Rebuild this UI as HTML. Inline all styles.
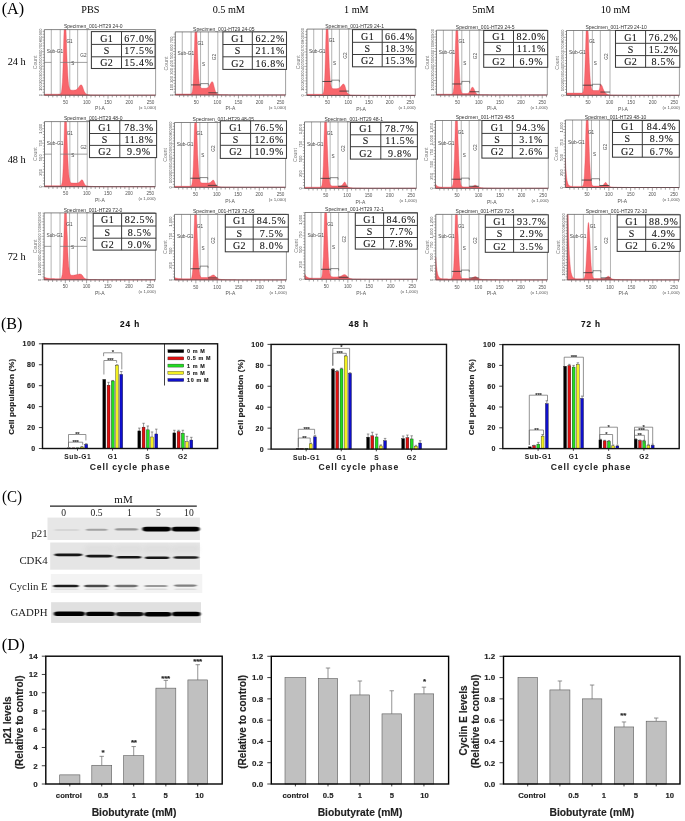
<!DOCTYPE html>
<html><head><meta charset="utf-8"><title>Figure</title>
<style>
html,body{margin:0;padding:0;background:#fff;}
body{width:685px;height:821px;overflow:hidden;}
svg{display:block;}
.s{font-family:'Liberation Sans',Arial,sans-serif;}
.t{font-family:'Liberation Serif','Times New Roman',serif;}
</style></head>
<body>
<svg width="685" height="821" viewBox="0 0 685 821">
<rect x="0" y="0" width="685" height="821" fill="#fff"/>
<text class="t" x="1.70" y="13.60" font-size="17.2" fill="#000" textLength="22.40" lengthAdjust="spacingAndGlyphs">(A)</text>
<text class="t" x="0.90" y="328.80" font-size="17.2" fill="#000" textLength="21.40" lengthAdjust="spacingAndGlyphs">(B)</text>
<text class="t" x="2.00" y="502.10" font-size="17.0" fill="#000" textLength="20.10" lengthAdjust="spacingAndGlyphs">(C)</text>
<text class="t" x="1.70" y="649.50" font-size="17.2" fill="#000" textLength="23.20" lengthAdjust="spacingAndGlyphs">(D)</text>
<text class="t" x="90.40" y="13.10" font-size="10.2" fill="#000" text-anchor="middle">PBS</text>
<text class="t" x="228.80" y="13.10" font-size="10.2" fill="#000" text-anchor="middle">0.5 mM</text>
<text class="t" x="356.30" y="13.10" font-size="10.2" fill="#000" text-anchor="middle">1 mM</text>
<text class="t" x="483.40" y="13.10" font-size="10.2" fill="#000" text-anchor="middle">5mM</text>
<text class="t" x="615.50" y="13.10" font-size="10.2" fill="#000" text-anchor="middle">10 mM</text>
<text class="t" x="7.70" y="65.20" font-size="10.3" fill="#000">24 h</text>
<text class="t" x="7.70" y="162.70" font-size="10.3" fill="#000">48 h</text>
<text class="t" x="7.70" y="259.80" font-size="10.3" fill="#000">72 h</text>
<text class="s" x="93.27" y="28.30" font-size="5.0" fill="#333" text-anchor="middle">Specimen_001-HT29 24-0</text>
<line x1="51.31" y1="29.60" x2="51.31" y2="95.20" stroke="#939393" stroke-width="0.7" />
<line x1="60.23" y1="29.60" x2="60.23" y2="95.20" stroke="#939393" stroke-width="0.7" />
<line x1="69.79" y1="29.60" x2="69.79" y2="95.20" stroke="#939393" stroke-width="0.7" />
<line x1="77.65" y1="29.60" x2="77.65" y2="95.20" stroke="#939393" stroke-width="0.7" />
<line x1="87.21" y1="29.60" x2="87.21" y2="95.20" stroke="#939393" stroke-width="0.7" />
<path d="M44.3,95.2 L44.3,94.2 L58.3,94.2 L58.5,94.1 L60.0,94.1 L60.4,93.9 L60.7,93.7 L61.1,93.0 L61.3,92.3 L61.5,91.3 L61.7,89.9 L61.9,88.0 L62.1,85.4 L62.4,82.1 L62.6,77.8 L62.8,72.7 L63.0,66.7 L63.2,59.9 L63.4,52.5 L63.8,37.3 L64.1,30.2 L64.3,29.6 L66.0,29.6 L66.2,34.7 L66.4,40.4 L66.8,52.2 L67.0,57.9 L67.2,63.3 L67.5,68.1 L67.7,72.4 L67.9,76.1 L68.1,79.1 L68.3,81.5 L68.5,83.5 L68.7,85.0 L68.9,86.2 L69.2,87.2 L69.4,88.0 L69.6,88.6 L69.8,89.1 L70.2,89.7 L70.4,89.8 L70.6,90.0 L71.3,90.1 L71.5,90.2 L74.2,90.2 L74.5,90.1 L74.9,90.1 L75.5,89.9 L75.7,89.9 L76.6,89.5 L76.8,89.3 L77.0,89.2 L77.4,88.8 L77.6,88.5 L77.9,88.3 L78.3,87.7 L78.7,87.2 L79.1,86.5 L79.3,86.2 L79.6,86.0 L80.2,85.2 L80.6,84.9 L80.8,84.9 L81.0,84.8 L81.7,85.1 L82.1,85.7 L82.3,86.1 L82.7,87.1 L83.0,87.7 L83.2,88.4 L84.0,90.8 L84.4,91.7 L84.7,92.1 L85.1,92.8 L86.1,93.9 L87.6,94.6 L87.8,94.6 L88.1,94.7 L88.5,94.7 L89.5,94.8 L89.8,94.9 L92.1,94.9 L92.9,95.0 L97.2,95.0 L98.0,95.1 L103.1,95.1 L103.3,95.2 L155.6,95.2 L155.6,95.2 Z" fill="#f8666c" stroke="#dc4450" stroke-width="0.35" />
<line x1="44.30" y1="62.40" x2="51.31" y2="62.40" stroke="#777" stroke-width="0.7" />
<line x1="60.23" y1="62.40" x2="87.21" y2="62.40" stroke="#777" stroke-width="0.7" />
<text class="s" x="54.97" y="53.22" font-size="4.8" fill="#444" text-anchor="middle">Sub-G1</text>
<text class="s" x="66.53" y="42.72" font-size="4.6" fill="#444">G1</text>
<text class="s" x="72.72" y="65.02" font-size="4.6" fill="#444" text-anchor="middle">S</text>
<text class="s" x="83.43" y="57.15" font-size="4.6" fill="#444" text-anchor="middle">G2</text>
<line x1="44.30" y1="29.60" x2="155.60" y2="29.60" stroke="#666" stroke-width="0.8" />
<line x1="155.60" y1="29.60" x2="155.60" y2="95.20" stroke="#777" stroke-width="0.7" />
<line x1="44.30" y1="29.60" x2="44.30" y2="95.20" stroke="#555" stroke-width="0.8" />
<line x1="44.30" y1="95.20" x2="155.60" y2="95.20" stroke="#5a4448" stroke-width="0.9" />
<line x1="48.55" y1="95.20" x2="48.55" y2="97.40" stroke="#666" stroke-width="0.6" />
<line x1="52.80" y1="95.20" x2="52.80" y2="97.40" stroke="#666" stroke-width="0.6" />
<line x1="57.04" y1="95.20" x2="57.04" y2="97.40" stroke="#666" stroke-width="0.6" />
<line x1="61.29" y1="95.20" x2="61.29" y2="97.40" stroke="#666" stroke-width="0.6" />
<line x1="65.54" y1="95.20" x2="65.54" y2="98.60" stroke="#666" stroke-width="0.6" />
<text class="s" x="65.54" y="103.80" font-size="4.6" fill="#555" text-anchor="middle">50</text>
<line x1="69.79" y1="95.20" x2="69.79" y2="97.40" stroke="#666" stroke-width="0.6" />
<line x1="74.04" y1="95.20" x2="74.04" y2="97.40" stroke="#666" stroke-width="0.6" />
<line x1="78.28" y1="95.20" x2="78.28" y2="97.40" stroke="#666" stroke-width="0.6" />
<line x1="82.53" y1="95.20" x2="82.53" y2="97.40" stroke="#666" stroke-width="0.6" />
<line x1="86.78" y1="95.20" x2="86.78" y2="98.60" stroke="#666" stroke-width="0.6" />
<text class="s" x="86.78" y="103.80" font-size="4.6" fill="#555" text-anchor="middle">100</text>
<line x1="91.03" y1="95.20" x2="91.03" y2="97.40" stroke="#666" stroke-width="0.6" />
<line x1="95.28" y1="95.20" x2="95.28" y2="97.40" stroke="#666" stroke-width="0.6" />
<line x1="99.53" y1="95.20" x2="99.53" y2="97.40" stroke="#666" stroke-width="0.6" />
<line x1="103.77" y1="95.20" x2="103.77" y2="97.40" stroke="#666" stroke-width="0.6" />
<line x1="108.02" y1="95.20" x2="108.02" y2="98.60" stroke="#666" stroke-width="0.6" />
<text class="s" x="108.02" y="103.80" font-size="4.6" fill="#555" text-anchor="middle">150</text>
<line x1="112.27" y1="95.20" x2="112.27" y2="97.40" stroke="#666" stroke-width="0.6" />
<line x1="116.52" y1="95.20" x2="116.52" y2="97.40" stroke="#666" stroke-width="0.6" />
<line x1="120.77" y1="95.20" x2="120.77" y2="97.40" stroke="#666" stroke-width="0.6" />
<line x1="125.01" y1="95.20" x2="125.01" y2="97.40" stroke="#666" stroke-width="0.6" />
<line x1="129.26" y1="95.20" x2="129.26" y2="98.60" stroke="#666" stroke-width="0.6" />
<text class="s" x="129.26" y="103.80" font-size="4.6" fill="#555" text-anchor="middle">200</text>
<line x1="133.51" y1="95.20" x2="133.51" y2="97.40" stroke="#666" stroke-width="0.6" />
<line x1="137.76" y1="95.20" x2="137.76" y2="97.40" stroke="#666" stroke-width="0.6" />
<line x1="142.01" y1="95.20" x2="142.01" y2="97.40" stroke="#666" stroke-width="0.6" />
<line x1="146.25" y1="95.20" x2="146.25" y2="97.40" stroke="#666" stroke-width="0.6" />
<line x1="150.50" y1="95.20" x2="150.50" y2="98.60" stroke="#666" stroke-width="0.6" />
<text class="s" x="150.50" y="103.80" font-size="4.6" fill="#555" text-anchor="middle">250</text>
<line x1="154.75" y1="95.20" x2="154.75" y2="97.40" stroke="#666" stroke-width="0.6" />
<text class="s" x="99.95" y="110.40" font-size="5.0" fill="#555" text-anchor="middle">PI-A</text>
<text class="s" x="156.10" y="108.80" font-size="4.4" fill="#555" text-anchor="end">(x 1,000)</text>
<line x1="41.70" y1="95.20" x2="44.30" y2="95.20" stroke="#666" stroke-width="0.5" />
<line x1="42.70" y1="92.30" x2="44.30" y2="92.30" stroke="#666" stroke-width="0.5" />
<line x1="42.70" y1="89.40" x2="44.30" y2="89.40" stroke="#666" stroke-width="0.5" />
<line x1="42.70" y1="86.50" x2="44.30" y2="86.50" stroke="#666" stroke-width="0.5" />
<line x1="42.70" y1="83.60" x2="44.30" y2="83.60" stroke="#666" stroke-width="0.5" />
<line x1="41.70" y1="80.70" x2="44.30" y2="80.70" stroke="#666" stroke-width="0.5" />
<line x1="42.70" y1="77.80" x2="44.30" y2="77.80" stroke="#666" stroke-width="0.5" />
<line x1="42.70" y1="74.90" x2="44.30" y2="74.90" stroke="#666" stroke-width="0.5" />
<line x1="42.70" y1="72.00" x2="44.30" y2="72.00" stroke="#666" stroke-width="0.5" />
<line x1="42.70" y1="69.10" x2="44.30" y2="69.10" stroke="#666" stroke-width="0.5" />
<line x1="41.70" y1="66.20" x2="44.30" y2="66.20" stroke="#666" stroke-width="0.5" />
<line x1="42.70" y1="63.30" x2="44.30" y2="63.30" stroke="#666" stroke-width="0.5" />
<line x1="42.70" y1="60.40" x2="44.30" y2="60.40" stroke="#666" stroke-width="0.5" />
<line x1="42.70" y1="57.50" x2="44.30" y2="57.50" stroke="#666" stroke-width="0.5" />
<line x1="42.70" y1="54.60" x2="44.30" y2="54.60" stroke="#666" stroke-width="0.5" />
<line x1="41.70" y1="51.70" x2="44.30" y2="51.70" stroke="#666" stroke-width="0.5" />
<line x1="42.70" y1="48.80" x2="44.30" y2="48.80" stroke="#666" stroke-width="0.5" />
<line x1="42.70" y1="45.90" x2="44.30" y2="45.90" stroke="#666" stroke-width="0.5" />
<line x1="42.70" y1="43.00" x2="44.30" y2="43.00" stroke="#666" stroke-width="0.5" />
<line x1="42.70" y1="40.10" x2="44.30" y2="40.10" stroke="#666" stroke-width="0.5" />
<line x1="41.70" y1="37.20" x2="44.30" y2="37.20" stroke="#666" stroke-width="0.5" />
<line x1="42.70" y1="34.30" x2="44.30" y2="34.30" stroke="#666" stroke-width="0.5" />
<line x1="42.70" y1="31.40" x2="44.30" y2="31.40" stroke="#666" stroke-width="0.5" />
<text class="s" x="41.70" y="95.20" font-size="4.1" fill="#555" text-anchor="middle" transform="rotate(-90 41.70 95.20)">0</text>
<text class="s" x="41.70" y="87.52" font-size="4.1" fill="#555" text-anchor="middle" transform="rotate(-90 41.70 87.52)">100</text>
<text class="s" x="41.70" y="80.57" font-size="4.1" fill="#555" text-anchor="middle" transform="rotate(-90 41.70 80.57)">200</text>
<text class="s" x="41.70" y="73.62" font-size="4.1" fill="#555" text-anchor="middle" transform="rotate(-90 41.70 73.62)">300</text>
<text class="s" x="41.70" y="66.66" font-size="4.1" fill="#555" text-anchor="middle" transform="rotate(-90 41.70 66.66)">400</text>
<text class="s" x="41.70" y="59.71" font-size="4.1" fill="#555" text-anchor="middle" transform="rotate(-90 41.70 59.71)">500</text>
<text class="s" x="41.70" y="52.76" font-size="4.1" fill="#555" text-anchor="middle" transform="rotate(-90 41.70 52.76)">600</text>
<text class="s" x="41.70" y="45.80" font-size="4.1" fill="#555" text-anchor="middle" transform="rotate(-90 41.70 45.80)">700</text>
<text class="s" x="41.70" y="38.85" font-size="4.1" fill="#555" text-anchor="middle" transform="rotate(-90 41.70 38.85)">800</text>
<text class="s" x="41.70" y="31.90" font-size="4.1" fill="#555" text-anchor="middle" transform="rotate(-90 41.70 31.90)">900</text>
<text class="s" x="37.10" y="62.40" font-size="5.2" fill="#777" text-anchor="middle" transform="rotate(-90 37.10 62.40)">Count</text>
<rect x="91.40" y="31.60" width="63.70" height="36.90" fill="#fff" stroke="#3c3c3c" stroke-width="1.05" />
<line x1="91.40" y1="44.40" x2="155.10" y2="44.40" stroke="#3c3c3c" stroke-width="1.0" />
<line x1="91.40" y1="56.80" x2="155.10" y2="56.80" stroke="#3c3c3c" stroke-width="1.0" />
<line x1="121.50" y1="31.60" x2="121.50" y2="68.50" stroke="#3c3c3c" stroke-width="1.0" />
<text class="t" x="106.65" y="41.60" font-size="10.0" fill="#111" text-anchor="middle" letter-spacing="0.4" stroke="#111" stroke-width="0.1">G1</text>
<text class="t" x="139.10" y="41.60" font-size="10.0" fill="#111" text-anchor="middle" letter-spacing="0.75" stroke="#111" stroke-width="0.1">67.0%</text>
<text class="t" x="106.65" y="54.20" font-size="10.0" fill="#111" text-anchor="middle" letter-spacing="0.4" stroke="#111" stroke-width="0.1">S</text>
<text class="t" x="139.10" y="54.20" font-size="10.0" fill="#111" text-anchor="middle" letter-spacing="0.75" stroke="#111" stroke-width="0.1">17.5%</text>
<text class="t" x="106.65" y="66.25" font-size="10.0" fill="#111" text-anchor="middle" letter-spacing="0.4" stroke="#111" stroke-width="0.1">G2</text>
<text class="t" x="139.10" y="66.25" font-size="10.0" fill="#111" text-anchor="middle" letter-spacing="0.75" stroke="#111" stroke-width="0.1">15.4%</text>
<text class="s" x="223.83" y="30.60" font-size="5.0" fill="#333" text-anchor="middle">Specimen_001-HT29 24-05</text>
<line x1="182.25" y1="31.90" x2="182.25" y2="95.00" stroke="#939393" stroke-width="0.7" />
<line x1="191.09" y1="31.90" x2="191.09" y2="95.00" stroke="#939393" stroke-width="0.7" />
<line x1="200.56" y1="31.90" x2="200.56" y2="95.00" stroke="#939393" stroke-width="0.7" />
<line x1="208.35" y1="31.90" x2="208.35" y2="95.00" stroke="#939393" stroke-width="0.7" />
<line x1="217.82" y1="31.90" x2="217.82" y2="95.00" stroke="#939393" stroke-width="0.7" />
<path d="M175.3,95.0 L175.3,94.0 L190.5,94.0 L190.7,93.9 L191.1,93.9 L191.5,93.6 L191.9,92.9 L192.1,92.2 L192.4,91.3 L192.6,89.9 L192.8,88.1 L193.0,85.6 L193.2,82.4 L193.4,78.3 L193.6,73.4 L193.8,67.6 L194.0,61.1 L194.2,54.0 L194.5,46.6 L194.7,39.3 L194.9,32.5 L195.1,31.9 L196.8,31.9 L197.0,36.8 L197.2,42.3 L197.6,53.6 L197.8,59.1 L198.0,64.1 L198.2,68.7 L198.5,72.7 L198.7,76.1 L198.9,78.8 L199.1,80.9 L199.3,82.5 L199.5,83.8 L199.7,84.8 L199.9,85.7 L200.3,86.9 L200.8,87.6 L201.2,88.0 L201.6,88.2 L202.0,88.2 L202.2,88.3 L205.8,88.3 L206.2,88.2 L206.5,88.2 L206.7,88.1 L206.9,88.1 L207.7,87.7 L208.3,87.2 L208.8,86.7 L209.2,86.1 L210.2,84.1 L210.5,83.7 L210.9,82.9 L211.5,82.0 L211.7,81.8 L212.1,81.7 L212.6,81.9 L212.8,82.2 L213.0,82.6 L213.2,83.1 L213.6,84.5 L213.8,85.3 L214.2,87.1 L214.5,88.0 L214.9,89.6 L215.1,90.3 L215.7,91.9 L216.1,92.7 L216.3,93.0 L216.6,93.2 L217.0,93.7 L217.6,94.1 L218.0,94.3 L218.2,94.3 L218.5,94.4 L219.1,94.5 L219.3,94.5 L219.7,94.6 L220.3,94.6 L220.6,94.7 L222.7,94.7 L223.1,94.8 L227.9,94.8 L228.1,94.9 L233.8,94.9 L234.2,95.0 L285.6,95.0 L285.6,95.0 Z" fill="#f8666c" stroke="#dc4450" stroke-width="0.35" />
<line x1="191.09" y1="84.90" x2="200.56" y2="84.90" stroke="#333" stroke-width="0.8" />
<line x1="200.56" y1="83.64" x2="208.35" y2="83.64" stroke="#555" stroke-width="0.7" />
<line x1="200.56" y1="83.64" x2="200.56" y2="85.64" stroke="#555" stroke-width="0.6" />
<line x1="208.35" y1="83.64" x2="208.35" y2="85.64" stroke="#555" stroke-width="0.6" />
<line x1="208.35" y1="92.79" x2="217.82" y2="92.79" stroke="#333" stroke-width="0.8" />
<text class="s" x="185.87" y="54.62" font-size="4.8" fill="#444" text-anchor="middle">Sub-G1</text>
<text class="s" x="197.39" y="44.52" font-size="4.6" fill="#444">G1</text>
<text class="s" x="203.45" y="65.97" font-size="4.6" fill="#444" text-anchor="middle">S</text>
<text class="s" x="215.68" y="57.14" font-size="4.8" fill="#444" text-anchor="middle" transform="rotate(-90 215.68 57.14)">G2</text>
<line x1="175.30" y1="31.90" x2="285.60" y2="31.90" stroke="#666" stroke-width="0.8" />
<line x1="285.60" y1="31.90" x2="285.60" y2="95.00" stroke="#777" stroke-width="0.7" />
<line x1="175.30" y1="31.90" x2="175.30" y2="95.00" stroke="#555" stroke-width="0.8" />
<line x1="175.30" y1="95.00" x2="285.60" y2="95.00" stroke="#5a4448" stroke-width="0.9" />
<line x1="179.51" y1="95.00" x2="179.51" y2="97.20" stroke="#666" stroke-width="0.6" />
<line x1="183.72" y1="95.00" x2="183.72" y2="97.20" stroke="#666" stroke-width="0.6" />
<line x1="187.93" y1="95.00" x2="187.93" y2="97.20" stroke="#666" stroke-width="0.6" />
<line x1="192.14" y1="95.00" x2="192.14" y2="97.20" stroke="#666" stroke-width="0.6" />
<line x1="196.35" y1="95.00" x2="196.35" y2="98.40" stroke="#666" stroke-width="0.6" />
<text class="s" x="196.35" y="103.60" font-size="4.6" fill="#555" text-anchor="middle">50</text>
<line x1="200.56" y1="95.00" x2="200.56" y2="97.20" stroke="#666" stroke-width="0.6" />
<line x1="204.77" y1="95.00" x2="204.77" y2="97.20" stroke="#666" stroke-width="0.6" />
<line x1="208.98" y1="95.00" x2="208.98" y2="97.20" stroke="#666" stroke-width="0.6" />
<line x1="213.19" y1="95.00" x2="213.19" y2="97.20" stroke="#666" stroke-width="0.6" />
<line x1="217.40" y1="95.00" x2="217.40" y2="98.40" stroke="#666" stroke-width="0.6" />
<text class="s" x="217.40" y="103.60" font-size="4.6" fill="#555" text-anchor="middle">100</text>
<line x1="221.61" y1="95.00" x2="221.61" y2="97.20" stroke="#666" stroke-width="0.6" />
<line x1="225.82" y1="95.00" x2="225.82" y2="97.20" stroke="#666" stroke-width="0.6" />
<line x1="230.03" y1="95.00" x2="230.03" y2="97.20" stroke="#666" stroke-width="0.6" />
<line x1="234.24" y1="95.00" x2="234.24" y2="97.20" stroke="#666" stroke-width="0.6" />
<line x1="238.45" y1="95.00" x2="238.45" y2="98.40" stroke="#666" stroke-width="0.6" />
<text class="s" x="238.45" y="103.60" font-size="4.6" fill="#555" text-anchor="middle">150</text>
<line x1="242.66" y1="95.00" x2="242.66" y2="97.20" stroke="#666" stroke-width="0.6" />
<line x1="246.87" y1="95.00" x2="246.87" y2="97.20" stroke="#666" stroke-width="0.6" />
<line x1="251.08" y1="95.00" x2="251.08" y2="97.20" stroke="#666" stroke-width="0.6" />
<line x1="255.29" y1="95.00" x2="255.29" y2="97.20" stroke="#666" stroke-width="0.6" />
<line x1="259.50" y1="95.00" x2="259.50" y2="98.40" stroke="#666" stroke-width="0.6" />
<text class="s" x="259.50" y="103.60" font-size="4.6" fill="#555" text-anchor="middle">200</text>
<line x1="263.71" y1="95.00" x2="263.71" y2="97.20" stroke="#666" stroke-width="0.6" />
<line x1="267.92" y1="95.00" x2="267.92" y2="97.20" stroke="#666" stroke-width="0.6" />
<line x1="272.13" y1="95.00" x2="272.13" y2="97.20" stroke="#666" stroke-width="0.6" />
<line x1="276.34" y1="95.00" x2="276.34" y2="97.20" stroke="#666" stroke-width="0.6" />
<line x1="280.55" y1="95.00" x2="280.55" y2="98.40" stroke="#666" stroke-width="0.6" />
<text class="s" x="280.55" y="103.60" font-size="4.6" fill="#555" text-anchor="middle">250</text>
<line x1="284.76" y1="95.00" x2="284.76" y2="97.20" stroke="#666" stroke-width="0.6" />
<text class="s" x="230.45" y="110.20" font-size="5.0" fill="#555" text-anchor="middle">PI-A</text>
<text class="s" x="286.10" y="108.60" font-size="4.4" fill="#555" text-anchor="end">(x 1,000)</text>
<line x1="172.70" y1="95.00" x2="175.30" y2="95.00" stroke="#666" stroke-width="0.5" />
<line x1="173.70" y1="92.10" x2="175.30" y2="92.10" stroke="#666" stroke-width="0.5" />
<line x1="173.70" y1="89.20" x2="175.30" y2="89.20" stroke="#666" stroke-width="0.5" />
<line x1="173.70" y1="86.30" x2="175.30" y2="86.30" stroke="#666" stroke-width="0.5" />
<line x1="173.70" y1="83.40" x2="175.30" y2="83.40" stroke="#666" stroke-width="0.5" />
<line x1="172.70" y1="80.50" x2="175.30" y2="80.50" stroke="#666" stroke-width="0.5" />
<line x1="173.70" y1="77.60" x2="175.30" y2="77.60" stroke="#666" stroke-width="0.5" />
<line x1="173.70" y1="74.70" x2="175.30" y2="74.70" stroke="#666" stroke-width="0.5" />
<line x1="173.70" y1="71.80" x2="175.30" y2="71.80" stroke="#666" stroke-width="0.5" />
<line x1="173.70" y1="68.90" x2="175.30" y2="68.90" stroke="#666" stroke-width="0.5" />
<line x1="172.70" y1="66.00" x2="175.30" y2="66.00" stroke="#666" stroke-width="0.5" />
<line x1="173.70" y1="63.10" x2="175.30" y2="63.10" stroke="#666" stroke-width="0.5" />
<line x1="173.70" y1="60.20" x2="175.30" y2="60.20" stroke="#666" stroke-width="0.5" />
<line x1="173.70" y1="57.30" x2="175.30" y2="57.30" stroke="#666" stroke-width="0.5" />
<line x1="173.70" y1="54.40" x2="175.30" y2="54.40" stroke="#666" stroke-width="0.5" />
<line x1="172.70" y1="51.50" x2="175.30" y2="51.50" stroke="#666" stroke-width="0.5" />
<line x1="173.70" y1="48.60" x2="175.30" y2="48.60" stroke="#666" stroke-width="0.5" />
<line x1="173.70" y1="45.70" x2="175.30" y2="45.70" stroke="#666" stroke-width="0.5" />
<line x1="173.70" y1="42.80" x2="175.30" y2="42.80" stroke="#666" stroke-width="0.5" />
<line x1="173.70" y1="39.90" x2="175.30" y2="39.90" stroke="#666" stroke-width="0.5" />
<line x1="172.70" y1="37.00" x2="175.30" y2="37.00" stroke="#666" stroke-width="0.5" />
<line x1="173.70" y1="34.10" x2="175.30" y2="34.10" stroke="#666" stroke-width="0.5" />
<text class="s" x="172.70" y="95.00" font-size="4.1" fill="#555" text-anchor="middle" transform="rotate(-90 172.70 95.00)">0</text>
<text class="s" x="172.70" y="87.11" font-size="4.1" fill="#555" text-anchor="middle" transform="rotate(-90 172.70 87.11)">100</text>
<text class="s" x="172.70" y="79.22" font-size="4.1" fill="#555" text-anchor="middle" transform="rotate(-90 172.70 79.22)">200</text>
<text class="s" x="172.70" y="71.34" font-size="4.1" fill="#555" text-anchor="middle" transform="rotate(-90 172.70 71.34)">300</text>
<text class="s" x="172.70" y="63.45" font-size="4.1" fill="#555" text-anchor="middle" transform="rotate(-90 172.70 63.45)">400</text>
<text class="s" x="172.70" y="55.56" font-size="4.1" fill="#555" text-anchor="middle" transform="rotate(-90 172.70 55.56)">500</text>
<text class="s" x="172.70" y="47.67" font-size="4.1" fill="#555" text-anchor="middle" transform="rotate(-90 172.70 47.67)">600</text>
<text class="s" x="172.70" y="39.79" font-size="4.1" fill="#555" text-anchor="middle" transform="rotate(-90 172.70 39.79)">700</text>
<text class="s" x="168.10" y="63.45" font-size="5.2" fill="#777" text-anchor="middle" transform="rotate(-90 168.10 63.45)">Count</text>
<rect x="222.90" y="31.90" width="63.60" height="37.50" fill="#fff" stroke="#3c3c3c" stroke-width="1.05" />
<line x1="222.90" y1="44.50" x2="286.50" y2="44.50" stroke="#3c3c3c" stroke-width="1.0" />
<line x1="222.90" y1="56.80" x2="286.50" y2="56.80" stroke="#3c3c3c" stroke-width="1.0" />
<line x1="252.30" y1="31.90" x2="252.30" y2="69.40" stroke="#3c3c3c" stroke-width="1.0" />
<text class="t" x="237.80" y="41.80" font-size="10.0" fill="#111" text-anchor="middle" letter-spacing="0.4" stroke="#111" stroke-width="0.1">G1</text>
<text class="t" x="270.20" y="41.80" font-size="10.0" fill="#111" text-anchor="middle" letter-spacing="0.75" stroke="#111" stroke-width="0.1">62.2%</text>
<text class="t" x="237.80" y="54.25" font-size="10.0" fill="#111" text-anchor="middle" letter-spacing="0.4" stroke="#111" stroke-width="0.1">S</text>
<text class="t" x="270.20" y="54.25" font-size="10.0" fill="#111" text-anchor="middle" letter-spacing="0.75" stroke="#111" stroke-width="0.1">21.1%</text>
<text class="t" x="237.80" y="66.70" font-size="10.0" fill="#111" text-anchor="middle" letter-spacing="0.4" stroke="#111" stroke-width="0.1">G2</text>
<text class="t" x="270.20" y="66.70" font-size="10.0" fill="#111" text-anchor="middle" letter-spacing="0.75" stroke="#111" stroke-width="0.1">16.8%</text>
<text class="s" x="354.60" y="27.80" font-size="5.0" fill="#333" text-anchor="middle">Specimen_001-HT29 24-1</text>
<line x1="313.73" y1="29.10" x2="313.73" y2="95.40" stroke="#939393" stroke-width="0.7" />
<line x1="322.42" y1="29.10" x2="322.42" y2="95.40" stroke="#939393" stroke-width="0.7" />
<line x1="331.72" y1="29.10" x2="331.72" y2="95.40" stroke="#939393" stroke-width="0.7" />
<line x1="339.38" y1="29.10" x2="339.38" y2="95.40" stroke="#939393" stroke-width="0.7" />
<line x1="348.69" y1="29.10" x2="348.69" y2="95.40" stroke="#939393" stroke-width="0.7" />
<path d="M306.9,95.4 L306.9,94.3 L322.2,94.3 L322.6,94.1 L322.8,93.9 L323.2,93.2 L323.7,91.5 L323.9,90.1 L324.1,88.1 L324.3,85.5 L324.5,82.1 L324.7,77.9 L324.9,72.7 L325.1,66.6 L325.3,59.7 L325.5,52.3 L325.7,44.5 L325.9,36.9 L326.1,29.7 L326.3,29.1 L328.0,29.1 L328.2,34.2 L328.4,40.0 L328.8,51.9 L329.0,57.6 L329.2,63.0 L329.4,67.8 L329.7,72.1 L329.9,75.6 L330.1,78.5 L330.3,80.8 L330.5,82.5 L330.7,83.9 L330.9,85.0 L331.1,85.9 L331.5,87.2 L331.9,87.9 L332.1,88.2 L332.6,88.5 L333.2,88.6 L333.4,88.7 L336.7,88.7 L336.9,88.6 L337.7,88.6 L337.9,88.5 L338.1,88.5 L339.6,87.8 L340.6,86.8 L341.0,86.2 L341.4,85.7 L341.9,85.2 L342.7,84.3 L343.1,84.0 L343.5,84.0 L343.9,84.2 L344.1,84.4 L344.6,85.1 L344.8,85.5 L345.2,86.7 L346.2,90.3 L346.6,91.5 L347.0,92.4 L347.4,93.0 L347.7,93.3 L347.9,93.6 L348.3,94.0 L348.7,94.2 L348.9,94.4 L349.3,94.6 L349.5,94.6 L349.9,94.8 L350.1,94.8 L350.3,94.9 L350.8,94.9 L351.4,95.0 L351.8,95.0 L352.4,95.1 L354.3,95.1 L354.5,95.2 L359.4,95.2 L359.9,95.3 L365.0,95.3 L365.2,95.4 L415.3,95.4 L415.3,95.4 Z" fill="#f8666c" stroke="#dc4450" stroke-width="0.35" />
<line x1="322.42" y1="81.48" x2="331.72" y2="81.48" stroke="#333" stroke-width="0.8" />
<line x1="331.72" y1="80.15" x2="339.38" y2="80.15" stroke="#555" stroke-width="0.7" />
<line x1="331.72" y1="80.15" x2="331.72" y2="82.15" stroke="#555" stroke-width="0.6" />
<line x1="339.38" y1="80.15" x2="339.38" y2="82.15" stroke="#555" stroke-width="0.6" />
<line x1="339.38" y1="91.09" x2="348.69" y2="91.09" stroke="#333" stroke-width="0.8" />
<text class="s" x="317.27" y="52.97" font-size="4.8" fill="#444" text-anchor="middle">Sub-G1</text>
<text class="s" x="328.72" y="42.36" font-size="4.6" fill="#444">G1</text>
<text class="s" x="334.55" y="64.90" font-size="4.6" fill="#444" text-anchor="middle">S</text>
<text class="s" x="346.63" y="55.62" font-size="4.8" fill="#444" text-anchor="middle" transform="rotate(-90 346.63 55.62)">G2</text>
<line x1="306.90" y1="29.10" x2="415.30" y2="29.10" stroke="#666" stroke-width="0.8" />
<line x1="415.30" y1="29.10" x2="415.30" y2="95.40" stroke="#777" stroke-width="0.7" />
<line x1="306.90" y1="29.10" x2="306.90" y2="95.40" stroke="#555" stroke-width="0.8" />
<line x1="306.90" y1="95.40" x2="415.30" y2="95.40" stroke="#5a4448" stroke-width="0.9" />
<line x1="311.04" y1="95.40" x2="311.04" y2="97.60" stroke="#666" stroke-width="0.6" />
<line x1="315.17" y1="95.40" x2="315.17" y2="97.60" stroke="#666" stroke-width="0.6" />
<line x1="319.31" y1="95.40" x2="319.31" y2="97.60" stroke="#666" stroke-width="0.6" />
<line x1="323.45" y1="95.40" x2="323.45" y2="97.60" stroke="#666" stroke-width="0.6" />
<line x1="327.59" y1="95.40" x2="327.59" y2="98.80" stroke="#666" stroke-width="0.6" />
<text class="s" x="327.59" y="104.00" font-size="4.6" fill="#555" text-anchor="middle">50</text>
<line x1="331.72" y1="95.40" x2="331.72" y2="97.60" stroke="#666" stroke-width="0.6" />
<line x1="335.86" y1="95.40" x2="335.86" y2="97.60" stroke="#666" stroke-width="0.6" />
<line x1="340.00" y1="95.40" x2="340.00" y2="97.60" stroke="#666" stroke-width="0.6" />
<line x1="344.14" y1="95.40" x2="344.14" y2="97.60" stroke="#666" stroke-width="0.6" />
<line x1="348.27" y1="95.40" x2="348.27" y2="98.80" stroke="#666" stroke-width="0.6" />
<text class="s" x="348.27" y="104.00" font-size="4.6" fill="#555" text-anchor="middle">100</text>
<line x1="352.41" y1="95.40" x2="352.41" y2="97.60" stroke="#666" stroke-width="0.6" />
<line x1="356.55" y1="95.40" x2="356.55" y2="97.60" stroke="#666" stroke-width="0.6" />
<line x1="360.69" y1="95.40" x2="360.69" y2="97.60" stroke="#666" stroke-width="0.6" />
<line x1="364.82" y1="95.40" x2="364.82" y2="97.60" stroke="#666" stroke-width="0.6" />
<line x1="368.96" y1="95.40" x2="368.96" y2="98.80" stroke="#666" stroke-width="0.6" />
<text class="s" x="368.96" y="104.00" font-size="4.6" fill="#555" text-anchor="middle">150</text>
<line x1="373.10" y1="95.40" x2="373.10" y2="97.60" stroke="#666" stroke-width="0.6" />
<line x1="377.24" y1="95.40" x2="377.24" y2="97.60" stroke="#666" stroke-width="0.6" />
<line x1="381.37" y1="95.40" x2="381.37" y2="97.60" stroke="#666" stroke-width="0.6" />
<line x1="385.51" y1="95.40" x2="385.51" y2="97.60" stroke="#666" stroke-width="0.6" />
<line x1="389.65" y1="95.40" x2="389.65" y2="98.80" stroke="#666" stroke-width="0.6" />
<text class="s" x="389.65" y="104.00" font-size="4.6" fill="#555" text-anchor="middle">200</text>
<line x1="393.79" y1="95.40" x2="393.79" y2="97.60" stroke="#666" stroke-width="0.6" />
<line x1="397.92" y1="95.40" x2="397.92" y2="97.60" stroke="#666" stroke-width="0.6" />
<line x1="402.06" y1="95.40" x2="402.06" y2="97.60" stroke="#666" stroke-width="0.6" />
<line x1="406.20" y1="95.40" x2="406.20" y2="97.60" stroke="#666" stroke-width="0.6" />
<line x1="410.34" y1="95.40" x2="410.34" y2="98.80" stroke="#666" stroke-width="0.6" />
<text class="s" x="410.34" y="104.00" font-size="4.6" fill="#555" text-anchor="middle">250</text>
<line x1="414.47" y1="95.40" x2="414.47" y2="97.60" stroke="#666" stroke-width="0.6" />
<text class="s" x="361.10" y="110.60" font-size="5.0" fill="#555" text-anchor="middle">PI-A</text>
<text class="s" x="415.80" y="109.00" font-size="4.4" fill="#555" text-anchor="end">(x 1,000)</text>
<line x1="304.30" y1="95.40" x2="306.90" y2="95.40" stroke="#666" stroke-width="0.5" />
<line x1="305.30" y1="92.50" x2="306.90" y2="92.50" stroke="#666" stroke-width="0.5" />
<line x1="305.30" y1="89.60" x2="306.90" y2="89.60" stroke="#666" stroke-width="0.5" />
<line x1="305.30" y1="86.70" x2="306.90" y2="86.70" stroke="#666" stroke-width="0.5" />
<line x1="305.30" y1="83.80" x2="306.90" y2="83.80" stroke="#666" stroke-width="0.5" />
<line x1="304.30" y1="80.90" x2="306.90" y2="80.90" stroke="#666" stroke-width="0.5" />
<line x1="305.30" y1="78.00" x2="306.90" y2="78.00" stroke="#666" stroke-width="0.5" />
<line x1="305.30" y1="75.10" x2="306.90" y2="75.10" stroke="#666" stroke-width="0.5" />
<line x1="305.30" y1="72.20" x2="306.90" y2="72.20" stroke="#666" stroke-width="0.5" />
<line x1="305.30" y1="69.30" x2="306.90" y2="69.30" stroke="#666" stroke-width="0.5" />
<line x1="304.30" y1="66.40" x2="306.90" y2="66.40" stroke="#666" stroke-width="0.5" />
<line x1="305.30" y1="63.50" x2="306.90" y2="63.50" stroke="#666" stroke-width="0.5" />
<line x1="305.30" y1="60.60" x2="306.90" y2="60.60" stroke="#666" stroke-width="0.5" />
<line x1="305.30" y1="57.70" x2="306.90" y2="57.70" stroke="#666" stroke-width="0.5" />
<line x1="305.30" y1="54.80" x2="306.90" y2="54.80" stroke="#666" stroke-width="0.5" />
<line x1="304.30" y1="51.90" x2="306.90" y2="51.90" stroke="#666" stroke-width="0.5" />
<line x1="305.30" y1="49.00" x2="306.90" y2="49.00" stroke="#666" stroke-width="0.5" />
<line x1="305.30" y1="46.10" x2="306.90" y2="46.10" stroke="#666" stroke-width="0.5" />
<line x1="305.30" y1="43.20" x2="306.90" y2="43.20" stroke="#666" stroke-width="0.5" />
<line x1="305.30" y1="40.30" x2="306.90" y2="40.30" stroke="#666" stroke-width="0.5" />
<line x1="304.30" y1="37.40" x2="306.90" y2="37.40" stroke="#666" stroke-width="0.5" />
<line x1="305.30" y1="34.50" x2="306.90" y2="34.50" stroke="#666" stroke-width="0.5" />
<line x1="305.30" y1="31.60" x2="306.90" y2="31.60" stroke="#666" stroke-width="0.5" />
<text class="s" x="304.30" y="95.40" font-size="4.1" fill="#555" text-anchor="middle" transform="rotate(-90 304.30 95.40)">0</text>
<text class="s" x="304.30" y="87.64" font-size="4.1" fill="#555" text-anchor="middle" transform="rotate(-90 304.30 87.64)">100</text>
<text class="s" x="304.30" y="80.62" font-size="4.1" fill="#555" text-anchor="middle" transform="rotate(-90 304.30 80.62)">200</text>
<text class="s" x="304.30" y="73.59" font-size="4.1" fill="#555" text-anchor="middle" transform="rotate(-90 304.30 73.59)">300</text>
<text class="s" x="304.30" y="66.56" font-size="4.1" fill="#555" text-anchor="middle" transform="rotate(-90 304.30 66.56)">400</text>
<text class="s" x="304.30" y="59.53" font-size="4.1" fill="#555" text-anchor="middle" transform="rotate(-90 304.30 59.53)">500</text>
<text class="s" x="304.30" y="52.50" font-size="4.1" fill="#555" text-anchor="middle" transform="rotate(-90 304.30 52.50)">600</text>
<text class="s" x="304.30" y="45.48" font-size="4.1" fill="#555" text-anchor="middle" transform="rotate(-90 304.30 45.48)">700</text>
<text class="s" x="304.30" y="38.45" font-size="4.1" fill="#555" text-anchor="middle" transform="rotate(-90 304.30 38.45)">800</text>
<text class="s" x="304.30" y="31.42" font-size="4.1" fill="#555" text-anchor="middle" transform="rotate(-90 304.30 31.42)">900</text>
<text class="s" x="299.70" y="62.25" font-size="5.2" fill="#777" text-anchor="middle" transform="rotate(-90 299.70 62.25)">Count</text>
<rect x="352.50" y="29.60" width="63.50" height="37.20" fill="#fff" stroke="#3c3c3c" stroke-width="1.05" />
<line x1="352.50" y1="42.30" x2="416.00" y2="42.30" stroke="#3c3c3c" stroke-width="1.0" />
<line x1="352.50" y1="54.50" x2="416.00" y2="54.50" stroke="#3c3c3c" stroke-width="1.0" />
<line x1="382.20" y1="29.60" x2="382.20" y2="66.80" stroke="#3c3c3c" stroke-width="1.0" />
<text class="t" x="367.55" y="39.55" font-size="10.0" fill="#111" text-anchor="middle" letter-spacing="0.4" stroke="#111" stroke-width="0.1">G1</text>
<text class="t" x="399.90" y="39.55" font-size="10.0" fill="#111" text-anchor="middle" letter-spacing="0.75" stroke="#111" stroke-width="0.1">66.4%</text>
<text class="t" x="367.55" y="52.00" font-size="10.0" fill="#111" text-anchor="middle" letter-spacing="0.4" stroke="#111" stroke-width="0.1">S</text>
<text class="t" x="399.90" y="52.00" font-size="10.0" fill="#111" text-anchor="middle" letter-spacing="0.75" stroke="#111" stroke-width="0.1">18.3%</text>
<text class="t" x="367.55" y="64.25" font-size="10.0" fill="#111" text-anchor="middle" letter-spacing="0.4" stroke="#111" stroke-width="0.1">G2</text>
<text class="t" x="399.90" y="64.25" font-size="10.0" fill="#111" text-anchor="middle" letter-spacing="0.75" stroke="#111" stroke-width="0.1">15.3%</text>
<text class="s" x="485.20" y="28.90" font-size="5.0" fill="#333" text-anchor="middle">Specimen_001-HT29 24-5</text>
<line x1="443.38" y1="30.20" x2="443.38" y2="95.00" stroke="#939393" stroke-width="0.7" />
<line x1="452.27" y1="30.20" x2="452.27" y2="95.00" stroke="#939393" stroke-width="0.7" />
<line x1="461.80" y1="30.20" x2="461.80" y2="95.00" stroke="#939393" stroke-width="0.7" />
<line x1="469.63" y1="30.20" x2="469.63" y2="95.00" stroke="#939393" stroke-width="0.7" />
<line x1="479.15" y1="30.20" x2="479.15" y2="95.00" stroke="#939393" stroke-width="0.7" />
<path d="M436.4,95.0 L436.4,94.2 L451.6,94.2 L451.8,94.1 L452.1,94.1 L452.3,94.0 L452.7,93.5 L452.9,93.1 L453.1,92.4 L453.3,91.4 L453.8,88.1 L454.0,85.6 L454.2,82.3 L454.4,78.1 L454.6,73.0 L454.8,67.1 L455.0,60.4 L455.2,53.1 L455.4,45.5 L455.7,38.0 L455.9,31.1 L456.1,30.2 L457.6,30.2 L457.8,30.3 L458.0,35.5 L458.4,47.0 L458.6,52.9 L458.8,58.6 L459.0,64.0 L459.3,68.9 L459.5,73.3 L459.7,77.2 L459.9,80.6 L460.1,83.4 L460.3,85.7 L460.5,87.6 L460.7,89.1 L461.0,90.2 L461.2,91.1 L461.4,91.8 L461.8,92.7 L462.2,93.2 L462.9,93.5 L463.5,93.5 L463.9,93.6 L466.2,93.6 L466.9,93.5 L467.1,93.5 L467.5,93.4 L467.9,93.2 L468.1,93.2 L468.6,92.9 L469.0,92.5 L469.4,92.0 L469.8,91.3 L470.1,90.9 L470.7,89.7 L470.9,89.2 L471.5,88.0 L471.7,87.7 L472.0,87.5 L472.2,87.3 L472.4,87.2 L472.8,87.2 L473.2,87.6 L473.6,88.3 L473.9,88.7 L474.3,89.6 L474.9,91.1 L475.1,91.5 L475.3,92.0 L475.6,92.3 L475.8,92.7 L476.2,93.3 L476.8,93.9 L477.9,94.4 L478.1,94.4 L478.7,94.5 L478.9,94.6 L480.0,94.6 L480.2,94.7 L482.7,94.7 L483.4,94.8 L488.5,94.8 L488.7,94.9 L494.2,94.9 L494.4,95.0 L547.3,95.0 L547.3,95.0 Z" fill="#f8666c" stroke="#dc4450" stroke-width="0.35" />
<line x1="452.27" y1="83.98" x2="461.80" y2="83.98" stroke="#333" stroke-width="0.8" />
<line x1="461.80" y1="81.39" x2="469.63" y2="81.39" stroke="#555" stroke-width="0.7" />
<line x1="461.80" y1="81.39" x2="461.80" y2="83.39" stroke="#555" stroke-width="0.6" />
<line x1="469.63" y1="81.39" x2="469.63" y2="83.39" stroke="#555" stroke-width="0.6" />
<line x1="469.63" y1="91.76" x2="479.15" y2="91.76" stroke="#333" stroke-width="0.8" />
<text class="s" x="447.03" y="53.53" font-size="4.8" fill="#444" text-anchor="middle">Sub-G1</text>
<text class="s" x="458.57" y="43.16" font-size="4.6" fill="#444">G1</text>
<text class="s" x="464.71" y="65.19" font-size="4.6" fill="#444" text-anchor="middle">S</text>
<text class="s" x="476.99" y="56.12" font-size="4.8" fill="#444" text-anchor="middle" transform="rotate(-90 476.99 56.12)">G2</text>
<line x1="436.40" y1="30.20" x2="547.30" y2="30.20" stroke="#666" stroke-width="0.8" />
<line x1="547.30" y1="30.20" x2="547.30" y2="95.00" stroke="#777" stroke-width="0.7" />
<line x1="436.40" y1="30.20" x2="436.40" y2="95.00" stroke="#555" stroke-width="0.8" />
<line x1="436.40" y1="95.00" x2="547.30" y2="95.00" stroke="#5a4448" stroke-width="0.9" />
<line x1="440.63" y1="95.00" x2="440.63" y2="97.20" stroke="#666" stroke-width="0.6" />
<line x1="444.87" y1="95.00" x2="444.87" y2="97.20" stroke="#666" stroke-width="0.6" />
<line x1="449.10" y1="95.00" x2="449.10" y2="97.20" stroke="#666" stroke-width="0.6" />
<line x1="453.33" y1="95.00" x2="453.33" y2="97.20" stroke="#666" stroke-width="0.6" />
<line x1="457.56" y1="95.00" x2="457.56" y2="98.40" stroke="#666" stroke-width="0.6" />
<text class="s" x="457.56" y="103.60" font-size="4.6" fill="#555" text-anchor="middle">50</text>
<line x1="461.80" y1="95.00" x2="461.80" y2="97.20" stroke="#666" stroke-width="0.6" />
<line x1="466.03" y1="95.00" x2="466.03" y2="97.20" stroke="#666" stroke-width="0.6" />
<line x1="470.26" y1="95.00" x2="470.26" y2="97.20" stroke="#666" stroke-width="0.6" />
<line x1="474.50" y1="95.00" x2="474.50" y2="97.20" stroke="#666" stroke-width="0.6" />
<line x1="478.73" y1="95.00" x2="478.73" y2="98.40" stroke="#666" stroke-width="0.6" />
<text class="s" x="478.73" y="103.60" font-size="4.6" fill="#555" text-anchor="middle">100</text>
<line x1="482.96" y1="95.00" x2="482.96" y2="97.20" stroke="#666" stroke-width="0.6" />
<line x1="487.19" y1="95.00" x2="487.19" y2="97.20" stroke="#666" stroke-width="0.6" />
<line x1="491.43" y1="95.00" x2="491.43" y2="97.20" stroke="#666" stroke-width="0.6" />
<line x1="495.66" y1="95.00" x2="495.66" y2="97.20" stroke="#666" stroke-width="0.6" />
<line x1="499.89" y1="95.00" x2="499.89" y2="98.40" stroke="#666" stroke-width="0.6" />
<text class="s" x="499.89" y="103.60" font-size="4.6" fill="#555" text-anchor="middle">150</text>
<line x1="504.13" y1="95.00" x2="504.13" y2="97.20" stroke="#666" stroke-width="0.6" />
<line x1="508.36" y1="95.00" x2="508.36" y2="97.20" stroke="#666" stroke-width="0.6" />
<line x1="512.59" y1="95.00" x2="512.59" y2="97.20" stroke="#666" stroke-width="0.6" />
<line x1="516.82" y1="95.00" x2="516.82" y2="97.20" stroke="#666" stroke-width="0.6" />
<line x1="521.06" y1="95.00" x2="521.06" y2="98.40" stroke="#666" stroke-width="0.6" />
<text class="s" x="521.06" y="103.60" font-size="4.6" fill="#555" text-anchor="middle">200</text>
<line x1="525.29" y1="95.00" x2="525.29" y2="97.20" stroke="#666" stroke-width="0.6" />
<line x1="529.52" y1="95.00" x2="529.52" y2="97.20" stroke="#666" stroke-width="0.6" />
<line x1="533.75" y1="95.00" x2="533.75" y2="97.20" stroke="#666" stroke-width="0.6" />
<line x1="537.99" y1="95.00" x2="537.99" y2="97.20" stroke="#666" stroke-width="0.6" />
<line x1="542.22" y1="95.00" x2="542.22" y2="98.40" stroke="#666" stroke-width="0.6" />
<text class="s" x="542.22" y="103.60" font-size="4.6" fill="#555" text-anchor="middle">250</text>
<line x1="546.45" y1="95.00" x2="546.45" y2="97.20" stroke="#666" stroke-width="0.6" />
<text class="s" x="491.85" y="110.20" font-size="5.0" fill="#555" text-anchor="middle">PI-A</text>
<text class="s" x="547.80" y="108.60" font-size="4.4" fill="#555" text-anchor="end">(x 1,000)</text>
<line x1="433.80" y1="95.00" x2="436.40" y2="95.00" stroke="#666" stroke-width="0.5" />
<line x1="434.80" y1="92.10" x2="436.40" y2="92.10" stroke="#666" stroke-width="0.5" />
<line x1="434.80" y1="89.20" x2="436.40" y2="89.20" stroke="#666" stroke-width="0.5" />
<line x1="434.80" y1="86.30" x2="436.40" y2="86.30" stroke="#666" stroke-width="0.5" />
<line x1="434.80" y1="83.40" x2="436.40" y2="83.40" stroke="#666" stroke-width="0.5" />
<line x1="433.80" y1="80.50" x2="436.40" y2="80.50" stroke="#666" stroke-width="0.5" />
<line x1="434.80" y1="77.60" x2="436.40" y2="77.60" stroke="#666" stroke-width="0.5" />
<line x1="434.80" y1="74.70" x2="436.40" y2="74.70" stroke="#666" stroke-width="0.5" />
<line x1="434.80" y1="71.80" x2="436.40" y2="71.80" stroke="#666" stroke-width="0.5" />
<line x1="434.80" y1="68.90" x2="436.40" y2="68.90" stroke="#666" stroke-width="0.5" />
<line x1="433.80" y1="66.00" x2="436.40" y2="66.00" stroke="#666" stroke-width="0.5" />
<line x1="434.80" y1="63.10" x2="436.40" y2="63.10" stroke="#666" stroke-width="0.5" />
<line x1="434.80" y1="60.20" x2="436.40" y2="60.20" stroke="#666" stroke-width="0.5" />
<line x1="434.80" y1="57.30" x2="436.40" y2="57.30" stroke="#666" stroke-width="0.5" />
<line x1="434.80" y1="54.40" x2="436.40" y2="54.40" stroke="#666" stroke-width="0.5" />
<line x1="433.80" y1="51.50" x2="436.40" y2="51.50" stroke="#666" stroke-width="0.5" />
<line x1="434.80" y1="48.60" x2="436.40" y2="48.60" stroke="#666" stroke-width="0.5" />
<line x1="434.80" y1="45.70" x2="436.40" y2="45.70" stroke="#666" stroke-width="0.5" />
<line x1="434.80" y1="42.80" x2="436.40" y2="42.80" stroke="#666" stroke-width="0.5" />
<line x1="434.80" y1="39.90" x2="436.40" y2="39.90" stroke="#666" stroke-width="0.5" />
<line x1="433.80" y1="37.00" x2="436.40" y2="37.00" stroke="#666" stroke-width="0.5" />
<line x1="434.80" y1="34.10" x2="436.40" y2="34.10" stroke="#666" stroke-width="0.5" />
<line x1="434.80" y1="31.20" x2="436.40" y2="31.20" stroke="#666" stroke-width="0.5" />
<text class="s" x="433.80" y="95.00" font-size="4.1" fill="#555" text-anchor="middle" transform="rotate(-90 433.80 95.00)">0</text>
<text class="s" x="433.80" y="87.42" font-size="4.1" fill="#555" text-anchor="middle" transform="rotate(-90 433.80 87.42)">100</text>
<text class="s" x="433.80" y="80.55" font-size="4.1" fill="#555" text-anchor="middle" transform="rotate(-90 433.80 80.55)">200</text>
<text class="s" x="433.80" y="73.68" font-size="4.1" fill="#555" text-anchor="middle" transform="rotate(-90 433.80 73.68)">300</text>
<text class="s" x="433.80" y="66.81" font-size="4.1" fill="#555" text-anchor="middle" transform="rotate(-90 433.80 66.81)">400</text>
<text class="s" x="433.80" y="59.94" font-size="4.1" fill="#555" text-anchor="middle" transform="rotate(-90 433.80 59.94)">500</text>
<text class="s" x="433.80" y="53.07" font-size="4.1" fill="#555" text-anchor="middle" transform="rotate(-90 433.80 53.07)">600</text>
<text class="s" x="433.80" y="46.21" font-size="4.1" fill="#555" text-anchor="middle" transform="rotate(-90 433.80 46.21)">700</text>
<text class="s" x="433.80" y="39.34" font-size="4.1" fill="#555" text-anchor="middle" transform="rotate(-90 433.80 39.34)">800</text>
<text class="s" x="433.80" y="32.47" font-size="4.1" fill="#555" text-anchor="middle" transform="rotate(-90 433.80 32.47)">900</text>
<text class="s" x="429.20" y="62.60" font-size="5.2" fill="#777" text-anchor="middle" transform="rotate(-90 429.20 62.60)">Count</text>
<rect x="483.70" y="30.50" width="64.00" height="36.80" fill="#fff" stroke="#3c3c3c" stroke-width="1.05" />
<line x1="483.70" y1="42.40" x2="547.70" y2="42.40" stroke="#3c3c3c" stroke-width="1.0" />
<line x1="483.70" y1="54.70" x2="547.70" y2="54.70" stroke="#3c3c3c" stroke-width="1.0" />
<line x1="513.50" y1="30.50" x2="513.50" y2="67.30" stroke="#3c3c3c" stroke-width="1.0" />
<text class="t" x="498.80" y="40.05" font-size="10.0" fill="#111" text-anchor="middle" letter-spacing="0.4" stroke="#111" stroke-width="0.1">G1</text>
<text class="t" x="531.40" y="40.05" font-size="10.0" fill="#111" text-anchor="middle" letter-spacing="0.75" stroke="#111" stroke-width="0.1">82.0%</text>
<text class="t" x="498.80" y="52.15" font-size="10.0" fill="#111" text-anchor="middle" letter-spacing="0.4" stroke="#111" stroke-width="0.1">S</text>
<text class="t" x="531.40" y="52.15" font-size="10.0" fill="#111" text-anchor="middle" letter-spacing="0.75" stroke="#111" stroke-width="0.1">11.1%</text>
<text class="t" x="498.80" y="64.60" font-size="10.0" fill="#111" text-anchor="middle" letter-spacing="0.4" stroke="#111" stroke-width="0.1">G2</text>
<text class="t" x="531.40" y="64.60" font-size="10.0" fill="#111" text-anchor="middle" letter-spacing="0.75" stroke="#111" stroke-width="0.1">6.9%</text>
<text class="s" x="616.18" y="29.20" font-size="5.0" fill="#333" text-anchor="middle">Specimen_001-HT29 24-10</text>
<line x1="573.61" y1="30.50" x2="573.61" y2="95.30" stroke="#939393" stroke-width="0.7" />
<line x1="582.66" y1="30.50" x2="582.66" y2="95.30" stroke="#939393" stroke-width="0.7" />
<line x1="592.35" y1="30.50" x2="592.35" y2="95.30" stroke="#939393" stroke-width="0.7" />
<line x1="600.33" y1="30.50" x2="600.33" y2="95.30" stroke="#939393" stroke-width="0.7" />
<line x1="610.02" y1="30.50" x2="610.02" y2="95.30" stroke="#939393" stroke-width="0.7" />
<path d="M566.5,95.3 L566.5,93.1 L581.8,93.1 L582.0,93.0 L582.2,93.0 L582.4,92.8 L582.7,92.7 L582.9,92.4 L583.1,91.9 L583.3,91.3 L583.5,90.3 L583.7,88.9 L584.0,87.0 L584.2,84.5 L584.4,81.1 L584.6,77.0 L584.8,71.9 L585.0,66.0 L585.2,59.3 L585.5,52.0 L585.9,36.9 L586.1,30.5 L588.0,30.5 L588.3,34.4 L588.5,40.0 L588.9,51.7 L589.1,57.4 L589.3,62.7 L589.6,67.5 L589.8,71.9 L590.0,75.6 L590.2,78.7 L590.4,81.3 L590.6,83.4 L590.8,85.0 L591.1,86.3 L591.3,87.4 L591.5,88.2 L591.7,88.9 L592.1,89.7 L592.6,90.1 L592.8,90.3 L593.0,90.3 L593.6,90.5 L598.6,90.5 L598.8,90.4 L599.0,90.1 L599.2,89.7 L599.5,89.0 L599.7,87.9 L600.1,85.4 L600.3,84.5 L600.5,84.2 L601.0,84.4 L601.2,84.6 L601.6,85.2 L601.8,85.6 L602.1,86.0 L602.5,87.0 L602.9,88.2 L603.1,88.7 L603.3,89.3 L603.6,89.8 L604.0,90.7 L604.4,91.5 L604.6,91.8 L604.9,92.1 L605.5,93.0 L606.1,93.6 L606.4,93.7 L606.8,94.0 L607.4,94.3 L608.1,94.6 L608.5,94.7 L608.7,94.7 L608.9,94.8 L609.4,94.8 L609.8,94.9 L610.5,94.9 L610.9,95.0 L612.4,95.0 L612.8,95.1 L616.7,95.1 L616.9,95.2 L622.5,95.2 L622.7,95.3 L679.4,95.3 L679.4,95.3 Z" fill="#f8666c" stroke="#dc4450" stroke-width="0.35" />
<line x1="582.66" y1="85.19" x2="592.35" y2="85.19" stroke="#333" stroke-width="0.8" />
<line x1="592.35" y1="84.28" x2="600.33" y2="84.28" stroke="#555" stroke-width="0.7" />
<line x1="592.35" y1="84.28" x2="592.35" y2="86.28" stroke="#555" stroke-width="0.6" />
<line x1="600.33" y1="84.28" x2="600.33" y2="86.28" stroke="#555" stroke-width="0.6" />
<line x1="600.33" y1="92.06" x2="610.02" y2="92.06" stroke="#333" stroke-width="0.8" />
<text class="s" x="577.33" y="53.83" font-size="4.8" fill="#444" text-anchor="middle">Sub-G1</text>
<text class="s" x="588.96" y="43.46" font-size="4.6" fill="#444">G1</text>
<text class="s" x="595.34" y="65.49" font-size="4.6" fill="#444" text-anchor="middle">S</text>
<text class="s" x="607.77" y="56.42" font-size="4.8" fill="#444" text-anchor="middle" transform="rotate(-90 607.77 56.42)">G2</text>
<line x1="566.50" y1="30.50" x2="679.40" y2="30.50" stroke="#666" stroke-width="0.8" />
<line x1="679.40" y1="30.50" x2="679.40" y2="95.30" stroke="#777" stroke-width="0.7" />
<line x1="566.50" y1="30.50" x2="566.50" y2="95.30" stroke="#555" stroke-width="0.8" />
<line x1="566.50" y1="95.30" x2="679.40" y2="95.30" stroke="#5a4448" stroke-width="0.9" />
<line x1="570.81" y1="95.30" x2="570.81" y2="97.50" stroke="#666" stroke-width="0.6" />
<line x1="575.12" y1="95.30" x2="575.12" y2="97.50" stroke="#666" stroke-width="0.6" />
<line x1="579.43" y1="95.30" x2="579.43" y2="97.50" stroke="#666" stroke-width="0.6" />
<line x1="583.74" y1="95.30" x2="583.74" y2="97.50" stroke="#666" stroke-width="0.6" />
<line x1="588.05" y1="95.30" x2="588.05" y2="98.70" stroke="#666" stroke-width="0.6" />
<text class="s" x="588.05" y="103.90" font-size="4.6" fill="#555" text-anchor="middle">50</text>
<line x1="592.35" y1="95.30" x2="592.35" y2="97.50" stroke="#666" stroke-width="0.6" />
<line x1="596.66" y1="95.30" x2="596.66" y2="97.50" stroke="#666" stroke-width="0.6" />
<line x1="600.97" y1="95.30" x2="600.97" y2="97.50" stroke="#666" stroke-width="0.6" />
<line x1="605.28" y1="95.30" x2="605.28" y2="97.50" stroke="#666" stroke-width="0.6" />
<line x1="609.59" y1="95.30" x2="609.59" y2="98.70" stroke="#666" stroke-width="0.6" />
<text class="s" x="609.59" y="103.90" font-size="4.6" fill="#555" text-anchor="middle">100</text>
<line x1="613.90" y1="95.30" x2="613.90" y2="97.50" stroke="#666" stroke-width="0.6" />
<line x1="618.21" y1="95.30" x2="618.21" y2="97.50" stroke="#666" stroke-width="0.6" />
<line x1="622.52" y1="95.30" x2="622.52" y2="97.50" stroke="#666" stroke-width="0.6" />
<line x1="626.83" y1="95.30" x2="626.83" y2="97.50" stroke="#666" stroke-width="0.6" />
<line x1="631.14" y1="95.30" x2="631.14" y2="98.70" stroke="#666" stroke-width="0.6" />
<text class="s" x="631.14" y="103.90" font-size="4.6" fill="#555" text-anchor="middle">150</text>
<line x1="635.45" y1="95.30" x2="635.45" y2="97.50" stroke="#666" stroke-width="0.6" />
<line x1="639.76" y1="95.30" x2="639.76" y2="97.50" stroke="#666" stroke-width="0.6" />
<line x1="644.06" y1="95.30" x2="644.06" y2="97.50" stroke="#666" stroke-width="0.6" />
<line x1="648.37" y1="95.30" x2="648.37" y2="97.50" stroke="#666" stroke-width="0.6" />
<line x1="652.68" y1="95.30" x2="652.68" y2="98.70" stroke="#666" stroke-width="0.6" />
<text class="s" x="652.68" y="103.90" font-size="4.6" fill="#555" text-anchor="middle">200</text>
<line x1="656.99" y1="95.30" x2="656.99" y2="97.50" stroke="#666" stroke-width="0.6" />
<line x1="661.30" y1="95.30" x2="661.30" y2="97.50" stroke="#666" stroke-width="0.6" />
<line x1="665.61" y1="95.30" x2="665.61" y2="97.50" stroke="#666" stroke-width="0.6" />
<line x1="669.92" y1="95.30" x2="669.92" y2="97.50" stroke="#666" stroke-width="0.6" />
<line x1="674.23" y1="95.30" x2="674.23" y2="98.70" stroke="#666" stroke-width="0.6" />
<text class="s" x="674.23" y="103.90" font-size="4.6" fill="#555" text-anchor="middle">250</text>
<line x1="678.54" y1="95.30" x2="678.54" y2="97.50" stroke="#666" stroke-width="0.6" />
<text class="s" x="622.95" y="110.50" font-size="5.0" fill="#555" text-anchor="middle">PI-A</text>
<text class="s" x="679.90" y="108.90" font-size="4.4" fill="#555" text-anchor="end">(x 1,000)</text>
<line x1="563.90" y1="95.30" x2="566.50" y2="95.30" stroke="#666" stroke-width="0.5" />
<line x1="564.90" y1="92.40" x2="566.50" y2="92.40" stroke="#666" stroke-width="0.5" />
<line x1="564.90" y1="89.50" x2="566.50" y2="89.50" stroke="#666" stroke-width="0.5" />
<line x1="564.90" y1="86.60" x2="566.50" y2="86.60" stroke="#666" stroke-width="0.5" />
<line x1="564.90" y1="83.70" x2="566.50" y2="83.70" stroke="#666" stroke-width="0.5" />
<line x1="563.90" y1="80.80" x2="566.50" y2="80.80" stroke="#666" stroke-width="0.5" />
<line x1="564.90" y1="77.90" x2="566.50" y2="77.90" stroke="#666" stroke-width="0.5" />
<line x1="564.90" y1="75.00" x2="566.50" y2="75.00" stroke="#666" stroke-width="0.5" />
<line x1="564.90" y1="72.10" x2="566.50" y2="72.10" stroke="#666" stroke-width="0.5" />
<line x1="564.90" y1="69.20" x2="566.50" y2="69.20" stroke="#666" stroke-width="0.5" />
<line x1="563.90" y1="66.30" x2="566.50" y2="66.30" stroke="#666" stroke-width="0.5" />
<line x1="564.90" y1="63.40" x2="566.50" y2="63.40" stroke="#666" stroke-width="0.5" />
<line x1="564.90" y1="60.50" x2="566.50" y2="60.50" stroke="#666" stroke-width="0.5" />
<line x1="564.90" y1="57.60" x2="566.50" y2="57.60" stroke="#666" stroke-width="0.5" />
<line x1="564.90" y1="54.70" x2="566.50" y2="54.70" stroke="#666" stroke-width="0.5" />
<line x1="563.90" y1="51.80" x2="566.50" y2="51.80" stroke="#666" stroke-width="0.5" />
<line x1="564.90" y1="48.90" x2="566.50" y2="48.90" stroke="#666" stroke-width="0.5" />
<line x1="564.90" y1="46.00" x2="566.50" y2="46.00" stroke="#666" stroke-width="0.5" />
<line x1="564.90" y1="43.10" x2="566.50" y2="43.10" stroke="#666" stroke-width="0.5" />
<line x1="564.90" y1="40.20" x2="566.50" y2="40.20" stroke="#666" stroke-width="0.5" />
<line x1="563.90" y1="37.30" x2="566.50" y2="37.30" stroke="#666" stroke-width="0.5" />
<line x1="564.90" y1="34.40" x2="566.50" y2="34.40" stroke="#666" stroke-width="0.5" />
<line x1="564.90" y1="31.50" x2="566.50" y2="31.50" stroke="#666" stroke-width="0.5" />
<text class="s" x="563.90" y="95.30" font-size="4.1" fill="#555" text-anchor="middle" transform="rotate(-90 563.90 95.30)">0</text>
<text class="s" x="563.90" y="87.72" font-size="4.1" fill="#555" text-anchor="middle" transform="rotate(-90 563.90 87.72)">100</text>
<text class="s" x="563.90" y="80.85" font-size="4.1" fill="#555" text-anchor="middle" transform="rotate(-90 563.90 80.85)">200</text>
<text class="s" x="563.90" y="73.98" font-size="4.1" fill="#555" text-anchor="middle" transform="rotate(-90 563.90 73.98)">300</text>
<text class="s" x="563.90" y="67.11" font-size="4.1" fill="#555" text-anchor="middle" transform="rotate(-90 563.90 67.11)">400</text>
<text class="s" x="563.90" y="60.24" font-size="4.1" fill="#555" text-anchor="middle" transform="rotate(-90 563.90 60.24)">500</text>
<text class="s" x="563.90" y="53.37" font-size="4.1" fill="#555" text-anchor="middle" transform="rotate(-90 563.90 53.37)">600</text>
<text class="s" x="563.90" y="46.51" font-size="4.1" fill="#555" text-anchor="middle" transform="rotate(-90 563.90 46.51)">700</text>
<text class="s" x="563.90" y="39.64" font-size="4.1" fill="#555" text-anchor="middle" transform="rotate(-90 563.90 39.64)">800</text>
<text class="s" x="563.90" y="32.77" font-size="4.1" fill="#555" text-anchor="middle" transform="rotate(-90 563.90 32.77)">900</text>
<text class="s" x="559.30" y="62.90" font-size="5.2" fill="#777" text-anchor="middle" transform="rotate(-90 559.30 62.90)">Count</text>
<rect x="615.50" y="30.50" width="64.30" height="36.80" fill="#fff" stroke="#3c3c3c" stroke-width="1.05" />
<line x1="615.50" y1="43.30" x2="679.80" y2="43.30" stroke="#3c3c3c" stroke-width="1.0" />
<line x1="615.50" y1="55.60" x2="679.80" y2="55.60" stroke="#3c3c3c" stroke-width="1.0" />
<line x1="645.60" y1="30.50" x2="645.60" y2="67.30" stroke="#3c3c3c" stroke-width="1.0" />
<text class="t" x="630.75" y="40.50" font-size="10.0" fill="#111" text-anchor="middle" letter-spacing="0.4" stroke="#111" stroke-width="0.1">G1</text>
<text class="t" x="663.50" y="40.50" font-size="10.0" fill="#111" text-anchor="middle" letter-spacing="0.75" stroke="#111" stroke-width="0.1">76.2%</text>
<text class="t" x="630.75" y="53.05" font-size="10.0" fill="#111" text-anchor="middle" letter-spacing="0.4" stroke="#111" stroke-width="0.1">S</text>
<text class="t" x="663.50" y="53.05" font-size="10.0" fill="#111" text-anchor="middle" letter-spacing="0.75" stroke="#111" stroke-width="0.1">15.2%</text>
<text class="t" x="630.75" y="65.05" font-size="10.0" fill="#111" text-anchor="middle" letter-spacing="0.4" stroke="#111" stroke-width="0.1">G2</text>
<text class="t" x="663.50" y="65.05" font-size="10.0" fill="#111" text-anchor="middle" letter-spacing="0.75" stroke="#111" stroke-width="0.1">8.5%</text>
<text class="s" x="93.25" y="120.30" font-size="5.0" fill="#333" text-anchor="middle">Specimen_001-HT29 48-0</text>
<line x1="51.48" y1="121.60" x2="51.48" y2="186.70" stroke="#939393" stroke-width="0.7" />
<line x1="60.36" y1="121.60" x2="60.36" y2="186.70" stroke="#939393" stroke-width="0.7" />
<line x1="69.87" y1="121.60" x2="69.87" y2="186.70" stroke="#939393" stroke-width="0.7" />
<line x1="77.70" y1="121.60" x2="77.70" y2="186.70" stroke="#939393" stroke-width="0.7" />
<line x1="87.21" y1="121.60" x2="87.21" y2="186.70" stroke="#939393" stroke-width="0.7" />
<path d="M44.5,186.7 L44.5,185.7 L59.7,185.7 L60.1,185.6 L60.6,185.6 L61.0,185.4 L61.4,184.9 L61.6,184.4 L62.1,182.6 L62.3,181.1 L62.5,179.1 L62.7,176.4 L62.9,172.9 L63.1,168.5 L63.3,163.3 L63.5,157.1 L63.7,150.3 L64.0,142.8 L64.2,135.2 L64.4,127.8 L64.6,121.6 L66.3,121.6 L66.5,122.4 L66.7,127.8 L66.9,133.5 L67.1,139.4 L67.5,150.9 L67.8,156.1 L68.0,160.9 L68.2,165.1 L68.4,168.7 L68.6,171.8 L68.8,174.2 L69.0,176.2 L69.2,177.8 L69.5,179.1 L69.7,180.1 L69.9,180.9 L70.1,181.5 L70.3,182.0 L70.5,182.3 L70.9,182.7 L71.6,183.0 L72.8,183.0 L73.0,183.1 L76.0,183.1 L76.6,183.0 L77.5,183.0 L77.9,182.9 L78.3,182.8 L78.8,182.6 L79.2,182.3 L79.8,181.7 L80.4,180.9 L80.7,180.7 L81.1,180.2 L81.9,179.7 L82.6,180.1 L83.2,181.2 L83.4,181.6 L84.0,183.1 L84.3,183.5 L84.7,184.3 L85.1,184.9 L85.5,185.3 L85.9,185.6 L86.4,185.8 L87.0,186.0 L87.4,186.0 L87.8,186.1 L88.1,186.1 L88.9,186.2 L89.1,186.3 L90.2,186.3 L91.4,186.4 L92.7,186.4 L93.3,186.5 L98.0,186.5 L98.8,186.6 L103.9,186.6 L104.3,186.7 L155.3,186.7 L155.3,186.7 Z" fill="#f8666c" stroke="#dc4450" stroke-width="0.35" />
<line x1="44.50" y1="154.15" x2="51.48" y2="154.15" stroke="#777" stroke-width="0.7" />
<line x1="60.36" y1="154.15" x2="87.21" y2="154.15" stroke="#777" stroke-width="0.7" />
<text class="s" x="55.12" y="145.04" font-size="4.8" fill="#444" text-anchor="middle">Sub-G1</text>
<text class="s" x="66.66" y="134.62" font-size="4.6" fill="#444">G1</text>
<text class="s" x="72.79" y="156.75" font-size="4.6" fill="#444" text-anchor="middle">S</text>
<text class="s" x="83.46" y="148.94" font-size="4.6" fill="#444" text-anchor="middle">G2</text>
<line x1="44.50" y1="121.60" x2="155.30" y2="121.60" stroke="#666" stroke-width="0.8" />
<line x1="155.30" y1="121.60" x2="155.30" y2="186.70" stroke="#777" stroke-width="0.7" />
<line x1="44.50" y1="121.60" x2="44.50" y2="186.70" stroke="#555" stroke-width="0.8" />
<line x1="44.50" y1="186.70" x2="155.30" y2="186.70" stroke="#5a4448" stroke-width="0.9" />
<line x1="48.73" y1="186.70" x2="48.73" y2="188.90" stroke="#666" stroke-width="0.6" />
<line x1="52.96" y1="186.70" x2="52.96" y2="188.90" stroke="#666" stroke-width="0.6" />
<line x1="57.19" y1="186.70" x2="57.19" y2="188.90" stroke="#666" stroke-width="0.6" />
<line x1="61.42" y1="186.70" x2="61.42" y2="188.90" stroke="#666" stroke-width="0.6" />
<line x1="65.65" y1="186.70" x2="65.65" y2="190.10" stroke="#666" stroke-width="0.6" />
<text class="s" x="65.65" y="195.30" font-size="4.6" fill="#555" text-anchor="middle">50</text>
<line x1="69.87" y1="186.70" x2="69.87" y2="188.90" stroke="#666" stroke-width="0.6" />
<line x1="74.10" y1="186.70" x2="74.10" y2="188.90" stroke="#666" stroke-width="0.6" />
<line x1="78.33" y1="186.70" x2="78.33" y2="188.90" stroke="#666" stroke-width="0.6" />
<line x1="82.56" y1="186.70" x2="82.56" y2="188.90" stroke="#666" stroke-width="0.6" />
<line x1="86.79" y1="186.70" x2="86.79" y2="190.10" stroke="#666" stroke-width="0.6" />
<text class="s" x="86.79" y="195.30" font-size="4.6" fill="#555" text-anchor="middle">100</text>
<line x1="91.02" y1="186.70" x2="91.02" y2="188.90" stroke="#666" stroke-width="0.6" />
<line x1="95.25" y1="186.70" x2="95.25" y2="188.90" stroke="#666" stroke-width="0.6" />
<line x1="99.48" y1="186.70" x2="99.48" y2="188.90" stroke="#666" stroke-width="0.6" />
<line x1="103.71" y1="186.70" x2="103.71" y2="188.90" stroke="#666" stroke-width="0.6" />
<line x1="107.94" y1="186.70" x2="107.94" y2="190.10" stroke="#666" stroke-width="0.6" />
<text class="s" x="107.94" y="195.30" font-size="4.6" fill="#555" text-anchor="middle">150</text>
<line x1="112.16" y1="186.70" x2="112.16" y2="188.90" stroke="#666" stroke-width="0.6" />
<line x1="116.39" y1="186.70" x2="116.39" y2="188.90" stroke="#666" stroke-width="0.6" />
<line x1="120.62" y1="186.70" x2="120.62" y2="188.90" stroke="#666" stroke-width="0.6" />
<line x1="124.85" y1="186.70" x2="124.85" y2="188.90" stroke="#666" stroke-width="0.6" />
<line x1="129.08" y1="186.70" x2="129.08" y2="190.10" stroke="#666" stroke-width="0.6" />
<text class="s" x="129.08" y="195.30" font-size="4.6" fill="#555" text-anchor="middle">200</text>
<line x1="133.31" y1="186.70" x2="133.31" y2="188.90" stroke="#666" stroke-width="0.6" />
<line x1="137.54" y1="186.70" x2="137.54" y2="188.90" stroke="#666" stroke-width="0.6" />
<line x1="141.77" y1="186.70" x2="141.77" y2="188.90" stroke="#666" stroke-width="0.6" />
<line x1="146.00" y1="186.70" x2="146.00" y2="188.90" stroke="#666" stroke-width="0.6" />
<line x1="150.23" y1="186.70" x2="150.23" y2="190.10" stroke="#666" stroke-width="0.6" />
<text class="s" x="150.23" y="195.30" font-size="4.6" fill="#555" text-anchor="middle">250</text>
<line x1="154.45" y1="186.70" x2="154.45" y2="188.90" stroke="#666" stroke-width="0.6" />
<text class="s" x="99.90" y="201.90" font-size="5.0" fill="#555" text-anchor="middle">PI-A</text>
<text class="s" x="155.80" y="200.30" font-size="4.4" fill="#555" text-anchor="end">(x 1,000)</text>
<line x1="41.90" y1="186.70" x2="44.50" y2="186.70" stroke="#666" stroke-width="0.5" />
<line x1="42.90" y1="183.80" x2="44.50" y2="183.80" stroke="#666" stroke-width="0.5" />
<line x1="42.90" y1="180.90" x2="44.50" y2="180.90" stroke="#666" stroke-width="0.5" />
<line x1="42.90" y1="178.00" x2="44.50" y2="178.00" stroke="#666" stroke-width="0.5" />
<line x1="42.90" y1="175.10" x2="44.50" y2="175.10" stroke="#666" stroke-width="0.5" />
<line x1="41.90" y1="172.20" x2="44.50" y2="172.20" stroke="#666" stroke-width="0.5" />
<line x1="42.90" y1="169.30" x2="44.50" y2="169.30" stroke="#666" stroke-width="0.5" />
<line x1="42.90" y1="166.40" x2="44.50" y2="166.40" stroke="#666" stroke-width="0.5" />
<line x1="42.90" y1="163.50" x2="44.50" y2="163.50" stroke="#666" stroke-width="0.5" />
<line x1="42.90" y1="160.60" x2="44.50" y2="160.60" stroke="#666" stroke-width="0.5" />
<line x1="41.90" y1="157.70" x2="44.50" y2="157.70" stroke="#666" stroke-width="0.5" />
<line x1="42.90" y1="154.80" x2="44.50" y2="154.80" stroke="#666" stroke-width="0.5" />
<line x1="42.90" y1="151.90" x2="44.50" y2="151.90" stroke="#666" stroke-width="0.5" />
<line x1="42.90" y1="149.00" x2="44.50" y2="149.00" stroke="#666" stroke-width="0.5" />
<line x1="42.90" y1="146.10" x2="44.50" y2="146.10" stroke="#666" stroke-width="0.5" />
<line x1="41.90" y1="143.20" x2="44.50" y2="143.20" stroke="#666" stroke-width="0.5" />
<line x1="42.90" y1="140.30" x2="44.50" y2="140.30" stroke="#666" stroke-width="0.5" />
<line x1="42.90" y1="137.40" x2="44.50" y2="137.40" stroke="#666" stroke-width="0.5" />
<line x1="42.90" y1="134.50" x2="44.50" y2="134.50" stroke="#666" stroke-width="0.5" />
<line x1="42.90" y1="131.60" x2="44.50" y2="131.60" stroke="#666" stroke-width="0.5" />
<line x1="41.90" y1="128.70" x2="44.50" y2="128.70" stroke="#666" stroke-width="0.5" />
<line x1="42.90" y1="125.80" x2="44.50" y2="125.80" stroke="#666" stroke-width="0.5" />
<line x1="42.90" y1="122.90" x2="44.50" y2="122.90" stroke="#666" stroke-width="0.5" />
<text class="s" x="41.90" y="186.70" font-size="4.1" fill="#555" text-anchor="middle" transform="rotate(-90 41.90 186.70)">0</text>
<text class="s" x="41.90" y="172.25" font-size="4.1" fill="#555" text-anchor="middle" transform="rotate(-90 41.90 172.25)">250</text>
<text class="s" x="41.90" y="157.73" font-size="4.1" fill="#555" text-anchor="middle" transform="rotate(-90 41.90 157.73)">500</text>
<text class="s" x="41.90" y="143.28" font-size="4.1" fill="#555" text-anchor="middle" transform="rotate(-90 41.90 143.28)">750</text>
<text class="s" x="41.90" y="128.76" font-size="4.1" fill="#555" text-anchor="middle" transform="rotate(-90 41.90 128.76)">1,000</text>
<text class="s" x="37.30" y="154.15" font-size="5.2" fill="#777" text-anchor="middle" transform="rotate(-90 37.30 154.15)">Count</text>
<rect x="89.50" y="120.60" width="67.10" height="37.00" fill="#fff" stroke="#3c3c3c" stroke-width="1.05" />
<line x1="89.50" y1="133.50" x2="156.60" y2="133.50" stroke="#3c3c3c" stroke-width="1.0" />
<line x1="89.50" y1="145.40" x2="156.60" y2="145.40" stroke="#3c3c3c" stroke-width="1.0" />
<line x1="119.80" y1="120.60" x2="119.80" y2="157.60" stroke="#3c3c3c" stroke-width="1.0" />
<text class="t" x="104.85" y="130.65" font-size="10.0" fill="#111" text-anchor="middle" letter-spacing="0.4" stroke="#111" stroke-width="0.1">G1</text>
<text class="t" x="139.00" y="130.65" font-size="10.0" fill="#111" text-anchor="middle" letter-spacing="0.75" stroke="#111" stroke-width="0.1">78.3%</text>
<text class="t" x="104.85" y="143.05" font-size="10.0" fill="#111" text-anchor="middle" letter-spacing="0.4" stroke="#111" stroke-width="0.1">S</text>
<text class="t" x="139.00" y="143.05" font-size="10.0" fill="#111" text-anchor="middle" letter-spacing="0.75" stroke="#111" stroke-width="0.1">11.8%</text>
<text class="t" x="104.85" y="155.10" font-size="10.0" fill="#111" text-anchor="middle" letter-spacing="0.4" stroke="#111" stroke-width="0.1">G2</text>
<text class="t" x="139.00" y="155.10" font-size="10.0" fill="#111" text-anchor="middle" letter-spacing="0.75" stroke="#111" stroke-width="0.1">9.9%</text>
<text class="s" x="223.33" y="121.20" font-size="5.0" fill="#333" text-anchor="middle">Specimen_001-HT29 48-05</text>
<line x1="181.40" y1="122.50" x2="181.40" y2="187.30" stroke="#939393" stroke-width="0.7" />
<line x1="190.32" y1="122.50" x2="190.32" y2="187.30" stroke="#939393" stroke-width="0.7" />
<line x1="199.87" y1="122.50" x2="199.87" y2="187.30" stroke="#939393" stroke-width="0.7" />
<line x1="207.72" y1="122.50" x2="207.72" y2="187.30" stroke="#939393" stroke-width="0.7" />
<line x1="217.27" y1="122.50" x2="217.27" y2="187.30" stroke="#939393" stroke-width="0.7" />
<path d="M174.4,187.3 L174.4,186.3 L189.9,186.3 L190.1,186.2 L190.5,186.2 L191.2,185.9 L191.4,185.6 L191.6,185.2 L191.8,184.6 L192.0,183.7 L192.2,182.4 L192.4,180.6 L192.7,178.2 L192.9,175.0 L193.1,171.1 L193.3,166.2 L193.5,160.4 L193.7,153.8 L193.9,146.6 L194.3,131.6 L194.6,124.4 L194.8,122.5 L196.5,122.5 L196.7,126.5 L196.9,132.0 L197.1,137.9 L197.5,149.4 L197.7,154.8 L198.0,159.7 L198.2,164.1 L198.4,167.9 L198.6,171.1 L198.8,173.7 L199.0,175.8 L199.2,177.4 L199.4,178.7 L199.9,180.6 L200.1,181.3 L200.5,182.2 L201.1,182.8 L201.4,182.8 L201.8,183.0 L208.8,183.0 L209.4,182.8 L209.6,182.8 L210.3,182.5 L211.1,181.8 L211.3,181.6 L211.7,181.1 L212.0,180.9 L212.2,180.6 L212.4,180.5 L212.8,180.2 L213.2,180.1 L213.7,180.3 L213.9,180.5 L214.3,181.2 L215.1,183.2 L215.4,183.7 L215.8,184.6 L216.4,185.5 L216.8,185.9 L217.9,186.5 L218.5,186.6 L219.2,186.7 L219.4,186.7 L219.6,186.8 L220.2,186.8 L220.7,186.9 L221.5,186.9 L221.7,187.0 L224.1,187.0 L224.7,187.1 L229.4,187.1 L229.6,187.2 L235.1,187.2 L235.3,187.3 L285.6,187.3 L285.6,187.3 Z" fill="#f8666c" stroke="#dc4450" stroke-width="0.35" />
<line x1="190.32" y1="178.23" x2="199.87" y2="178.23" stroke="#333" stroke-width="0.8" />
<line x1="199.87" y1="177.58" x2="207.72" y2="177.58" stroke="#555" stroke-width="0.7" />
<line x1="199.87" y1="177.58" x2="199.87" y2="179.58" stroke="#555" stroke-width="0.6" />
<line x1="207.72" y1="177.58" x2="207.72" y2="179.58" stroke="#555" stroke-width="0.6" />
<line x1="207.72" y1="185.36" x2="217.27" y2="185.36" stroke="#333" stroke-width="0.8" />
<text class="s" x="185.06" y="145.83" font-size="4.8" fill="#444" text-anchor="middle">Sub-G1</text>
<text class="s" x="196.62" y="135.46" font-size="4.6" fill="#444">G1</text>
<text class="s" x="202.79" y="157.49" font-size="4.6" fill="#444" text-anchor="middle">S</text>
<text class="s" x="215.09" y="148.42" font-size="4.8" fill="#444" text-anchor="middle" transform="rotate(-90 215.09 148.42)">G2</text>
<line x1="174.40" y1="122.50" x2="285.60" y2="122.50" stroke="#666" stroke-width="0.8" />
<line x1="285.60" y1="122.50" x2="285.60" y2="187.30" stroke="#777" stroke-width="0.7" />
<line x1="174.40" y1="122.50" x2="174.40" y2="187.30" stroke="#555" stroke-width="0.8" />
<line x1="174.40" y1="187.30" x2="285.60" y2="187.30" stroke="#5a4448" stroke-width="0.9" />
<line x1="178.64" y1="187.30" x2="178.64" y2="189.50" stroke="#666" stroke-width="0.6" />
<line x1="182.89" y1="187.30" x2="182.89" y2="189.50" stroke="#666" stroke-width="0.6" />
<line x1="187.13" y1="187.30" x2="187.13" y2="189.50" stroke="#666" stroke-width="0.6" />
<line x1="191.38" y1="187.30" x2="191.38" y2="189.50" stroke="#666" stroke-width="0.6" />
<line x1="195.62" y1="187.30" x2="195.62" y2="190.70" stroke="#666" stroke-width="0.6" />
<text class="s" x="195.62" y="195.90" font-size="4.6" fill="#555" text-anchor="middle">50</text>
<line x1="199.87" y1="187.30" x2="199.87" y2="189.50" stroke="#666" stroke-width="0.6" />
<line x1="204.11" y1="187.30" x2="204.11" y2="189.50" stroke="#666" stroke-width="0.6" />
<line x1="208.35" y1="187.30" x2="208.35" y2="189.50" stroke="#666" stroke-width="0.6" />
<line x1="212.60" y1="187.30" x2="212.60" y2="189.50" stroke="#666" stroke-width="0.6" />
<line x1="216.84" y1="187.30" x2="216.84" y2="190.70" stroke="#666" stroke-width="0.6" />
<text class="s" x="216.84" y="195.90" font-size="4.6" fill="#555" text-anchor="middle">100</text>
<line x1="221.09" y1="187.30" x2="221.09" y2="189.50" stroke="#666" stroke-width="0.6" />
<line x1="225.33" y1="187.30" x2="225.33" y2="189.50" stroke="#666" stroke-width="0.6" />
<line x1="229.58" y1="187.30" x2="229.58" y2="189.50" stroke="#666" stroke-width="0.6" />
<line x1="233.82" y1="187.30" x2="233.82" y2="189.50" stroke="#666" stroke-width="0.6" />
<line x1="238.06" y1="187.30" x2="238.06" y2="190.70" stroke="#666" stroke-width="0.6" />
<text class="s" x="238.06" y="195.90" font-size="4.6" fill="#555" text-anchor="middle">150</text>
<line x1="242.31" y1="187.30" x2="242.31" y2="189.50" stroke="#666" stroke-width="0.6" />
<line x1="246.55" y1="187.30" x2="246.55" y2="189.50" stroke="#666" stroke-width="0.6" />
<line x1="250.80" y1="187.30" x2="250.80" y2="189.50" stroke="#666" stroke-width="0.6" />
<line x1="255.04" y1="187.30" x2="255.04" y2="189.50" stroke="#666" stroke-width="0.6" />
<line x1="259.29" y1="187.30" x2="259.29" y2="190.70" stroke="#666" stroke-width="0.6" />
<text class="s" x="259.29" y="195.90" font-size="4.6" fill="#555" text-anchor="middle">200</text>
<line x1="263.53" y1="187.30" x2="263.53" y2="189.50" stroke="#666" stroke-width="0.6" />
<line x1="267.77" y1="187.30" x2="267.77" y2="189.50" stroke="#666" stroke-width="0.6" />
<line x1="272.02" y1="187.30" x2="272.02" y2="189.50" stroke="#666" stroke-width="0.6" />
<line x1="276.26" y1="187.30" x2="276.26" y2="189.50" stroke="#666" stroke-width="0.6" />
<line x1="280.51" y1="187.30" x2="280.51" y2="190.70" stroke="#666" stroke-width="0.6" />
<text class="s" x="280.51" y="195.90" font-size="4.6" fill="#555" text-anchor="middle">250</text>
<line x1="284.75" y1="187.30" x2="284.75" y2="189.50" stroke="#666" stroke-width="0.6" />
<text class="s" x="230.00" y="202.50" font-size="5.0" fill="#555" text-anchor="middle">PI-A</text>
<text class="s" x="286.10" y="200.90" font-size="4.4" fill="#555" text-anchor="end">(x 1,000)</text>
<line x1="171.80" y1="187.30" x2="174.40" y2="187.30" stroke="#666" stroke-width="0.5" />
<line x1="172.80" y1="184.40" x2="174.40" y2="184.40" stroke="#666" stroke-width="0.5" />
<line x1="172.80" y1="181.50" x2="174.40" y2="181.50" stroke="#666" stroke-width="0.5" />
<line x1="172.80" y1="178.60" x2="174.40" y2="178.60" stroke="#666" stroke-width="0.5" />
<line x1="172.80" y1="175.70" x2="174.40" y2="175.70" stroke="#666" stroke-width="0.5" />
<line x1="171.80" y1="172.80" x2="174.40" y2="172.80" stroke="#666" stroke-width="0.5" />
<line x1="172.80" y1="169.90" x2="174.40" y2="169.90" stroke="#666" stroke-width="0.5" />
<line x1="172.80" y1="167.00" x2="174.40" y2="167.00" stroke="#666" stroke-width="0.5" />
<line x1="172.80" y1="164.10" x2="174.40" y2="164.10" stroke="#666" stroke-width="0.5" />
<line x1="172.80" y1="161.20" x2="174.40" y2="161.20" stroke="#666" stroke-width="0.5" />
<line x1="171.80" y1="158.30" x2="174.40" y2="158.30" stroke="#666" stroke-width="0.5" />
<line x1="172.80" y1="155.40" x2="174.40" y2="155.40" stroke="#666" stroke-width="0.5" />
<line x1="172.80" y1="152.50" x2="174.40" y2="152.50" stroke="#666" stroke-width="0.5" />
<line x1="172.80" y1="149.60" x2="174.40" y2="149.60" stroke="#666" stroke-width="0.5" />
<line x1="172.80" y1="146.70" x2="174.40" y2="146.70" stroke="#666" stroke-width="0.5" />
<line x1="171.80" y1="143.80" x2="174.40" y2="143.80" stroke="#666" stroke-width="0.5" />
<line x1="172.80" y1="140.90" x2="174.40" y2="140.90" stroke="#666" stroke-width="0.5" />
<line x1="172.80" y1="138.00" x2="174.40" y2="138.00" stroke="#666" stroke-width="0.5" />
<line x1="172.80" y1="135.10" x2="174.40" y2="135.10" stroke="#666" stroke-width="0.5" />
<line x1="172.80" y1="132.20" x2="174.40" y2="132.20" stroke="#666" stroke-width="0.5" />
<line x1="171.80" y1="129.30" x2="174.40" y2="129.30" stroke="#666" stroke-width="0.5" />
<line x1="172.80" y1="126.40" x2="174.40" y2="126.40" stroke="#666" stroke-width="0.5" />
<line x1="172.80" y1="123.50" x2="174.40" y2="123.50" stroke="#666" stroke-width="0.5" />
<text class="s" x="171.80" y="187.30" font-size="4.1" fill="#555" text-anchor="middle" transform="rotate(-90 171.80 187.30)">0</text>
<text class="s" x="171.80" y="179.72" font-size="4.1" fill="#555" text-anchor="middle" transform="rotate(-90 171.80 179.72)">100</text>
<text class="s" x="171.80" y="172.85" font-size="4.1" fill="#555" text-anchor="middle" transform="rotate(-90 171.80 172.85)">200</text>
<text class="s" x="171.80" y="165.98" font-size="4.1" fill="#555" text-anchor="middle" transform="rotate(-90 171.80 165.98)">300</text>
<text class="s" x="171.80" y="159.11" font-size="4.1" fill="#555" text-anchor="middle" transform="rotate(-90 171.80 159.11)">400</text>
<text class="s" x="171.80" y="152.24" font-size="4.1" fill="#555" text-anchor="middle" transform="rotate(-90 171.80 152.24)">500</text>
<text class="s" x="171.80" y="145.37" font-size="4.1" fill="#555" text-anchor="middle" transform="rotate(-90 171.80 145.37)">600</text>
<text class="s" x="171.80" y="138.51" font-size="4.1" fill="#555" text-anchor="middle" transform="rotate(-90 171.80 138.51)">700</text>
<text class="s" x="171.80" y="131.64" font-size="4.1" fill="#555" text-anchor="middle" transform="rotate(-90 171.80 131.64)">800</text>
<text class="s" x="171.80" y="124.77" font-size="4.1" fill="#555" text-anchor="middle" transform="rotate(-90 171.80 124.77)">900</text>
<text class="s" x="167.20" y="154.90" font-size="5.2" fill="#777" text-anchor="middle" transform="rotate(-90 167.20 154.90)">Count</text>
<rect x="220.30" y="120.80" width="66.20" height="37.60" fill="#fff" stroke="#3c3c3c" stroke-width="1.05" />
<line x1="220.30" y1="133.40" x2="286.50" y2="133.40" stroke="#3c3c3c" stroke-width="1.0" />
<line x1="220.30" y1="145.30" x2="286.50" y2="145.30" stroke="#3c3c3c" stroke-width="1.0" />
<line x1="250.60" y1="120.80" x2="250.60" y2="158.40" stroke="#3c3c3c" stroke-width="1.0" />
<text class="t" x="235.65" y="130.70" font-size="10.0" fill="#111" text-anchor="middle" letter-spacing="0.4" stroke="#111" stroke-width="0.1">G1</text>
<text class="t" x="269.35" y="130.70" font-size="10.0" fill="#111" text-anchor="middle" letter-spacing="0.75" stroke="#111" stroke-width="0.1">76.5%</text>
<text class="t" x="235.65" y="142.95" font-size="10.0" fill="#111" text-anchor="middle" letter-spacing="0.4" stroke="#111" stroke-width="0.1">S</text>
<text class="t" x="269.35" y="142.95" font-size="10.0" fill="#111" text-anchor="middle" letter-spacing="0.75" stroke="#111" stroke-width="0.1">12.6%</text>
<text class="t" x="235.65" y="155.45" font-size="10.0" fill="#111" text-anchor="middle" letter-spacing="0.4" stroke="#111" stroke-width="0.1">G2</text>
<text class="t" x="269.35" y="155.45" font-size="10.0" fill="#111" text-anchor="middle" letter-spacing="0.75" stroke="#111" stroke-width="0.1">10.9%</text>
<text class="s" x="353.74" y="120.60" font-size="5.0" fill="#333" text-anchor="middle">Specimen_001-HT29 48-1</text>
<line x1="311.55" y1="121.90" x2="311.55" y2="188.30" stroke="#939393" stroke-width="0.7" />
<line x1="320.52" y1="121.90" x2="320.52" y2="188.30" stroke="#939393" stroke-width="0.7" />
<line x1="330.13" y1="121.90" x2="330.13" y2="188.30" stroke="#939393" stroke-width="0.7" />
<line x1="338.03" y1="121.90" x2="338.03" y2="188.30" stroke="#939393" stroke-width="0.7" />
<line x1="347.64" y1="121.90" x2="347.64" y2="188.30" stroke="#939393" stroke-width="0.7" />
<path d="M304.5,188.3 L304.5,187.2 L320.5,187.2 L321.2,186.8 L321.6,186.1 L321.8,185.4 L322.0,184.4 L322.2,183.0 L322.4,181.0 L322.7,178.4 L322.9,175.0 L323.1,170.7 L323.3,165.5 L323.5,159.5 L323.7,152.6 L323.9,145.1 L324.1,137.4 L324.4,129.7 L324.6,122.5 L324.8,121.9 L326.5,121.9 L326.7,127.1 L326.9,132.9 L327.3,144.9 L327.6,150.7 L327.8,156.2 L328.0,161.2 L328.2,165.7 L328.4,169.6 L328.6,173.0 L328.8,175.8 L329.1,178.1 L329.3,179.9 L329.5,181.4 L329.7,182.6 L329.9,183.5 L330.1,184.2 L330.3,184.7 L330.6,185.0 L330.8,185.3 L331.4,185.7 L331.6,185.8 L332.0,185.9 L340.4,185.9 L340.8,185.8 L341.0,185.7 L341.7,185.5 L342.5,184.7 L342.9,184.1 L344.0,182.5 L344.4,182.2 L344.6,182.1 L345.1,182.3 L345.3,182.5 L345.5,182.9 L345.7,183.2 L345.9,183.7 L346.6,185.0 L347.2,186.2 L347.6,186.7 L348.1,187.0 L348.5,187.3 L349.1,187.5 L350.0,187.6 L350.4,187.7 L350.6,187.7 L350.8,187.8 L351.7,187.8 L351.9,187.9 L353.0,187.9 L353.4,188.0 L355.8,188.0 L356.4,188.1 L360.9,188.1 L361.9,188.2 L366.6,188.2 L366.9,188.3 L416.4,188.3 L416.4,188.3 Z" fill="#f8666c" stroke="#dc4450" stroke-width="0.35" />
<line x1="320.52" y1="178.34" x2="330.13" y2="178.34" stroke="#333" stroke-width="0.8" />
<line x1="330.13" y1="177.68" x2="338.03" y2="177.68" stroke="#555" stroke-width="0.7" />
<line x1="330.13" y1="177.68" x2="330.13" y2="179.68" stroke="#555" stroke-width="0.6" />
<line x1="338.03" y1="177.68" x2="338.03" y2="179.68" stroke="#555" stroke-width="0.6" />
<line x1="338.03" y1="186.31" x2="347.64" y2="186.31" stroke="#333" stroke-width="0.8" />
<text class="s" x="315.23" y="145.80" font-size="4.8" fill="#444" text-anchor="middle">Sub-G1</text>
<text class="s" x="326.82" y="135.18" font-size="4.6" fill="#444">G1</text>
<text class="s" x="333.08" y="157.76" font-size="4.6" fill="#444" text-anchor="middle">S</text>
<text class="s" x="345.43" y="148.46" font-size="4.8" fill="#444" text-anchor="middle" transform="rotate(-90 345.43 148.46)">G2</text>
<line x1="304.50" y1="121.90" x2="416.40" y2="121.90" stroke="#666" stroke-width="0.8" />
<line x1="416.40" y1="121.90" x2="416.40" y2="188.30" stroke="#777" stroke-width="0.7" />
<line x1="304.50" y1="121.90" x2="304.50" y2="188.30" stroke="#555" stroke-width="0.8" />
<line x1="304.50" y1="188.30" x2="416.40" y2="188.30" stroke="#5a4448" stroke-width="0.9" />
<line x1="308.77" y1="188.30" x2="308.77" y2="190.50" stroke="#666" stroke-width="0.6" />
<line x1="313.04" y1="188.30" x2="313.04" y2="190.50" stroke="#666" stroke-width="0.6" />
<line x1="317.31" y1="188.30" x2="317.31" y2="190.50" stroke="#666" stroke-width="0.6" />
<line x1="321.58" y1="188.30" x2="321.58" y2="190.50" stroke="#666" stroke-width="0.6" />
<line x1="325.85" y1="188.30" x2="325.85" y2="191.70" stroke="#666" stroke-width="0.6" />
<text class="s" x="325.85" y="196.90" font-size="4.6" fill="#555" text-anchor="middle">50</text>
<line x1="330.13" y1="188.30" x2="330.13" y2="190.50" stroke="#666" stroke-width="0.6" />
<line x1="334.40" y1="188.30" x2="334.40" y2="190.50" stroke="#666" stroke-width="0.6" />
<line x1="338.67" y1="188.30" x2="338.67" y2="190.50" stroke="#666" stroke-width="0.6" />
<line x1="342.94" y1="188.30" x2="342.94" y2="190.50" stroke="#666" stroke-width="0.6" />
<line x1="347.21" y1="188.30" x2="347.21" y2="191.70" stroke="#666" stroke-width="0.6" />
<text class="s" x="347.21" y="196.90" font-size="4.6" fill="#555" text-anchor="middle">100</text>
<line x1="351.48" y1="188.30" x2="351.48" y2="190.50" stroke="#666" stroke-width="0.6" />
<line x1="355.75" y1="188.30" x2="355.75" y2="190.50" stroke="#666" stroke-width="0.6" />
<line x1="360.02" y1="188.30" x2="360.02" y2="190.50" stroke="#666" stroke-width="0.6" />
<line x1="364.29" y1="188.30" x2="364.29" y2="190.50" stroke="#666" stroke-width="0.6" />
<line x1="368.56" y1="188.30" x2="368.56" y2="191.70" stroke="#666" stroke-width="0.6" />
<text class="s" x="368.56" y="196.90" font-size="4.6" fill="#555" text-anchor="middle">150</text>
<line x1="372.84" y1="188.30" x2="372.84" y2="190.50" stroke="#666" stroke-width="0.6" />
<line x1="377.11" y1="188.30" x2="377.11" y2="190.50" stroke="#666" stroke-width="0.6" />
<line x1="381.38" y1="188.30" x2="381.38" y2="190.50" stroke="#666" stroke-width="0.6" />
<line x1="385.65" y1="188.30" x2="385.65" y2="190.50" stroke="#666" stroke-width="0.6" />
<line x1="389.92" y1="188.30" x2="389.92" y2="191.70" stroke="#666" stroke-width="0.6" />
<text class="s" x="389.92" y="196.90" font-size="4.6" fill="#555" text-anchor="middle">200</text>
<line x1="394.19" y1="188.30" x2="394.19" y2="190.50" stroke="#666" stroke-width="0.6" />
<line x1="398.46" y1="188.30" x2="398.46" y2="190.50" stroke="#666" stroke-width="0.6" />
<line x1="402.73" y1="188.30" x2="402.73" y2="190.50" stroke="#666" stroke-width="0.6" />
<line x1="407.00" y1="188.30" x2="407.00" y2="190.50" stroke="#666" stroke-width="0.6" />
<line x1="411.27" y1="188.30" x2="411.27" y2="191.70" stroke="#666" stroke-width="0.6" />
<text class="s" x="411.27" y="196.90" font-size="4.6" fill="#555" text-anchor="middle">250</text>
<line x1="415.55" y1="188.30" x2="415.55" y2="190.50" stroke="#666" stroke-width="0.6" />
<text class="s" x="360.45" y="203.50" font-size="5.0" fill="#555" text-anchor="middle">PI-A</text>
<text class="s" x="416.90" y="201.90" font-size="4.4" fill="#555" text-anchor="end">(x 1,000)</text>
<line x1="301.90" y1="188.30" x2="304.50" y2="188.30" stroke="#666" stroke-width="0.5" />
<line x1="302.90" y1="185.40" x2="304.50" y2="185.40" stroke="#666" stroke-width="0.5" />
<line x1="302.90" y1="182.50" x2="304.50" y2="182.50" stroke="#666" stroke-width="0.5" />
<line x1="302.90" y1="179.60" x2="304.50" y2="179.60" stroke="#666" stroke-width="0.5" />
<line x1="302.90" y1="176.70" x2="304.50" y2="176.70" stroke="#666" stroke-width="0.5" />
<line x1="301.90" y1="173.80" x2="304.50" y2="173.80" stroke="#666" stroke-width="0.5" />
<line x1="302.90" y1="170.90" x2="304.50" y2="170.90" stroke="#666" stroke-width="0.5" />
<line x1="302.90" y1="168.00" x2="304.50" y2="168.00" stroke="#666" stroke-width="0.5" />
<line x1="302.90" y1="165.10" x2="304.50" y2="165.10" stroke="#666" stroke-width="0.5" />
<line x1="302.90" y1="162.20" x2="304.50" y2="162.20" stroke="#666" stroke-width="0.5" />
<line x1="301.90" y1="159.30" x2="304.50" y2="159.30" stroke="#666" stroke-width="0.5" />
<line x1="302.90" y1="156.40" x2="304.50" y2="156.40" stroke="#666" stroke-width="0.5" />
<line x1="302.90" y1="153.50" x2="304.50" y2="153.50" stroke="#666" stroke-width="0.5" />
<line x1="302.90" y1="150.60" x2="304.50" y2="150.60" stroke="#666" stroke-width="0.5" />
<line x1="302.90" y1="147.70" x2="304.50" y2="147.70" stroke="#666" stroke-width="0.5" />
<line x1="301.90" y1="144.80" x2="304.50" y2="144.80" stroke="#666" stroke-width="0.5" />
<line x1="302.90" y1="141.90" x2="304.50" y2="141.90" stroke="#666" stroke-width="0.5" />
<line x1="302.90" y1="139.00" x2="304.50" y2="139.00" stroke="#666" stroke-width="0.5" />
<line x1="302.90" y1="136.10" x2="304.50" y2="136.10" stroke="#666" stroke-width="0.5" />
<line x1="302.90" y1="133.20" x2="304.50" y2="133.20" stroke="#666" stroke-width="0.5" />
<line x1="301.90" y1="130.30" x2="304.50" y2="130.30" stroke="#666" stroke-width="0.5" />
<line x1="302.90" y1="127.40" x2="304.50" y2="127.40" stroke="#666" stroke-width="0.5" />
<line x1="302.90" y1="124.50" x2="304.50" y2="124.50" stroke="#666" stroke-width="0.5" />
<text class="s" x="301.90" y="188.30" font-size="4.1" fill="#555" text-anchor="middle" transform="rotate(-90 301.90 188.30)">0</text>
<text class="s" x="301.90" y="173.56" font-size="4.1" fill="#555" text-anchor="middle" transform="rotate(-90 301.90 173.56)">250</text>
<text class="s" x="301.90" y="158.75" font-size="4.1" fill="#555" text-anchor="middle" transform="rotate(-90 301.90 158.75)">500</text>
<text class="s" x="301.90" y="144.01" font-size="4.1" fill="#555" text-anchor="middle" transform="rotate(-90 301.90 144.01)">750</text>
<text class="s" x="301.90" y="129.20" font-size="4.1" fill="#555" text-anchor="middle" transform="rotate(-90 301.90 129.20)">1,000</text>
<text class="s" x="297.30" y="155.10" font-size="5.2" fill="#777" text-anchor="middle" transform="rotate(-90 297.30 155.10)">Count</text>
<rect x="350.40" y="122.40" width="67.00" height="36.70" fill="#fff" stroke="#3c3c3c" stroke-width="1.05" />
<line x1="350.40" y1="134.80" x2="417.40" y2="134.80" stroke="#3c3c3c" stroke-width="1.0" />
<line x1="350.40" y1="146.70" x2="417.40" y2="146.70" stroke="#3c3c3c" stroke-width="1.0" />
<line x1="380.80" y1="122.40" x2="380.80" y2="159.10" stroke="#3c3c3c" stroke-width="1.0" />
<text class="t" x="365.80" y="132.20" font-size="10.0" fill="#111" text-anchor="middle" letter-spacing="0.4" stroke="#111" stroke-width="0.1">G1</text>
<text class="t" x="399.90" y="132.20" font-size="10.0" fill="#111" text-anchor="middle" letter-spacing="0.75" stroke="#111" stroke-width="0.1">78.7%</text>
<text class="t" x="365.80" y="144.35" font-size="10.0" fill="#111" text-anchor="middle" letter-spacing="0.4" stroke="#111" stroke-width="0.1">S</text>
<text class="t" x="399.90" y="144.35" font-size="10.0" fill="#111" text-anchor="middle" letter-spacing="0.75" stroke="#111" stroke-width="0.1">11.5%</text>
<text class="t" x="365.80" y="156.50" font-size="10.0" fill="#111" text-anchor="middle" letter-spacing="0.4" stroke="#111" stroke-width="0.1">G2</text>
<text class="t" x="399.90" y="156.50" font-size="10.0" fill="#111" text-anchor="middle" letter-spacing="0.75" stroke="#111" stroke-width="0.1">9.8%</text>
<text class="s" x="485.08" y="119.20" font-size="5.0" fill="#333" text-anchor="middle">Specimen_001-HT29 48-5</text>
<line x1="442.51" y1="120.50" x2="442.51" y2="188.30" stroke="#939393" stroke-width="0.7" />
<line x1="451.56" y1="120.50" x2="451.56" y2="188.30" stroke="#939393" stroke-width="0.7" />
<line x1="461.25" y1="120.50" x2="461.25" y2="188.30" stroke="#939393" stroke-width="0.7" />
<line x1="469.23" y1="120.50" x2="469.23" y2="188.30" stroke="#939393" stroke-width="0.7" />
<line x1="478.92" y1="120.50" x2="478.92" y2="188.30" stroke="#939393" stroke-width="0.7" />
<path d="M435.4,188.3 L435.4,183.8 L435.8,184.6 L436.0,184.9 L437.1,186.0 L437.6,186.2 L437.8,186.4 L438.6,186.7 L438.8,186.8 L439.1,186.8 L439.7,186.9 L439.9,187.0 L440.6,187.0 L441.4,187.1 L442.1,187.1 L442.9,187.2 L451.1,187.2 L451.3,187.1 L451.6,187.1 L452.0,186.8 L452.2,186.5 L452.4,186.0 L452.9,184.3 L453.1,182.9 L453.3,180.9 L453.5,178.2 L453.7,174.7 L453.9,170.4 L454.1,165.1 L454.4,158.8 L454.6,151.8 L454.8,144.2 L455.2,128.4 L455.4,121.1 L455.7,120.5 L457.4,120.5 L457.6,125.8 L457.8,131.7 L458.0,137.9 L458.2,144.0 L458.5,149.9 L458.7,155.6 L458.9,160.8 L459.1,165.4 L459.3,169.5 L459.5,173.1 L459.7,176.0 L460.0,178.5 L460.2,180.5 L460.4,182.1 L460.6,183.3 L460.8,184.3 L461.0,185.0 L461.5,186.0 L461.7,186.3 L461.9,186.5 L462.5,186.8 L463.2,186.8 L463.4,186.9 L470.3,186.9 L470.7,186.8 L471.2,186.8 L471.4,186.7 L471.8,186.7 L472.2,186.5 L473.5,185.9 L474.6,185.3 L475.7,185.3 L476.1,185.5 L476.3,185.7 L476.6,185.8 L477.0,186.2 L477.4,186.5 L477.6,186.6 L477.8,186.8 L478.9,187.3 L479.1,187.3 L479.6,187.5 L480.0,187.5 L480.4,187.6 L480.6,187.6 L480.9,187.7 L481.3,187.7 L481.5,187.8 L482.4,187.8 L483.4,187.9 L483.7,187.9 L483.9,188.0 L486.5,188.0 L486.9,188.1 L491.6,188.1 L491.8,188.2 L497.5,188.2 L497.7,188.3 L548.3,188.3 L548.3,188.3 Z" fill="#f8666c" stroke="#dc4450" stroke-width="0.35" />
<line x1="451.56" y1="179.21" x2="461.25" y2="179.21" stroke="#333" stroke-width="0.8" />
<line x1="461.25" y1="178.13" x2="469.23" y2="178.13" stroke="#555" stroke-width="0.7" />
<line x1="461.25" y1="178.13" x2="461.25" y2="180.13" stroke="#555" stroke-width="0.6" />
<line x1="469.23" y1="178.13" x2="469.23" y2="180.13" stroke="#555" stroke-width="0.6" />
<line x1="469.23" y1="186.27" x2="478.92" y2="186.27" stroke="#333" stroke-width="0.8" />
<text class="s" x="446.23" y="144.91" font-size="4.8" fill="#444" text-anchor="middle">Sub-G1</text>
<text class="s" x="457.86" y="134.06" font-size="4.6" fill="#444">G1</text>
<text class="s" x="464.24" y="157.11" font-size="4.6" fill="#444" text-anchor="middle">S</text>
<text class="s" x="476.67" y="147.62" font-size="4.8" fill="#444" text-anchor="middle" transform="rotate(-90 476.67 147.62)">G2</text>
<line x1="435.40" y1="120.50" x2="548.30" y2="120.50" stroke="#666" stroke-width="0.8" />
<line x1="548.30" y1="120.50" x2="548.30" y2="188.30" stroke="#777" stroke-width="0.7" />
<line x1="435.40" y1="120.50" x2="435.40" y2="188.30" stroke="#555" stroke-width="0.8" />
<line x1="435.40" y1="188.30" x2="548.30" y2="188.30" stroke="#5a4448" stroke-width="0.9" />
<line x1="439.71" y1="188.30" x2="439.71" y2="190.50" stroke="#666" stroke-width="0.6" />
<line x1="444.02" y1="188.30" x2="444.02" y2="190.50" stroke="#666" stroke-width="0.6" />
<line x1="448.33" y1="188.30" x2="448.33" y2="190.50" stroke="#666" stroke-width="0.6" />
<line x1="452.64" y1="188.30" x2="452.64" y2="190.50" stroke="#666" stroke-width="0.6" />
<line x1="456.95" y1="188.30" x2="456.95" y2="191.70" stroke="#666" stroke-width="0.6" />
<text class="s" x="456.95" y="196.90" font-size="4.6" fill="#555" text-anchor="middle">50</text>
<line x1="461.25" y1="188.30" x2="461.25" y2="190.50" stroke="#666" stroke-width="0.6" />
<line x1="465.56" y1="188.30" x2="465.56" y2="190.50" stroke="#666" stroke-width="0.6" />
<line x1="469.87" y1="188.30" x2="469.87" y2="190.50" stroke="#666" stroke-width="0.6" />
<line x1="474.18" y1="188.30" x2="474.18" y2="190.50" stroke="#666" stroke-width="0.6" />
<line x1="478.49" y1="188.30" x2="478.49" y2="191.70" stroke="#666" stroke-width="0.6" />
<text class="s" x="478.49" y="196.90" font-size="4.6" fill="#555" text-anchor="middle">100</text>
<line x1="482.80" y1="188.30" x2="482.80" y2="190.50" stroke="#666" stroke-width="0.6" />
<line x1="487.11" y1="188.30" x2="487.11" y2="190.50" stroke="#666" stroke-width="0.6" />
<line x1="491.42" y1="188.30" x2="491.42" y2="190.50" stroke="#666" stroke-width="0.6" />
<line x1="495.73" y1="188.30" x2="495.73" y2="190.50" stroke="#666" stroke-width="0.6" />
<line x1="500.04" y1="188.30" x2="500.04" y2="191.70" stroke="#666" stroke-width="0.6" />
<text class="s" x="500.04" y="196.90" font-size="4.6" fill="#555" text-anchor="middle">150</text>
<line x1="504.35" y1="188.30" x2="504.35" y2="190.50" stroke="#666" stroke-width="0.6" />
<line x1="508.66" y1="188.30" x2="508.66" y2="190.50" stroke="#666" stroke-width="0.6" />
<line x1="512.96" y1="188.30" x2="512.96" y2="190.50" stroke="#666" stroke-width="0.6" />
<line x1="517.27" y1="188.30" x2="517.27" y2="190.50" stroke="#666" stroke-width="0.6" />
<line x1="521.58" y1="188.30" x2="521.58" y2="191.70" stroke="#666" stroke-width="0.6" />
<text class="s" x="521.58" y="196.90" font-size="4.6" fill="#555" text-anchor="middle">200</text>
<line x1="525.89" y1="188.30" x2="525.89" y2="190.50" stroke="#666" stroke-width="0.6" />
<line x1="530.20" y1="188.30" x2="530.20" y2="190.50" stroke="#666" stroke-width="0.6" />
<line x1="534.51" y1="188.30" x2="534.51" y2="190.50" stroke="#666" stroke-width="0.6" />
<line x1="538.82" y1="188.30" x2="538.82" y2="190.50" stroke="#666" stroke-width="0.6" />
<line x1="543.13" y1="188.30" x2="543.13" y2="191.70" stroke="#666" stroke-width="0.6" />
<text class="s" x="543.13" y="196.90" font-size="4.6" fill="#555" text-anchor="middle">250</text>
<line x1="547.44" y1="188.30" x2="547.44" y2="190.50" stroke="#666" stroke-width="0.6" />
<text class="s" x="491.85" y="203.50" font-size="5.0" fill="#555" text-anchor="middle">PI-A</text>
<text class="s" x="548.80" y="201.90" font-size="4.4" fill="#555" text-anchor="end">(x 1,000)</text>
<line x1="432.80" y1="188.30" x2="435.40" y2="188.30" stroke="#666" stroke-width="0.5" />
<line x1="433.80" y1="185.40" x2="435.40" y2="185.40" stroke="#666" stroke-width="0.5" />
<line x1="433.80" y1="182.50" x2="435.40" y2="182.50" stroke="#666" stroke-width="0.5" />
<line x1="433.80" y1="179.60" x2="435.40" y2="179.60" stroke="#666" stroke-width="0.5" />
<line x1="433.80" y1="176.70" x2="435.40" y2="176.70" stroke="#666" stroke-width="0.5" />
<line x1="432.80" y1="173.80" x2="435.40" y2="173.80" stroke="#666" stroke-width="0.5" />
<line x1="433.80" y1="170.90" x2="435.40" y2="170.90" stroke="#666" stroke-width="0.5" />
<line x1="433.80" y1="168.00" x2="435.40" y2="168.00" stroke="#666" stroke-width="0.5" />
<line x1="433.80" y1="165.10" x2="435.40" y2="165.10" stroke="#666" stroke-width="0.5" />
<line x1="433.80" y1="162.20" x2="435.40" y2="162.20" stroke="#666" stroke-width="0.5" />
<line x1="432.80" y1="159.30" x2="435.40" y2="159.30" stroke="#666" stroke-width="0.5" />
<line x1="433.80" y1="156.40" x2="435.40" y2="156.40" stroke="#666" stroke-width="0.5" />
<line x1="433.80" y1="153.50" x2="435.40" y2="153.50" stroke="#666" stroke-width="0.5" />
<line x1="433.80" y1="150.60" x2="435.40" y2="150.60" stroke="#666" stroke-width="0.5" />
<line x1="433.80" y1="147.70" x2="435.40" y2="147.70" stroke="#666" stroke-width="0.5" />
<line x1="432.80" y1="144.80" x2="435.40" y2="144.80" stroke="#666" stroke-width="0.5" />
<line x1="433.80" y1="141.90" x2="435.40" y2="141.90" stroke="#666" stroke-width="0.5" />
<line x1="433.80" y1="139.00" x2="435.40" y2="139.00" stroke="#666" stroke-width="0.5" />
<line x1="433.80" y1="136.10" x2="435.40" y2="136.10" stroke="#666" stroke-width="0.5" />
<line x1="433.80" y1="133.20" x2="435.40" y2="133.20" stroke="#666" stroke-width="0.5" />
<line x1="432.80" y1="130.30" x2="435.40" y2="130.30" stroke="#666" stroke-width="0.5" />
<line x1="433.80" y1="127.40" x2="435.40" y2="127.40" stroke="#666" stroke-width="0.5" />
<line x1="433.80" y1="124.50" x2="435.40" y2="124.50" stroke="#666" stroke-width="0.5" />
<line x1="433.80" y1="121.60" x2="435.40" y2="121.60" stroke="#666" stroke-width="0.5" />
<text class="s" x="432.80" y="188.30" font-size="4.1" fill="#555" text-anchor="middle" transform="rotate(-90 432.80 188.30)">0</text>
<text class="s" x="432.80" y="176.23" font-size="4.1" fill="#555" text-anchor="middle" transform="rotate(-90 432.80 176.23)">250</text>
<text class="s" x="432.80" y="164.16" font-size="4.1" fill="#555" text-anchor="middle" transform="rotate(-90 432.80 164.16)">500</text>
<text class="s" x="432.80" y="152.09" font-size="4.1" fill="#555" text-anchor="middle" transform="rotate(-90 432.80 152.09)">750</text>
<text class="s" x="432.80" y="140.03" font-size="4.1" fill="#555" text-anchor="middle" transform="rotate(-90 432.80 140.03)">1,000</text>
<text class="s" x="432.80" y="127.96" font-size="4.1" fill="#555" text-anchor="middle" transform="rotate(-90 432.80 127.96)">1,250</text>
<text class="s" x="428.20" y="154.40" font-size="5.2" fill="#777" text-anchor="middle" transform="rotate(-90 428.20 154.40)">Count</text>
<rect x="481.90" y="120.50" width="66.40" height="37.60" fill="#fff" stroke="#3c3c3c" stroke-width="1.05" />
<line x1="481.90" y1="133.40" x2="548.30" y2="133.40" stroke="#3c3c3c" stroke-width="1.0" />
<line x1="481.90" y1="145.60" x2="548.30" y2="145.60" stroke="#3c3c3c" stroke-width="1.0" />
<line x1="512.30" y1="120.50" x2="512.30" y2="158.10" stroke="#3c3c3c" stroke-width="1.0" />
<text class="t" x="497.30" y="130.55" font-size="10.0" fill="#111" text-anchor="middle" letter-spacing="0.4" stroke="#111" stroke-width="0.1">G1</text>
<text class="t" x="531.10" y="130.55" font-size="10.0" fill="#111" text-anchor="middle" letter-spacing="0.75" stroke="#111" stroke-width="0.1">94.3%</text>
<text class="t" x="497.30" y="143.10" font-size="10.0" fill="#111" text-anchor="middle" letter-spacing="0.4" stroke="#111" stroke-width="0.1">S</text>
<text class="t" x="531.10" y="143.10" font-size="10.0" fill="#111" text-anchor="middle" letter-spacing="0.75" stroke="#111" stroke-width="0.1">3.1%</text>
<text class="t" x="497.30" y="155.45" font-size="10.0" fill="#111" text-anchor="middle" letter-spacing="0.4" stroke="#111" stroke-width="0.1">G2</text>
<text class="t" x="531.10" y="155.45" font-size="10.0" fill="#111" text-anchor="middle" letter-spacing="0.75" stroke="#111" stroke-width="0.1">2.6%</text>
<text class="s" x="615.52" y="118.70" font-size="5.0" fill="#333" text-anchor="middle">Specimen_001-HT29 48-10</text>
<line x1="572.57" y1="120.00" x2="572.57" y2="187.50" stroke="#939393" stroke-width="0.7" />
<line x1="581.70" y1="120.00" x2="581.70" y2="187.50" stroke="#939393" stroke-width="0.7" />
<line x1="591.48" y1="120.00" x2="591.48" y2="187.50" stroke="#939393" stroke-width="0.7" />
<line x1="599.53" y1="120.00" x2="599.53" y2="187.50" stroke="#939393" stroke-width="0.7" />
<line x1="609.31" y1="120.00" x2="609.31" y2="187.50" stroke="#939393" stroke-width="0.7" />
<path d="M565.4,187.5 L565.4,158.1 L565.6,163.2 L565.8,167.4 L566.1,170.9 L566.3,173.7 L566.5,176.0 L566.7,177.9 L566.9,179.4 L567.1,180.7 L567.4,181.7 L567.6,182.6 L567.8,183.3 L568.2,184.3 L568.4,184.7 L568.7,185.0 L568.9,185.3 L569.5,185.8 L570.2,186.1 L570.8,186.2 L571.3,186.3 L571.9,186.3 L572.1,186.4 L581.9,186.4 L582.6,186.1 L582.8,185.9 L583.0,185.5 L583.2,185.0 L583.7,183.0 L583.9,181.4 L584.1,179.1 L584.3,176.1 L584.5,172.3 L584.7,167.6 L585.0,162.0 L585.2,155.5 L585.4,148.2 L585.6,140.5 L585.8,132.6 L586.0,124.9 L586.3,120.0 L588.0,120.0 L588.2,121.9 L588.4,127.6 L588.7,133.6 L589.1,145.8 L589.3,151.6 L589.5,157.0 L589.7,162.0 L590.0,166.4 L590.2,170.3 L590.4,173.6 L590.6,176.3 L590.8,178.6 L591.0,180.4 L591.3,181.9 L591.5,183.0 L591.9,184.5 L592.1,185.0 L592.4,185.3 L592.6,185.6 L593.0,185.9 L593.2,185.9 L593.4,186.0 L593.9,186.0 L594.3,186.1 L600.8,186.1 L601.0,186.0 L601.7,186.0 L602.6,185.6 L603.7,184.5 L604.1,183.9 L604.3,183.5 L604.5,183.2 L605.0,182.7 L605.4,182.5 L605.8,182.5 L606.0,182.6 L606.5,183.1 L606.7,183.4 L606.9,183.8 L608.2,185.7 L608.4,185.9 L608.9,186.2 L609.3,186.5 L609.5,186.5 L610.0,186.7 L610.2,186.7 L610.4,186.8 L610.8,186.8 L611.0,186.9 L611.7,186.9 L611.9,187.0 L612.8,187.0 L613.0,187.1 L614.1,187.1 L614.3,187.2 L616.9,187.2 L617.1,187.3 L622.1,187.3 L622.3,187.4 L628.0,187.4 L628.4,187.5 L679.3,187.5 L679.3,187.5 Z" fill="#f8666c" stroke="#dc4450" stroke-width="0.35" />
<line x1="581.70" y1="180.07" x2="591.48" y2="180.07" stroke="#333" stroke-width="0.8" />
<line x1="591.48" y1="178.72" x2="599.53" y2="178.72" stroke="#555" stroke-width="0.7" />
<line x1="591.48" y1="178.72" x2="591.48" y2="180.72" stroke="#555" stroke-width="0.6" />
<line x1="599.53" y1="178.72" x2="599.53" y2="180.72" stroke="#555" stroke-width="0.6" />
<line x1="599.53" y1="185.47" x2="609.31" y2="185.47" stroke="#333" stroke-width="0.8" />
<text class="s" x="576.34" y="144.30" font-size="4.8" fill="#444" text-anchor="middle">Sub-G1</text>
<text class="s" x="588.00" y="133.50" font-size="4.6" fill="#444">G1</text>
<text class="s" x="594.51" y="156.45" font-size="4.6" fill="#444" text-anchor="middle">S</text>
<text class="s" x="607.02" y="147.00" font-size="4.8" fill="#444" text-anchor="middle" transform="rotate(-90 607.02 147.00)">G2</text>
<line x1="565.40" y1="120.00" x2="679.30" y2="120.00" stroke="#666" stroke-width="0.8" />
<line x1="679.30" y1="120.00" x2="679.30" y2="187.50" stroke="#777" stroke-width="0.7" />
<line x1="565.40" y1="120.00" x2="565.40" y2="187.50" stroke="#555" stroke-width="0.8" />
<line x1="565.40" y1="187.50" x2="679.30" y2="187.50" stroke="#5a4448" stroke-width="0.9" />
<line x1="569.75" y1="187.50" x2="569.75" y2="189.70" stroke="#666" stroke-width="0.6" />
<line x1="574.09" y1="187.50" x2="574.09" y2="189.70" stroke="#666" stroke-width="0.6" />
<line x1="578.44" y1="187.50" x2="578.44" y2="189.70" stroke="#666" stroke-width="0.6" />
<line x1="582.79" y1="187.50" x2="582.79" y2="189.70" stroke="#666" stroke-width="0.6" />
<line x1="587.14" y1="187.50" x2="587.14" y2="190.90" stroke="#666" stroke-width="0.6" />
<text class="s" x="587.14" y="196.10" font-size="4.6" fill="#555" text-anchor="middle">50</text>
<line x1="591.48" y1="187.50" x2="591.48" y2="189.70" stroke="#666" stroke-width="0.6" />
<line x1="595.83" y1="187.50" x2="595.83" y2="189.70" stroke="#666" stroke-width="0.6" />
<line x1="600.18" y1="187.50" x2="600.18" y2="189.70" stroke="#666" stroke-width="0.6" />
<line x1="604.53" y1="187.50" x2="604.53" y2="189.70" stroke="#666" stroke-width="0.6" />
<line x1="608.87" y1="187.50" x2="608.87" y2="190.90" stroke="#666" stroke-width="0.6" />
<text class="s" x="608.87" y="196.10" font-size="4.6" fill="#555" text-anchor="middle">100</text>
<line x1="613.22" y1="187.50" x2="613.22" y2="189.70" stroke="#666" stroke-width="0.6" />
<line x1="617.57" y1="187.50" x2="617.57" y2="189.70" stroke="#666" stroke-width="0.6" />
<line x1="621.92" y1="187.50" x2="621.92" y2="189.70" stroke="#666" stroke-width="0.6" />
<line x1="626.26" y1="187.50" x2="626.26" y2="189.70" stroke="#666" stroke-width="0.6" />
<line x1="630.61" y1="187.50" x2="630.61" y2="190.90" stroke="#666" stroke-width="0.6" />
<text class="s" x="630.61" y="196.10" font-size="4.6" fill="#555" text-anchor="middle">150</text>
<line x1="634.96" y1="187.50" x2="634.96" y2="189.70" stroke="#666" stroke-width="0.6" />
<line x1="639.30" y1="187.50" x2="639.30" y2="189.70" stroke="#666" stroke-width="0.6" />
<line x1="643.65" y1="187.50" x2="643.65" y2="189.70" stroke="#666" stroke-width="0.6" />
<line x1="648.00" y1="187.50" x2="648.00" y2="189.70" stroke="#666" stroke-width="0.6" />
<line x1="652.35" y1="187.50" x2="652.35" y2="190.90" stroke="#666" stroke-width="0.6" />
<text class="s" x="652.35" y="196.10" font-size="4.6" fill="#555" text-anchor="middle">200</text>
<line x1="656.69" y1="187.50" x2="656.69" y2="189.70" stroke="#666" stroke-width="0.6" />
<line x1="661.04" y1="187.50" x2="661.04" y2="189.70" stroke="#666" stroke-width="0.6" />
<line x1="665.39" y1="187.50" x2="665.39" y2="189.70" stroke="#666" stroke-width="0.6" />
<line x1="669.74" y1="187.50" x2="669.74" y2="189.70" stroke="#666" stroke-width="0.6" />
<line x1="674.08" y1="187.50" x2="674.08" y2="190.90" stroke="#666" stroke-width="0.6" />
<text class="s" x="674.08" y="196.10" font-size="4.6" fill="#555" text-anchor="middle">250</text>
<line x1="678.43" y1="187.50" x2="678.43" y2="189.70" stroke="#666" stroke-width="0.6" />
<text class="s" x="622.35" y="202.70" font-size="5.0" fill="#555" text-anchor="middle">PI-A</text>
<text class="s" x="679.80" y="201.10" font-size="4.4" fill="#555" text-anchor="end">(x 1,000)</text>
<line x1="562.80" y1="187.50" x2="565.40" y2="187.50" stroke="#666" stroke-width="0.5" />
<line x1="563.80" y1="184.60" x2="565.40" y2="184.60" stroke="#666" stroke-width="0.5" />
<line x1="563.80" y1="181.70" x2="565.40" y2="181.70" stroke="#666" stroke-width="0.5" />
<line x1="563.80" y1="178.80" x2="565.40" y2="178.80" stroke="#666" stroke-width="0.5" />
<line x1="563.80" y1="175.90" x2="565.40" y2="175.90" stroke="#666" stroke-width="0.5" />
<line x1="562.80" y1="173.00" x2="565.40" y2="173.00" stroke="#666" stroke-width="0.5" />
<line x1="563.80" y1="170.10" x2="565.40" y2="170.10" stroke="#666" stroke-width="0.5" />
<line x1="563.80" y1="167.20" x2="565.40" y2="167.20" stroke="#666" stroke-width="0.5" />
<line x1="563.80" y1="164.30" x2="565.40" y2="164.30" stroke="#666" stroke-width="0.5" />
<line x1="563.80" y1="161.40" x2="565.40" y2="161.40" stroke="#666" stroke-width="0.5" />
<line x1="562.80" y1="158.50" x2="565.40" y2="158.50" stroke="#666" stroke-width="0.5" />
<line x1="563.80" y1="155.60" x2="565.40" y2="155.60" stroke="#666" stroke-width="0.5" />
<line x1="563.80" y1="152.70" x2="565.40" y2="152.70" stroke="#666" stroke-width="0.5" />
<line x1="563.80" y1="149.80" x2="565.40" y2="149.80" stroke="#666" stroke-width="0.5" />
<line x1="563.80" y1="146.90" x2="565.40" y2="146.90" stroke="#666" stroke-width="0.5" />
<line x1="562.80" y1="144.00" x2="565.40" y2="144.00" stroke="#666" stroke-width="0.5" />
<line x1="563.80" y1="141.10" x2="565.40" y2="141.10" stroke="#666" stroke-width="0.5" />
<line x1="563.80" y1="138.20" x2="565.40" y2="138.20" stroke="#666" stroke-width="0.5" />
<line x1="563.80" y1="135.30" x2="565.40" y2="135.30" stroke="#666" stroke-width="0.5" />
<line x1="563.80" y1="132.40" x2="565.40" y2="132.40" stroke="#666" stroke-width="0.5" />
<line x1="562.80" y1="129.50" x2="565.40" y2="129.50" stroke="#666" stroke-width="0.5" />
<line x1="563.80" y1="126.60" x2="565.40" y2="126.60" stroke="#666" stroke-width="0.5" />
<line x1="563.80" y1="123.70" x2="565.40" y2="123.70" stroke="#666" stroke-width="0.5" />
<line x1="563.80" y1="120.80" x2="565.40" y2="120.80" stroke="#666" stroke-width="0.5" />
<text class="s" x="562.80" y="187.50" font-size="4.1" fill="#555" text-anchor="middle" transform="rotate(-90 562.80 187.50)">0</text>
<text class="s" x="562.80" y="172.51" font-size="4.1" fill="#555" text-anchor="middle" transform="rotate(-90 562.80 172.51)">250</text>
<text class="s" x="562.80" y="157.46" font-size="4.1" fill="#555" text-anchor="middle" transform="rotate(-90 562.80 157.46)">500</text>
<text class="s" x="562.80" y="142.48" font-size="4.1" fill="#555" text-anchor="middle" transform="rotate(-90 562.80 142.48)">750</text>
<text class="s" x="562.80" y="127.42" font-size="4.1" fill="#555" text-anchor="middle" transform="rotate(-90 562.80 127.42)">1,000</text>
<text class="s" x="558.20" y="153.75" font-size="5.2" fill="#777" text-anchor="middle" transform="rotate(-90 558.20 153.75)">Count</text>
<rect x="612.50" y="120.50" width="66.80" height="36.70" fill="#fff" stroke="#3c3c3c" stroke-width="1.05" />
<line x1="612.50" y1="132.50" x2="679.30" y2="132.50" stroke="#3c3c3c" stroke-width="1.0" />
<line x1="612.50" y1="144.60" x2="679.30" y2="144.60" stroke="#3c3c3c" stroke-width="1.0" />
<line x1="642.30" y1="120.50" x2="642.30" y2="157.20" stroke="#3c3c3c" stroke-width="1.0" />
<text class="t" x="627.60" y="130.10" font-size="10.0" fill="#111" text-anchor="middle" letter-spacing="0.4" stroke="#111" stroke-width="0.1">G1</text>
<text class="t" x="661.60" y="130.10" font-size="10.0" fill="#111" text-anchor="middle" letter-spacing="0.75" stroke="#111" stroke-width="0.1">84.4%</text>
<text class="t" x="627.60" y="142.15" font-size="10.0" fill="#111" text-anchor="middle" letter-spacing="0.4" stroke="#111" stroke-width="0.1">S</text>
<text class="t" x="661.60" y="142.15" font-size="10.0" fill="#111" text-anchor="middle" letter-spacing="0.75" stroke="#111" stroke-width="0.1">8.9%</text>
<text class="t" x="627.60" y="154.50" font-size="10.0" fill="#111" text-anchor="middle" letter-spacing="0.4" stroke="#111" stroke-width="0.1">G2</text>
<text class="t" x="661.60" y="154.50" font-size="10.0" fill="#111" text-anchor="middle" letter-spacing="0.75" stroke="#111" stroke-width="0.1">6.7%</text>
<text class="s" x="93.07" y="211.60" font-size="5.0" fill="#333" text-anchor="middle">Specimen_001-HT29 72-0</text>
<line x1="51.11" y1="212.90" x2="51.11" y2="279.80" stroke="#939393" stroke-width="0.7" />
<line x1="60.03" y1="212.90" x2="60.03" y2="279.80" stroke="#939393" stroke-width="0.7" />
<line x1="69.59" y1="212.90" x2="69.59" y2="279.80" stroke="#939393" stroke-width="0.7" />
<line x1="77.45" y1="212.90" x2="77.45" y2="279.80" stroke="#939393" stroke-width="0.7" />
<line x1="87.01" y1="212.90" x2="87.01" y2="279.80" stroke="#939393" stroke-width="0.7" />
<path d="M44.1,279.8 L44.1,277.1 L44.5,277.3 L45.2,277.5 L45.4,277.6 L45.8,277.7 L46.0,277.8 L46.6,277.9 L46.9,278.0 L47.1,278.0 L47.3,278.1 L48.1,278.2 L48.3,278.3 L49.0,278.3 L50.0,278.4 L50.3,278.5 L51.5,278.5 L51.7,278.6 L54.3,278.6 L55.1,278.7 L60.2,278.7 L60.7,278.6 L61.1,278.3 L61.3,278.0 L61.5,277.5 L61.7,276.8 L61.9,275.8 L62.2,274.4 L62.4,272.4 L62.6,269.8 L62.8,266.4 L63.0,262.1 L63.2,256.9 L63.4,250.7 L63.6,243.8 L63.9,236.3 L64.3,220.7 L64.5,213.5 L64.7,212.9 L66.4,212.9 L66.6,218.1 L66.8,223.9 L67.0,230.0 L67.3,236.0 L67.5,241.8 L67.7,247.3 L67.9,252.3 L68.1,256.7 L68.3,260.5 L68.5,263.6 L68.7,266.2 L69.0,268.2 L69.2,269.9 L69.4,271.2 L69.6,272.2 L69.8,273.1 L70.2,274.2 L70.4,274.5 L70.9,275.0 L71.3,275.2 L71.5,275.2 L71.7,275.3 L72.8,275.3 L73.0,275.2 L73.8,275.2 L74.0,275.1 L74.5,275.1 L74.7,275.0 L75.1,275.0 L75.3,274.9 L75.7,274.8 L76.0,274.8 L76.2,274.7 L76.8,274.6 L77.0,274.5 L77.2,274.5 L77.4,274.4 L77.7,274.4 L78.3,274.3 L78.5,274.2 L78.9,274.2 L79.1,274.1 L80.2,274.1 L80.8,274.2 L81.5,274.5 L82.1,275.1 L82.8,276.0 L83.6,277.3 L83.8,277.5 L84.0,277.8 L84.2,278.0 L84.5,278.1 L84.7,278.3 L85.9,278.9 L86.2,278.9 L86.4,279.0 L86.6,279.0 L86.8,279.1 L87.4,279.2 L87.6,279.3 L88.1,279.3 L89.1,279.4 L89.3,279.5 L91.5,279.5 L91.7,279.6 L96.4,279.6 L97.8,279.7 L102.1,279.7 L102.3,279.8 L155.4,279.8 L155.4,279.8 Z" fill="#f8666c" stroke="#dc4450" stroke-width="0.35" />
<line x1="44.10" y1="246.35" x2="51.11" y2="246.35" stroke="#777" stroke-width="0.7" />
<line x1="60.03" y1="246.35" x2="87.01" y2="246.35" stroke="#777" stroke-width="0.7" />
<text class="s" x="54.77" y="236.98" font-size="4.8" fill="#444" text-anchor="middle">Sub-G1</text>
<text class="s" x="66.33" y="226.28" font-size="4.6" fill="#444">G1</text>
<text class="s" x="72.52" y="249.03" font-size="4.6" fill="#444" text-anchor="middle">S</text>
<text class="s" x="83.23" y="241.00" font-size="4.6" fill="#444" text-anchor="middle">G2</text>
<line x1="44.10" y1="212.90" x2="155.40" y2="212.90" stroke="#666" stroke-width="0.8" />
<line x1="155.40" y1="212.90" x2="155.40" y2="279.80" stroke="#777" stroke-width="0.7" />
<line x1="44.10" y1="212.90" x2="44.10" y2="279.80" stroke="#555" stroke-width="0.8" />
<line x1="44.10" y1="279.80" x2="155.40" y2="279.80" stroke="#5a4448" stroke-width="0.9" />
<line x1="48.35" y1="279.80" x2="48.35" y2="282.00" stroke="#666" stroke-width="0.6" />
<line x1="52.60" y1="279.80" x2="52.60" y2="282.00" stroke="#666" stroke-width="0.6" />
<line x1="56.84" y1="279.80" x2="56.84" y2="282.00" stroke="#666" stroke-width="0.6" />
<line x1="61.09" y1="279.80" x2="61.09" y2="282.00" stroke="#666" stroke-width="0.6" />
<line x1="65.34" y1="279.80" x2="65.34" y2="283.20" stroke="#666" stroke-width="0.6" />
<text class="s" x="65.34" y="288.40" font-size="4.6" fill="#555" text-anchor="middle">50</text>
<line x1="69.59" y1="279.80" x2="69.59" y2="282.00" stroke="#666" stroke-width="0.6" />
<line x1="73.84" y1="279.80" x2="73.84" y2="282.00" stroke="#666" stroke-width="0.6" />
<line x1="78.08" y1="279.80" x2="78.08" y2="282.00" stroke="#666" stroke-width="0.6" />
<line x1="82.33" y1="279.80" x2="82.33" y2="282.00" stroke="#666" stroke-width="0.6" />
<line x1="86.58" y1="279.80" x2="86.58" y2="283.20" stroke="#666" stroke-width="0.6" />
<text class="s" x="86.58" y="288.40" font-size="4.6" fill="#555" text-anchor="middle">100</text>
<line x1="90.83" y1="279.80" x2="90.83" y2="282.00" stroke="#666" stroke-width="0.6" />
<line x1="95.08" y1="279.80" x2="95.08" y2="282.00" stroke="#666" stroke-width="0.6" />
<line x1="99.33" y1="279.80" x2="99.33" y2="282.00" stroke="#666" stroke-width="0.6" />
<line x1="103.57" y1="279.80" x2="103.57" y2="282.00" stroke="#666" stroke-width="0.6" />
<line x1="107.82" y1="279.80" x2="107.82" y2="283.20" stroke="#666" stroke-width="0.6" />
<text class="s" x="107.82" y="288.40" font-size="4.6" fill="#555" text-anchor="middle">150</text>
<line x1="112.07" y1="279.80" x2="112.07" y2="282.00" stroke="#666" stroke-width="0.6" />
<line x1="116.32" y1="279.80" x2="116.32" y2="282.00" stroke="#666" stroke-width="0.6" />
<line x1="120.57" y1="279.80" x2="120.57" y2="282.00" stroke="#666" stroke-width="0.6" />
<line x1="124.81" y1="279.80" x2="124.81" y2="282.00" stroke="#666" stroke-width="0.6" />
<line x1="129.06" y1="279.80" x2="129.06" y2="283.20" stroke="#666" stroke-width="0.6" />
<text class="s" x="129.06" y="288.40" font-size="4.6" fill="#555" text-anchor="middle">200</text>
<line x1="133.31" y1="279.80" x2="133.31" y2="282.00" stroke="#666" stroke-width="0.6" />
<line x1="137.56" y1="279.80" x2="137.56" y2="282.00" stroke="#666" stroke-width="0.6" />
<line x1="141.81" y1="279.80" x2="141.81" y2="282.00" stroke="#666" stroke-width="0.6" />
<line x1="146.05" y1="279.80" x2="146.05" y2="282.00" stroke="#666" stroke-width="0.6" />
<line x1="150.30" y1="279.80" x2="150.30" y2="283.20" stroke="#666" stroke-width="0.6" />
<text class="s" x="150.30" y="288.40" font-size="4.6" fill="#555" text-anchor="middle">250</text>
<line x1="154.55" y1="279.80" x2="154.55" y2="282.00" stroke="#666" stroke-width="0.6" />
<text class="s" x="99.75" y="295.00" font-size="5.0" fill="#555" text-anchor="middle">PI-A</text>
<text class="s" x="155.90" y="293.40" font-size="4.4" fill="#555" text-anchor="end">(x 1,000)</text>
<line x1="41.50" y1="279.80" x2="44.10" y2="279.80" stroke="#666" stroke-width="0.5" />
<line x1="42.50" y1="276.90" x2="44.10" y2="276.90" stroke="#666" stroke-width="0.5" />
<line x1="42.50" y1="274.00" x2="44.10" y2="274.00" stroke="#666" stroke-width="0.5" />
<line x1="42.50" y1="271.10" x2="44.10" y2="271.10" stroke="#666" stroke-width="0.5" />
<line x1="42.50" y1="268.20" x2="44.10" y2="268.20" stroke="#666" stroke-width="0.5" />
<line x1="41.50" y1="265.30" x2="44.10" y2="265.30" stroke="#666" stroke-width="0.5" />
<line x1="42.50" y1="262.40" x2="44.10" y2="262.40" stroke="#666" stroke-width="0.5" />
<line x1="42.50" y1="259.50" x2="44.10" y2="259.50" stroke="#666" stroke-width="0.5" />
<line x1="42.50" y1="256.60" x2="44.10" y2="256.60" stroke="#666" stroke-width="0.5" />
<line x1="42.50" y1="253.70" x2="44.10" y2="253.70" stroke="#666" stroke-width="0.5" />
<line x1="41.50" y1="250.80" x2="44.10" y2="250.80" stroke="#666" stroke-width="0.5" />
<line x1="42.50" y1="247.90" x2="44.10" y2="247.90" stroke="#666" stroke-width="0.5" />
<line x1="42.50" y1="245.00" x2="44.10" y2="245.00" stroke="#666" stroke-width="0.5" />
<line x1="42.50" y1="242.10" x2="44.10" y2="242.10" stroke="#666" stroke-width="0.5" />
<line x1="42.50" y1="239.20" x2="44.10" y2="239.20" stroke="#666" stroke-width="0.5" />
<line x1="41.50" y1="236.30" x2="44.10" y2="236.30" stroke="#666" stroke-width="0.5" />
<line x1="42.50" y1="233.40" x2="44.10" y2="233.40" stroke="#666" stroke-width="0.5" />
<line x1="42.50" y1="230.50" x2="44.10" y2="230.50" stroke="#666" stroke-width="0.5" />
<line x1="42.50" y1="227.60" x2="44.10" y2="227.60" stroke="#666" stroke-width="0.5" />
<line x1="42.50" y1="224.70" x2="44.10" y2="224.70" stroke="#666" stroke-width="0.5" />
<line x1="41.50" y1="221.80" x2="44.10" y2="221.80" stroke="#666" stroke-width="0.5" />
<line x1="42.50" y1="218.90" x2="44.10" y2="218.90" stroke="#666" stroke-width="0.5" />
<line x1="42.50" y1="216.00" x2="44.10" y2="216.00" stroke="#666" stroke-width="0.5" />
<line x1="42.50" y1="213.10" x2="44.10" y2="213.10" stroke="#666" stroke-width="0.5" />
<text class="s" x="41.50" y="279.80" font-size="4.1" fill="#555" text-anchor="middle" transform="rotate(-90 41.50 279.80)">0</text>
<text class="s" x="41.50" y="271.97" font-size="4.1" fill="#555" text-anchor="middle" transform="rotate(-90 41.50 271.97)">100</text>
<text class="s" x="41.50" y="264.88" font-size="4.1" fill="#555" text-anchor="middle" transform="rotate(-90 41.50 264.88)">200</text>
<text class="s" x="41.50" y="257.79" font-size="4.1" fill="#555" text-anchor="middle" transform="rotate(-90 41.50 257.79)">300</text>
<text class="s" x="41.50" y="250.70" font-size="4.1" fill="#555" text-anchor="middle" transform="rotate(-90 41.50 250.70)">400</text>
<text class="s" x="41.50" y="243.61" font-size="4.1" fill="#555" text-anchor="middle" transform="rotate(-90 41.50 243.61)">500</text>
<text class="s" x="41.50" y="236.52" font-size="4.1" fill="#555" text-anchor="middle" transform="rotate(-90 41.50 236.52)">600</text>
<text class="s" x="41.50" y="229.42" font-size="4.1" fill="#555" text-anchor="middle" transform="rotate(-90 41.50 229.42)">700</text>
<text class="s" x="41.50" y="222.33" font-size="4.1" fill="#555" text-anchor="middle" transform="rotate(-90 41.50 222.33)">800</text>
<text class="s" x="41.50" y="215.24" font-size="4.1" fill="#555" text-anchor="middle" transform="rotate(-90 41.50 215.24)">900</text>
<text class="s" x="36.90" y="246.35" font-size="5.2" fill="#777" text-anchor="middle" transform="rotate(-90 36.90 246.35)">Count</text>
<rect x="93.20" y="213.30" width="62.80" height="36.80" fill="#fff" stroke="#3c3c3c" stroke-width="1.05" />
<line x1="93.20" y1="226.00" x2="156.00" y2="226.00" stroke="#3c3c3c" stroke-width="1.0" />
<line x1="93.20" y1="238.20" x2="156.00" y2="238.20" stroke="#3c3c3c" stroke-width="1.0" />
<line x1="121.60" y1="213.30" x2="121.60" y2="250.10" stroke="#3c3c3c" stroke-width="1.0" />
<text class="t" x="107.60" y="223.25" font-size="10.0" fill="#111" text-anchor="middle" letter-spacing="0.4" stroke="#111" stroke-width="0.1">G1</text>
<text class="t" x="139.60" y="223.25" font-size="10.0" fill="#111" text-anchor="middle" letter-spacing="0.75" stroke="#111" stroke-width="0.1">82.5%</text>
<text class="t" x="107.60" y="235.70" font-size="10.0" fill="#111" text-anchor="middle" letter-spacing="0.4" stroke="#111" stroke-width="0.1">S</text>
<text class="t" x="139.60" y="235.70" font-size="10.0" fill="#111" text-anchor="middle" letter-spacing="0.75" stroke="#111" stroke-width="0.1">8.5%</text>
<text class="t" x="107.60" y="247.75" font-size="10.0" fill="#111" text-anchor="middle" letter-spacing="0.4" stroke="#111" stroke-width="0.1">G2</text>
<text class="t" x="139.60" y="247.75" font-size="10.0" fill="#111" text-anchor="middle" letter-spacing="0.75" stroke="#111" stroke-width="0.1">9.0%</text>
<text class="s" x="223.74" y="213.10" font-size="5.0" fill="#333" text-anchor="middle">Specimen_001-HT29 72-05</text>
<line x1="181.55" y1="214.40" x2="181.55" y2="279.90" stroke="#939393" stroke-width="0.7" />
<line x1="190.52" y1="214.40" x2="190.52" y2="279.90" stroke="#939393" stroke-width="0.7" />
<line x1="200.13" y1="214.40" x2="200.13" y2="279.90" stroke="#939393" stroke-width="0.7" />
<line x1="208.03" y1="214.40" x2="208.03" y2="279.90" stroke="#939393" stroke-width="0.7" />
<line x1="217.64" y1="214.40" x2="217.64" y2="279.90" stroke="#939393" stroke-width="0.7" />
<path d="M174.5,279.9 L174.5,277.5 L175.1,277.8 L175.4,277.8 L175.8,278.0 L176.0,278.0 L176.2,278.1 L176.8,278.2 L177.1,278.2 L177.3,278.3 L177.7,278.3 L178.3,278.4 L178.6,278.5 L179.4,278.5 L179.6,278.6 L180.7,278.6 L181.5,278.7 L183.0,278.7 L183.3,278.8 L190.5,278.8 L190.9,278.6 L191.2,278.4 L191.4,278.1 L191.6,277.7 L191.8,277.0 L192.0,276.0 L192.2,274.6 L192.4,272.7 L192.7,270.1 L192.9,266.8 L193.1,262.6 L193.3,257.4 L193.5,251.4 L193.7,244.7 L193.9,237.3 L194.1,229.6 L194.4,222.1 L194.6,215.0 L194.8,214.4 L196.5,214.4 L196.7,219.5 L196.9,225.2 L197.1,231.2 L197.3,237.1 L197.6,242.8 L197.8,248.2 L198.0,253.2 L198.2,257.6 L198.4,261.5 L198.6,264.8 L198.8,267.6 L199.1,269.8 L199.3,271.6 L199.5,273.1 L199.7,274.2 L199.9,275.1 L200.1,275.8 L200.3,276.3 L200.8,277.0 L201.2,277.3 L201.6,277.4 L201.8,277.5 L206.7,277.5 L207.0,277.4 L207.6,277.4 L208.0,277.3 L208.2,277.2 L208.5,277.2 L208.9,277.1 L209.9,276.6 L210.2,276.5 L210.6,276.2 L211.0,276.0 L211.4,275.7 L212.9,275.0 L213.8,275.0 L214.6,275.4 L215.3,276.0 L215.5,276.3 L216.1,277.0 L216.4,277.2 L216.6,277.5 L217.0,277.9 L217.9,278.5 L218.9,279.0 L219.1,279.0 L219.6,279.2 L219.8,279.2 L220.0,279.3 L220.8,279.4 L221.1,279.5 L221.9,279.5 L222.1,279.6 L224.5,279.6 L225.5,279.7 L229.6,279.7 L229.8,279.8 L235.6,279.8 L236.6,279.9 L286.4,279.9 L286.4,279.9 Z" fill="#f8666c" stroke="#dc4450" stroke-width="0.35" />
<line x1="190.52" y1="268.76" x2="200.13" y2="268.76" stroke="#333" stroke-width="0.8" />
<line x1="200.13" y1="266.14" x2="208.03" y2="266.14" stroke="#555" stroke-width="0.7" />
<line x1="200.13" y1="266.14" x2="200.13" y2="268.14" stroke="#555" stroke-width="0.6" />
<line x1="208.03" y1="266.14" x2="208.03" y2="268.14" stroke="#555" stroke-width="0.6" />
<line x1="208.03" y1="277.94" x2="217.64" y2="277.94" stroke="#333" stroke-width="0.8" />
<text class="s" x="185.23" y="237.98" font-size="4.8" fill="#444" text-anchor="middle">Sub-G1</text>
<text class="s" x="196.82" y="227.50" font-size="4.6" fill="#444">G1</text>
<text class="s" x="203.08" y="249.77" font-size="4.6" fill="#444" text-anchor="middle">S</text>
<text class="s" x="215.43" y="240.60" font-size="4.8" fill="#444" text-anchor="middle" transform="rotate(-90 215.43 240.60)">G2</text>
<line x1="174.50" y1="214.40" x2="286.40" y2="214.40" stroke="#666" stroke-width="0.8" />
<line x1="286.40" y1="214.40" x2="286.40" y2="279.90" stroke="#777" stroke-width="0.7" />
<line x1="174.50" y1="214.40" x2="174.50" y2="279.90" stroke="#555" stroke-width="0.8" />
<line x1="174.50" y1="279.90" x2="286.40" y2="279.90" stroke="#5a4448" stroke-width="0.9" />
<line x1="178.77" y1="279.90" x2="178.77" y2="282.10" stroke="#666" stroke-width="0.6" />
<line x1="183.04" y1="279.90" x2="183.04" y2="282.10" stroke="#666" stroke-width="0.6" />
<line x1="187.31" y1="279.90" x2="187.31" y2="282.10" stroke="#666" stroke-width="0.6" />
<line x1="191.58" y1="279.90" x2="191.58" y2="282.10" stroke="#666" stroke-width="0.6" />
<line x1="195.85" y1="279.90" x2="195.85" y2="283.30" stroke="#666" stroke-width="0.6" />
<text class="s" x="195.85" y="288.50" font-size="4.6" fill="#555" text-anchor="middle">50</text>
<line x1="200.13" y1="279.90" x2="200.13" y2="282.10" stroke="#666" stroke-width="0.6" />
<line x1="204.40" y1="279.90" x2="204.40" y2="282.10" stroke="#666" stroke-width="0.6" />
<line x1="208.67" y1="279.90" x2="208.67" y2="282.10" stroke="#666" stroke-width="0.6" />
<line x1="212.94" y1="279.90" x2="212.94" y2="282.10" stroke="#666" stroke-width="0.6" />
<line x1="217.21" y1="279.90" x2="217.21" y2="283.30" stroke="#666" stroke-width="0.6" />
<text class="s" x="217.21" y="288.50" font-size="4.6" fill="#555" text-anchor="middle">100</text>
<line x1="221.48" y1="279.90" x2="221.48" y2="282.10" stroke="#666" stroke-width="0.6" />
<line x1="225.75" y1="279.90" x2="225.75" y2="282.10" stroke="#666" stroke-width="0.6" />
<line x1="230.02" y1="279.90" x2="230.02" y2="282.10" stroke="#666" stroke-width="0.6" />
<line x1="234.29" y1="279.90" x2="234.29" y2="282.10" stroke="#666" stroke-width="0.6" />
<line x1="238.56" y1="279.90" x2="238.56" y2="283.30" stroke="#666" stroke-width="0.6" />
<text class="s" x="238.56" y="288.50" font-size="4.6" fill="#555" text-anchor="middle">150</text>
<line x1="242.84" y1="279.90" x2="242.84" y2="282.10" stroke="#666" stroke-width="0.6" />
<line x1="247.11" y1="279.90" x2="247.11" y2="282.10" stroke="#666" stroke-width="0.6" />
<line x1="251.38" y1="279.90" x2="251.38" y2="282.10" stroke="#666" stroke-width="0.6" />
<line x1="255.65" y1="279.90" x2="255.65" y2="282.10" stroke="#666" stroke-width="0.6" />
<line x1="259.92" y1="279.90" x2="259.92" y2="283.30" stroke="#666" stroke-width="0.6" />
<text class="s" x="259.92" y="288.50" font-size="4.6" fill="#555" text-anchor="middle">200</text>
<line x1="264.19" y1="279.90" x2="264.19" y2="282.10" stroke="#666" stroke-width="0.6" />
<line x1="268.46" y1="279.90" x2="268.46" y2="282.10" stroke="#666" stroke-width="0.6" />
<line x1="272.73" y1="279.90" x2="272.73" y2="282.10" stroke="#666" stroke-width="0.6" />
<line x1="277.00" y1="279.90" x2="277.00" y2="282.10" stroke="#666" stroke-width="0.6" />
<line x1="281.27" y1="279.90" x2="281.27" y2="283.30" stroke="#666" stroke-width="0.6" />
<text class="s" x="281.27" y="288.50" font-size="4.6" fill="#555" text-anchor="middle">250</text>
<line x1="285.55" y1="279.90" x2="285.55" y2="282.10" stroke="#666" stroke-width="0.6" />
<text class="s" x="230.45" y="295.10" font-size="5.0" fill="#555" text-anchor="middle">PI-A</text>
<text class="s" x="286.90" y="293.50" font-size="4.4" fill="#555" text-anchor="end">(x 1,000)</text>
<line x1="171.90" y1="279.90" x2="174.50" y2="279.90" stroke="#666" stroke-width="0.5" />
<line x1="172.90" y1="277.00" x2="174.50" y2="277.00" stroke="#666" stroke-width="0.5" />
<line x1="172.90" y1="274.10" x2="174.50" y2="274.10" stroke="#666" stroke-width="0.5" />
<line x1="172.90" y1="271.20" x2="174.50" y2="271.20" stroke="#666" stroke-width="0.5" />
<line x1="172.90" y1="268.30" x2="174.50" y2="268.30" stroke="#666" stroke-width="0.5" />
<line x1="171.90" y1="265.40" x2="174.50" y2="265.40" stroke="#666" stroke-width="0.5" />
<line x1="172.90" y1="262.50" x2="174.50" y2="262.50" stroke="#666" stroke-width="0.5" />
<line x1="172.90" y1="259.60" x2="174.50" y2="259.60" stroke="#666" stroke-width="0.5" />
<line x1="172.90" y1="256.70" x2="174.50" y2="256.70" stroke="#666" stroke-width="0.5" />
<line x1="172.90" y1="253.80" x2="174.50" y2="253.80" stroke="#666" stroke-width="0.5" />
<line x1="171.90" y1="250.90" x2="174.50" y2="250.90" stroke="#666" stroke-width="0.5" />
<line x1="172.90" y1="248.00" x2="174.50" y2="248.00" stroke="#666" stroke-width="0.5" />
<line x1="172.90" y1="245.10" x2="174.50" y2="245.10" stroke="#666" stroke-width="0.5" />
<line x1="172.90" y1="242.20" x2="174.50" y2="242.20" stroke="#666" stroke-width="0.5" />
<line x1="172.90" y1="239.30" x2="174.50" y2="239.30" stroke="#666" stroke-width="0.5" />
<line x1="171.90" y1="236.40" x2="174.50" y2="236.40" stroke="#666" stroke-width="0.5" />
<line x1="172.90" y1="233.50" x2="174.50" y2="233.50" stroke="#666" stroke-width="0.5" />
<line x1="172.90" y1="230.60" x2="174.50" y2="230.60" stroke="#666" stroke-width="0.5" />
<line x1="172.90" y1="227.70" x2="174.50" y2="227.70" stroke="#666" stroke-width="0.5" />
<line x1="172.90" y1="224.80" x2="174.50" y2="224.80" stroke="#666" stroke-width="0.5" />
<line x1="171.90" y1="221.90" x2="174.50" y2="221.90" stroke="#666" stroke-width="0.5" />
<line x1="172.90" y1="219.00" x2="174.50" y2="219.00" stroke="#666" stroke-width="0.5" />
<line x1="172.90" y1="216.10" x2="174.50" y2="216.10" stroke="#666" stroke-width="0.5" />
<text class="s" x="171.90" y="279.90" font-size="4.1" fill="#555" text-anchor="middle" transform="rotate(-90 171.90 279.90)">0</text>
<text class="s" x="171.90" y="265.36" font-size="4.1" fill="#555" text-anchor="middle" transform="rotate(-90 171.90 265.36)">250</text>
<text class="s" x="171.90" y="250.75" font-size="4.1" fill="#555" text-anchor="middle" transform="rotate(-90 171.90 250.75)">500</text>
<text class="s" x="171.90" y="236.21" font-size="4.1" fill="#555" text-anchor="middle" transform="rotate(-90 171.90 236.21)">750</text>
<text class="s" x="171.90" y="221.61" font-size="4.1" fill="#555" text-anchor="middle" transform="rotate(-90 171.90 221.61)">1,000</text>
<text class="s" x="167.30" y="247.15" font-size="5.2" fill="#777" text-anchor="middle" transform="rotate(-90 167.30 247.15)">Count</text>
<rect x="225.30" y="214.40" width="63.00" height="37.40" fill="#fff" stroke="#3c3c3c" stroke-width="1.05" />
<line x1="225.30" y1="227.10" x2="288.30" y2="227.10" stroke="#3c3c3c" stroke-width="1.0" />
<line x1="225.30" y1="239.10" x2="288.30" y2="239.10" stroke="#3c3c3c" stroke-width="1.0" />
<line x1="253.20" y1="214.40" x2="253.20" y2="251.80" stroke="#3c3c3c" stroke-width="1.0" />
<text class="t" x="239.45" y="224.35" font-size="10.0" fill="#111" text-anchor="middle" letter-spacing="0.4" stroke="#111" stroke-width="0.1">G1</text>
<text class="t" x="271.55" y="224.35" font-size="10.0" fill="#111" text-anchor="middle" letter-spacing="0.75" stroke="#111" stroke-width="0.1">84.5%</text>
<text class="t" x="239.45" y="236.70" font-size="10.0" fill="#111" text-anchor="middle" letter-spacing="0.4" stroke="#111" stroke-width="0.1">S</text>
<text class="t" x="271.55" y="236.70" font-size="10.0" fill="#111" text-anchor="middle" letter-spacing="0.75" stroke="#111" stroke-width="0.1">7.5%</text>
<text class="t" x="239.45" y="249.05" font-size="10.0" fill="#111" text-anchor="middle" letter-spacing="0.4" stroke="#111" stroke-width="0.1">G2</text>
<text class="t" x="271.55" y="249.05" font-size="10.0" fill="#111" text-anchor="middle" letter-spacing="0.75" stroke="#111" stroke-width="0.1">8.0%</text>
<text class="s" x="354.40" y="211.20" font-size="5.0" fill="#333" text-anchor="middle">Specimen_001-HT29 72-1</text>
<line x1="311.98" y1="212.50" x2="311.98" y2="279.30" stroke="#939393" stroke-width="0.7" />
<line x1="321.00" y1="212.50" x2="321.00" y2="279.30" stroke="#939393" stroke-width="0.7" />
<line x1="330.66" y1="212.50" x2="330.66" y2="279.30" stroke="#939393" stroke-width="0.7" />
<line x1="338.61" y1="212.50" x2="338.61" y2="279.30" stroke="#939393" stroke-width="0.7" />
<line x1="348.27" y1="212.50" x2="348.27" y2="279.30" stroke="#939393" stroke-width="0.7" />
<path d="M304.9,279.3 L304.9,274.2 L305.5,275.5 L305.8,275.8 L306.0,276.1 L306.2,276.3 L306.4,276.6 L306.8,276.9 L307.0,277.1 L308.5,277.8 L308.8,277.8 L309.4,277.9 L309.6,278.0 L310.1,278.0 L310.3,278.1 L311.6,278.1 L312.8,278.2 L320.4,278.2 L320.8,278.1 L321.2,277.8 L321.4,277.5 L321.6,277.0 L321.9,276.4 L322.1,275.4 L322.3,273.9 L322.5,272.0 L322.7,269.3 L322.9,265.9 L323.1,261.6 L323.4,256.4 L323.6,250.3 L323.8,243.4 L324.0,235.9 L324.2,228.0 L324.4,220.3 L324.7,213.1 L324.9,212.5 L326.6,212.5 L326.8,217.7 L327.4,235.6 L327.7,241.5 L327.9,247.0 L328.1,252.0 L328.3,256.6 L328.5,260.5 L328.7,263.9 L328.9,266.7 L329.2,269.0 L329.4,270.9 L329.6,272.4 L329.8,273.5 L330.0,274.4 L330.2,275.1 L330.4,275.6 L330.9,276.3 L331.3,276.6 L331.7,276.8 L332.0,276.8 L333.2,276.9 L337.3,276.9 L337.7,276.8 L338.6,276.8 L338.8,276.7 L339.5,276.6 L339.7,276.5 L339.9,276.5 L340.3,276.3 L340.5,276.3 L341.8,275.7 L342.0,275.5 L343.5,274.8 L343.8,274.7 L344.2,274.7 L344.6,274.6 L345.3,274.8 L345.7,275.0 L345.9,275.2 L346.1,275.3 L346.3,275.5 L346.6,275.7 L346.8,276.0 L347.0,276.2 L347.2,276.5 L347.8,277.1 L348.3,277.4 L348.5,277.6 L348.7,277.7 L348.9,277.9 L349.3,278.1 L350.0,278.4 L350.2,278.4 L350.6,278.6 L351.5,278.7 L351.7,278.8 L352.1,278.8 L352.3,278.9 L353.2,278.9 L353.4,279.0 L355.8,279.0 L356.0,279.1 L360.9,279.1 L361.1,279.2 L366.7,279.2 L366.9,279.3 L417.4,279.3 L417.4,279.3 Z" fill="#f8666c" stroke="#dc4450" stroke-width="0.35" />
<line x1="321.00" y1="269.28" x2="330.66" y2="269.28" stroke="#333" stroke-width="0.8" />
<line x1="330.66" y1="268.61" x2="338.61" y2="268.61" stroke="#555" stroke-width="0.7" />
<line x1="330.66" y1="268.61" x2="330.66" y2="270.61" stroke="#555" stroke-width="0.6" />
<line x1="338.61" y1="268.61" x2="338.61" y2="270.61" stroke="#555" stroke-width="0.6" />
<line x1="338.61" y1="277.30" x2="348.27" y2="277.30" stroke="#333" stroke-width="0.8" />
<text class="s" x="315.69" y="236.55" font-size="4.8" fill="#444" text-anchor="middle">Sub-G1</text>
<text class="s" x="327.30" y="225.86" font-size="4.6" fill="#444">G1</text>
<text class="s" x="333.64" y="248.57" font-size="4.6" fill="#444" text-anchor="middle">S</text>
<text class="s" x="346.04" y="239.22" font-size="4.8" fill="#444" text-anchor="middle" transform="rotate(-90 346.04 239.22)">G2</text>
<line x1="304.90" y1="212.50" x2="417.40" y2="212.50" stroke="#666" stroke-width="0.8" />
<line x1="417.40" y1="212.50" x2="417.40" y2="279.30" stroke="#777" stroke-width="0.7" />
<line x1="304.90" y1="212.50" x2="304.90" y2="279.30" stroke="#555" stroke-width="0.8" />
<line x1="304.90" y1="279.30" x2="417.40" y2="279.30" stroke="#5a4448" stroke-width="0.9" />
<line x1="309.19" y1="279.30" x2="309.19" y2="281.50" stroke="#666" stroke-width="0.6" />
<line x1="313.49" y1="279.30" x2="313.49" y2="281.50" stroke="#666" stroke-width="0.6" />
<line x1="317.78" y1="279.30" x2="317.78" y2="281.50" stroke="#666" stroke-width="0.6" />
<line x1="322.08" y1="279.30" x2="322.08" y2="281.50" stroke="#666" stroke-width="0.6" />
<line x1="326.37" y1="279.30" x2="326.37" y2="282.70" stroke="#666" stroke-width="0.6" />
<text class="s" x="326.37" y="287.90" font-size="4.6" fill="#555" text-anchor="middle">50</text>
<line x1="330.66" y1="279.30" x2="330.66" y2="281.50" stroke="#666" stroke-width="0.6" />
<line x1="334.96" y1="279.30" x2="334.96" y2="281.50" stroke="#666" stroke-width="0.6" />
<line x1="339.25" y1="279.30" x2="339.25" y2="281.50" stroke="#666" stroke-width="0.6" />
<line x1="343.55" y1="279.30" x2="343.55" y2="281.50" stroke="#666" stroke-width="0.6" />
<line x1="347.84" y1="279.30" x2="347.84" y2="282.70" stroke="#666" stroke-width="0.6" />
<text class="s" x="347.84" y="287.90" font-size="4.6" fill="#555" text-anchor="middle">100</text>
<line x1="352.13" y1="279.30" x2="352.13" y2="281.50" stroke="#666" stroke-width="0.6" />
<line x1="356.43" y1="279.30" x2="356.43" y2="281.50" stroke="#666" stroke-width="0.6" />
<line x1="360.72" y1="279.30" x2="360.72" y2="281.50" stroke="#666" stroke-width="0.6" />
<line x1="365.01" y1="279.30" x2="365.01" y2="281.50" stroke="#666" stroke-width="0.6" />
<line x1="369.31" y1="279.30" x2="369.31" y2="282.70" stroke="#666" stroke-width="0.6" />
<text class="s" x="369.31" y="287.90" font-size="4.6" fill="#555" text-anchor="middle">150</text>
<line x1="373.60" y1="279.30" x2="373.60" y2="281.50" stroke="#666" stroke-width="0.6" />
<line x1="377.90" y1="279.30" x2="377.90" y2="281.50" stroke="#666" stroke-width="0.6" />
<line x1="382.19" y1="279.30" x2="382.19" y2="281.50" stroke="#666" stroke-width="0.6" />
<line x1="386.48" y1="279.30" x2="386.48" y2="281.50" stroke="#666" stroke-width="0.6" />
<line x1="390.78" y1="279.30" x2="390.78" y2="282.70" stroke="#666" stroke-width="0.6" />
<text class="s" x="390.78" y="287.90" font-size="4.6" fill="#555" text-anchor="middle">200</text>
<line x1="395.07" y1="279.30" x2="395.07" y2="281.50" stroke="#666" stroke-width="0.6" />
<line x1="399.37" y1="279.30" x2="399.37" y2="281.50" stroke="#666" stroke-width="0.6" />
<line x1="403.66" y1="279.30" x2="403.66" y2="281.50" stroke="#666" stroke-width="0.6" />
<line x1="407.95" y1="279.30" x2="407.95" y2="281.50" stroke="#666" stroke-width="0.6" />
<line x1="412.25" y1="279.30" x2="412.25" y2="282.70" stroke="#666" stroke-width="0.6" />
<text class="s" x="412.25" y="287.90" font-size="4.6" fill="#555" text-anchor="middle">250</text>
<line x1="416.54" y1="279.30" x2="416.54" y2="281.50" stroke="#666" stroke-width="0.6" />
<text class="s" x="361.15" y="294.50" font-size="5.0" fill="#555" text-anchor="middle">PI-A</text>
<text class="s" x="417.90" y="292.90" font-size="4.4" fill="#555" text-anchor="end">(x 1,000)</text>
<line x1="302.30" y1="279.30" x2="304.90" y2="279.30" stroke="#666" stroke-width="0.5" />
<line x1="303.30" y1="276.40" x2="304.90" y2="276.40" stroke="#666" stroke-width="0.5" />
<line x1="303.30" y1="273.50" x2="304.90" y2="273.50" stroke="#666" stroke-width="0.5" />
<line x1="303.30" y1="270.60" x2="304.90" y2="270.60" stroke="#666" stroke-width="0.5" />
<line x1="303.30" y1="267.70" x2="304.90" y2="267.70" stroke="#666" stroke-width="0.5" />
<line x1="302.30" y1="264.80" x2="304.90" y2="264.80" stroke="#666" stroke-width="0.5" />
<line x1="303.30" y1="261.90" x2="304.90" y2="261.90" stroke="#666" stroke-width="0.5" />
<line x1="303.30" y1="259.00" x2="304.90" y2="259.00" stroke="#666" stroke-width="0.5" />
<line x1="303.30" y1="256.10" x2="304.90" y2="256.10" stroke="#666" stroke-width="0.5" />
<line x1="303.30" y1="253.20" x2="304.90" y2="253.20" stroke="#666" stroke-width="0.5" />
<line x1="302.30" y1="250.30" x2="304.90" y2="250.30" stroke="#666" stroke-width="0.5" />
<line x1="303.30" y1="247.40" x2="304.90" y2="247.40" stroke="#666" stroke-width="0.5" />
<line x1="303.30" y1="244.50" x2="304.90" y2="244.50" stroke="#666" stroke-width="0.5" />
<line x1="303.30" y1="241.60" x2="304.90" y2="241.60" stroke="#666" stroke-width="0.5" />
<line x1="303.30" y1="238.70" x2="304.90" y2="238.70" stroke="#666" stroke-width="0.5" />
<line x1="302.30" y1="235.80" x2="304.90" y2="235.80" stroke="#666" stroke-width="0.5" />
<line x1="303.30" y1="232.90" x2="304.90" y2="232.90" stroke="#666" stroke-width="0.5" />
<line x1="303.30" y1="230.00" x2="304.90" y2="230.00" stroke="#666" stroke-width="0.5" />
<line x1="303.30" y1="227.10" x2="304.90" y2="227.10" stroke="#666" stroke-width="0.5" />
<line x1="303.30" y1="224.20" x2="304.90" y2="224.20" stroke="#666" stroke-width="0.5" />
<line x1="302.30" y1="221.30" x2="304.90" y2="221.30" stroke="#666" stroke-width="0.5" />
<line x1="303.30" y1="218.40" x2="304.90" y2="218.40" stroke="#666" stroke-width="0.5" />
<line x1="303.30" y1="215.50" x2="304.90" y2="215.50" stroke="#666" stroke-width="0.5" />
<line x1="303.30" y1="212.60" x2="304.90" y2="212.60" stroke="#666" stroke-width="0.5" />
<text class="s" x="302.30" y="279.30" font-size="4.1" fill="#555" text-anchor="middle" transform="rotate(-90 302.30 279.30)">0</text>
<text class="s" x="302.30" y="264.47" font-size="4.1" fill="#555" text-anchor="middle" transform="rotate(-90 302.30 264.47)">250</text>
<text class="s" x="302.30" y="249.57" font-size="4.1" fill="#555" text-anchor="middle" transform="rotate(-90 302.30 249.57)">500</text>
<text class="s" x="302.30" y="234.74" font-size="4.1" fill="#555" text-anchor="middle" transform="rotate(-90 302.30 234.74)">750</text>
<text class="s" x="302.30" y="219.85" font-size="4.1" fill="#555" text-anchor="middle" transform="rotate(-90 302.30 219.85)">1,000</text>
<text class="s" x="297.70" y="245.90" font-size="5.2" fill="#777" text-anchor="middle" transform="rotate(-90 297.70 245.90)">Count</text>
<rect x="355.30" y="213.00" width="62.10" height="36.10" fill="#fff" stroke="#3c3c3c" stroke-width="1.05" />
<line x1="355.30" y1="225.40" x2="417.40" y2="225.40" stroke="#3c3c3c" stroke-width="1.0" />
<line x1="355.30" y1="237.50" x2="417.40" y2="237.50" stroke="#3c3c3c" stroke-width="1.0" />
<line x1="383.60" y1="213.00" x2="383.60" y2="249.10" stroke="#3c3c3c" stroke-width="1.0" />
<text class="t" x="369.65" y="222.80" font-size="10.0" fill="#111" text-anchor="middle" letter-spacing="0.4" stroke="#111" stroke-width="0.1">G1</text>
<text class="t" x="401.30" y="222.80" font-size="10.0" fill="#111" text-anchor="middle" letter-spacing="0.75" stroke="#111" stroke-width="0.1">84.6%</text>
<text class="t" x="369.65" y="235.05" font-size="10.0" fill="#111" text-anchor="middle" letter-spacing="0.4" stroke="#111" stroke-width="0.1">S</text>
<text class="t" x="401.30" y="235.05" font-size="10.0" fill="#111" text-anchor="middle" letter-spacing="0.75" stroke="#111" stroke-width="0.1">7.7%</text>
<text class="t" x="369.65" y="246.90" font-size="10.0" fill="#111" text-anchor="middle" letter-spacing="0.4" stroke="#111" stroke-width="0.1">G2</text>
<text class="t" x="401.30" y="246.90" font-size="10.0" fill="#111" text-anchor="middle" letter-spacing="0.75" stroke="#111" stroke-width="0.1">7.8%</text>
<text class="s" x="484.90" y="213.10" font-size="5.0" fill="#333" text-anchor="middle">Specimen_001-HT29 72-5</text>
<line x1="442.83" y1="214.40" x2="442.83" y2="279.90" stroke="#939393" stroke-width="0.7" />
<line x1="451.77" y1="214.40" x2="451.77" y2="279.90" stroke="#939393" stroke-width="0.7" />
<line x1="461.36" y1="214.40" x2="461.36" y2="279.90" stroke="#939393" stroke-width="0.7" />
<line x1="469.24" y1="214.40" x2="469.24" y2="279.90" stroke="#939393" stroke-width="0.7" />
<line x1="478.82" y1="214.40" x2="478.82" y2="279.90" stroke="#939393" stroke-width="0.7" />
<path d="M435.8,279.9 L435.8,257.2 L436.0,260.6 L436.2,263.4 L436.4,265.7 L436.7,267.8 L436.9,269.5 L437.1,270.9 L437.3,272.1 L437.5,273.2 L437.9,274.8 L438.1,275.4 L438.4,275.9 L438.8,276.8 L439.2,277.4 L439.6,277.8 L440.9,278.5 L441.1,278.5 L441.3,278.6 L441.8,278.6 L442.6,278.7 L442.8,278.8 L447.5,278.8 L447.9,278.9 L450.1,278.9 L451.3,278.8 L451.8,278.6 L452.2,278.1 L452.4,277.7 L452.6,277.0 L452.8,276.0 L453.1,274.6 L453.3,272.7 L453.5,270.1 L453.7,266.8 L453.9,262.6 L454.1,257.4 L454.3,251.4 L454.5,244.7 L454.8,237.3 L455.0,229.6 L455.2,222.1 L455.4,215.0 L455.6,214.4 L457.3,214.4 L457.5,219.5 L457.7,225.2 L457.9,231.2 L458.2,237.1 L458.4,242.9 L458.6,248.3 L458.8,253.3 L459.0,257.8 L459.2,261.8 L459.4,265.2 L459.7,268.1 L459.9,270.4 L460.1,272.4 L460.3,273.9 L460.5,275.1 L460.7,276.0 L460.9,276.7 L461.1,277.3 L461.4,277.7 L462.0,278.3 L462.4,278.4 L462.6,278.5 L469.7,278.5 L469.9,278.4 L470.5,278.4 L471.2,278.2 L471.6,278.1 L472.6,277.6 L473.5,277.2 L473.9,276.9 L474.6,276.7 L475.4,276.6 L476.1,276.8 L476.5,277.0 L477.1,277.5 L477.5,277.8 L477.8,277.9 L478.0,278.1 L478.4,278.3 L478.8,278.6 L479.2,278.8 L479.7,278.9 L480.1,279.1 L480.7,279.2 L481.0,279.3 L481.4,279.3 L482.2,279.4 L482.4,279.5 L483.5,279.5 L483.7,279.6 L486.1,279.6 L487.3,279.7 L491.4,279.7 L491.6,279.8 L497.1,279.8 L498.8,279.9 L547.4,279.9 L547.4,279.9 Z" fill="#f8666c" stroke="#dc4450" stroke-width="0.35" />
<line x1="451.77" y1="271.38" x2="461.36" y2="271.38" stroke="#333" stroke-width="0.8" />
<line x1="461.36" y1="270.07" x2="469.24" y2="270.07" stroke="#555" stroke-width="0.7" />
<line x1="461.36" y1="270.07" x2="461.36" y2="272.07" stroke="#555" stroke-width="0.6" />
<line x1="469.24" y1="270.07" x2="469.24" y2="272.07" stroke="#555" stroke-width="0.6" />
<line x1="469.24" y1="277.94" x2="478.82" y2="277.94" stroke="#333" stroke-width="0.8" />
<text class="s" x="446.50" y="237.98" font-size="4.8" fill="#444" text-anchor="middle">Sub-G1</text>
<text class="s" x="458.07" y="227.50" font-size="4.6" fill="#444">G1</text>
<text class="s" x="464.30" y="249.77" font-size="4.6" fill="#444" text-anchor="middle">S</text>
<text class="s" x="476.63" y="240.60" font-size="4.8" fill="#444" text-anchor="middle" transform="rotate(-90 476.63 240.60)">G2</text>
<line x1="435.80" y1="214.40" x2="547.40" y2="214.40" stroke="#666" stroke-width="0.8" />
<line x1="547.40" y1="214.40" x2="547.40" y2="279.90" stroke="#777" stroke-width="0.7" />
<line x1="435.80" y1="214.40" x2="435.80" y2="279.90" stroke="#555" stroke-width="0.8" />
<line x1="435.80" y1="279.90" x2="547.40" y2="279.90" stroke="#5a4448" stroke-width="0.9" />
<line x1="440.06" y1="279.90" x2="440.06" y2="282.10" stroke="#666" stroke-width="0.6" />
<line x1="444.32" y1="279.90" x2="444.32" y2="282.10" stroke="#666" stroke-width="0.6" />
<line x1="448.58" y1="279.90" x2="448.58" y2="282.10" stroke="#666" stroke-width="0.6" />
<line x1="452.84" y1="279.90" x2="452.84" y2="282.10" stroke="#666" stroke-width="0.6" />
<line x1="457.10" y1="279.90" x2="457.10" y2="283.30" stroke="#666" stroke-width="0.6" />
<text class="s" x="457.10" y="288.50" font-size="4.6" fill="#555" text-anchor="middle">50</text>
<line x1="461.36" y1="279.90" x2="461.36" y2="282.10" stroke="#666" stroke-width="0.6" />
<line x1="465.62" y1="279.90" x2="465.62" y2="282.10" stroke="#666" stroke-width="0.6" />
<line x1="469.88" y1="279.90" x2="469.88" y2="282.10" stroke="#666" stroke-width="0.6" />
<line x1="474.14" y1="279.90" x2="474.14" y2="282.10" stroke="#666" stroke-width="0.6" />
<line x1="478.40" y1="279.90" x2="478.40" y2="283.30" stroke="#666" stroke-width="0.6" />
<text class="s" x="478.40" y="288.50" font-size="4.6" fill="#555" text-anchor="middle">100</text>
<line x1="482.65" y1="279.90" x2="482.65" y2="282.10" stroke="#666" stroke-width="0.6" />
<line x1="486.91" y1="279.90" x2="486.91" y2="282.10" stroke="#666" stroke-width="0.6" />
<line x1="491.17" y1="279.90" x2="491.17" y2="282.10" stroke="#666" stroke-width="0.6" />
<line x1="495.43" y1="279.90" x2="495.43" y2="282.10" stroke="#666" stroke-width="0.6" />
<line x1="499.69" y1="279.90" x2="499.69" y2="283.30" stroke="#666" stroke-width="0.6" />
<text class="s" x="499.69" y="288.50" font-size="4.6" fill="#555" text-anchor="middle">150</text>
<line x1="503.95" y1="279.90" x2="503.95" y2="282.10" stroke="#666" stroke-width="0.6" />
<line x1="508.21" y1="279.90" x2="508.21" y2="282.10" stroke="#666" stroke-width="0.6" />
<line x1="512.47" y1="279.90" x2="512.47" y2="282.10" stroke="#666" stroke-width="0.6" />
<line x1="516.73" y1="279.90" x2="516.73" y2="282.10" stroke="#666" stroke-width="0.6" />
<line x1="520.99" y1="279.90" x2="520.99" y2="283.30" stroke="#666" stroke-width="0.6" />
<text class="s" x="520.99" y="288.50" font-size="4.6" fill="#555" text-anchor="middle">200</text>
<line x1="525.25" y1="279.90" x2="525.25" y2="282.10" stroke="#666" stroke-width="0.6" />
<line x1="529.51" y1="279.90" x2="529.51" y2="282.10" stroke="#666" stroke-width="0.6" />
<line x1="533.77" y1="279.90" x2="533.77" y2="282.10" stroke="#666" stroke-width="0.6" />
<line x1="538.03" y1="279.90" x2="538.03" y2="282.10" stroke="#666" stroke-width="0.6" />
<line x1="542.29" y1="279.90" x2="542.29" y2="283.30" stroke="#666" stroke-width="0.6" />
<text class="s" x="542.29" y="288.50" font-size="4.6" fill="#555" text-anchor="middle">250</text>
<line x1="546.55" y1="279.90" x2="546.55" y2="282.10" stroke="#666" stroke-width="0.6" />
<text class="s" x="491.60" y="295.10" font-size="5.0" fill="#555" text-anchor="middle">PI-A</text>
<text class="s" x="547.90" y="293.50" font-size="4.4" fill="#555" text-anchor="end">(x 1,000)</text>
<line x1="433.20" y1="279.90" x2="435.80" y2="279.90" stroke="#666" stroke-width="0.5" />
<line x1="434.20" y1="277.00" x2="435.80" y2="277.00" stroke="#666" stroke-width="0.5" />
<line x1="434.20" y1="274.10" x2="435.80" y2="274.10" stroke="#666" stroke-width="0.5" />
<line x1="434.20" y1="271.20" x2="435.80" y2="271.20" stroke="#666" stroke-width="0.5" />
<line x1="434.20" y1="268.30" x2="435.80" y2="268.30" stroke="#666" stroke-width="0.5" />
<line x1="433.20" y1="265.40" x2="435.80" y2="265.40" stroke="#666" stroke-width="0.5" />
<line x1="434.20" y1="262.50" x2="435.80" y2="262.50" stroke="#666" stroke-width="0.5" />
<line x1="434.20" y1="259.60" x2="435.80" y2="259.60" stroke="#666" stroke-width="0.5" />
<line x1="434.20" y1="256.70" x2="435.80" y2="256.70" stroke="#666" stroke-width="0.5" />
<line x1="434.20" y1="253.80" x2="435.80" y2="253.80" stroke="#666" stroke-width="0.5" />
<line x1="433.20" y1="250.90" x2="435.80" y2="250.90" stroke="#666" stroke-width="0.5" />
<line x1="434.20" y1="248.00" x2="435.80" y2="248.00" stroke="#666" stroke-width="0.5" />
<line x1="434.20" y1="245.10" x2="435.80" y2="245.10" stroke="#666" stroke-width="0.5" />
<line x1="434.20" y1="242.20" x2="435.80" y2="242.20" stroke="#666" stroke-width="0.5" />
<line x1="434.20" y1="239.30" x2="435.80" y2="239.30" stroke="#666" stroke-width="0.5" />
<line x1="433.20" y1="236.40" x2="435.80" y2="236.40" stroke="#666" stroke-width="0.5" />
<line x1="434.20" y1="233.50" x2="435.80" y2="233.50" stroke="#666" stroke-width="0.5" />
<line x1="434.20" y1="230.60" x2="435.80" y2="230.60" stroke="#666" stroke-width="0.5" />
<line x1="434.20" y1="227.70" x2="435.80" y2="227.70" stroke="#666" stroke-width="0.5" />
<line x1="434.20" y1="224.80" x2="435.80" y2="224.80" stroke="#666" stroke-width="0.5" />
<line x1="433.20" y1="221.90" x2="435.80" y2="221.90" stroke="#666" stroke-width="0.5" />
<line x1="434.20" y1="219.00" x2="435.80" y2="219.00" stroke="#666" stroke-width="0.5" />
<line x1="434.20" y1="216.10" x2="435.80" y2="216.10" stroke="#666" stroke-width="0.5" />
<text class="s" x="433.20" y="279.90" font-size="4.1" fill="#555" text-anchor="middle" transform="rotate(-90 433.20 279.90)">0</text>
<text class="s" x="433.20" y="268.24" font-size="4.1" fill="#555" text-anchor="middle" transform="rotate(-90 433.20 268.24)">250</text>
<text class="s" x="433.20" y="256.58" font-size="4.1" fill="#555" text-anchor="middle" transform="rotate(-90 433.20 256.58)">500</text>
<text class="s" x="433.20" y="244.92" font-size="4.1" fill="#555" text-anchor="middle" transform="rotate(-90 433.20 244.92)">750</text>
<text class="s" x="433.20" y="233.26" font-size="4.1" fill="#555" text-anchor="middle" transform="rotate(-90 433.20 233.26)">1,000</text>
<text class="s" x="433.20" y="221.61" font-size="4.1" fill="#555" text-anchor="middle" transform="rotate(-90 433.20 221.61)">1,250</text>
<text class="s" x="428.60" y="247.15" font-size="5.2" fill="#777" text-anchor="middle" transform="rotate(-90 428.60 247.15)">Count</text>
<rect x="485.30" y="214.80" width="63.00" height="37.50" fill="#fff" stroke="#3c3c3c" stroke-width="1.05" />
<line x1="485.30" y1="227.30" x2="548.30" y2="227.30" stroke="#3c3c3c" stroke-width="1.0" />
<line x1="485.30" y1="239.60" x2="548.30" y2="239.60" stroke="#3c3c3c" stroke-width="1.0" />
<line x1="513.60" y1="214.80" x2="513.60" y2="252.30" stroke="#3c3c3c" stroke-width="1.0" />
<text class="t" x="499.65" y="224.65" font-size="10.0" fill="#111" text-anchor="middle" letter-spacing="0.4" stroke="#111" stroke-width="0.1">G1</text>
<text class="t" x="531.75" y="224.65" font-size="10.0" fill="#111" text-anchor="middle" letter-spacing="0.75" stroke="#111" stroke-width="0.1">93.7%</text>
<text class="t" x="499.65" y="237.05" font-size="10.0" fill="#111" text-anchor="middle" letter-spacing="0.4" stroke="#111" stroke-width="0.1">S</text>
<text class="t" x="531.75" y="237.05" font-size="10.0" fill="#111" text-anchor="middle" letter-spacing="0.75" stroke="#111" stroke-width="0.1">2.9%</text>
<text class="t" x="499.65" y="249.55" font-size="10.0" fill="#111" text-anchor="middle" letter-spacing="0.4" stroke="#111" stroke-width="0.1">G2</text>
<text class="t" x="531.75" y="249.55" font-size="10.0" fill="#111" text-anchor="middle" letter-spacing="0.75" stroke="#111" stroke-width="0.1">3.5%</text>
<text class="s" x="616.58" y="213.10" font-size="5.0" fill="#333" text-anchor="middle">Specimen_001-HT29 72-10</text>
<line x1="574.35" y1="214.40" x2="574.35" y2="279.90" stroke="#939393" stroke-width="0.7" />
<line x1="583.33" y1="214.40" x2="583.33" y2="279.90" stroke="#939393" stroke-width="0.7" />
<line x1="592.95" y1="214.40" x2="592.95" y2="279.90" stroke="#939393" stroke-width="0.7" />
<line x1="600.86" y1="214.40" x2="600.86" y2="279.90" stroke="#939393" stroke-width="0.7" />
<line x1="610.48" y1="214.40" x2="610.48" y2="279.90" stroke="#939393" stroke-width="0.7" />
<path d="M567.3,279.9 L567.3,214.4 L568.2,214.4 L568.4,223.3 L568.6,231.9 L568.8,239.1 L569.0,245.2 L569.2,250.4 L569.4,254.7 L569.7,258.4 L569.9,261.6 L570.1,264.2 L570.3,266.5 L570.5,268.4 L570.7,270.0 L570.9,271.3 L571.1,272.5 L571.4,273.5 L571.8,275.0 L572.0,275.6 L572.4,276.5 L572.6,276.9 L573.1,277.4 L573.3,277.7 L573.9,278.1 L574.8,278.5 L575.0,278.5 L575.6,278.7 L576.3,278.7 L576.5,278.8 L583.1,278.8 L583.3,278.7 L583.8,278.6 L584.2,278.1 L584.6,277.2 L584.8,276.4 L585.0,275.3 L585.3,273.9 L585.5,272.1 L585.7,269.8 L585.9,267.0 L586.1,263.6 L586.3,259.7 L586.5,255.4 L586.8,250.7 L587.2,240.7 L587.4,235.9 L587.6,231.5 L587.8,227.7 L588.0,224.9 L588.2,223.1 L588.5,222.5 L588.7,223.0 L588.9,224.4 L589.1,226.7 L589.3,229.8 L589.5,233.5 L589.7,237.6 L590.0,242.0 L590.4,250.9 L590.6,255.1 L590.8,259.1 L591.0,262.6 L591.2,265.7 L591.5,268.4 L591.7,270.7 L591.9,272.5 L592.1,274.0 L592.3,275.2 L592.5,276.1 L592.7,276.8 L592.9,277.3 L593.4,278.0 L593.6,278.1 L593.8,278.3 L594.2,278.4 L594.4,278.5 L603.8,278.5 L604.3,278.4 L604.7,278.3 L605.3,278.0 L605.8,277.8 L606.2,277.5 L606.4,277.3 L606.6,277.2 L606.8,277.0 L607.3,276.7 L607.7,276.4 L608.3,276.3 L608.6,276.3 L609.0,276.5 L609.6,277.0 L610.0,277.4 L610.7,278.0 L611.1,278.4 L611.5,278.6 L612.6,279.1 L613.0,279.1 L613.5,279.2 L613.9,279.3 L614.3,279.3 L614.5,279.4 L615.2,279.4 L615.4,279.5 L616.5,279.5 L616.9,279.6 L619.2,279.6 L620.9,279.7 L624.4,279.7 L624.8,279.8 L630.4,279.8 L631.8,279.9 L679.3,279.9 L679.3,279.9 Z" fill="#f8666c" stroke="#dc4450" stroke-width="0.35" />
<line x1="583.33" y1="272.69" x2="592.95" y2="272.69" stroke="#333" stroke-width="0.8" />
<line x1="592.95" y1="270.73" x2="600.86" y2="270.73" stroke="#555" stroke-width="0.7" />
<line x1="592.95" y1="270.73" x2="592.95" y2="272.73" stroke="#555" stroke-width="0.6" />
<line x1="600.86" y1="270.73" x2="600.86" y2="272.73" stroke="#555" stroke-width="0.6" />
<line x1="600.86" y1="277.94" x2="610.48" y2="277.94" stroke="#333" stroke-width="0.8" />
<text class="s" x="578.04" y="237.98" font-size="4.8" fill="#444" text-anchor="middle">Sub-G1</text>
<text class="s" x="589.63" y="227.50" font-size="4.6" fill="#444">G1</text>
<text class="s" x="595.90" y="249.77" font-size="4.6" fill="#444" text-anchor="middle">S</text>
<text class="s" x="608.27" y="240.60" font-size="4.8" fill="#444" text-anchor="middle" transform="rotate(-90 608.27 240.60)">G2</text>
<line x1="567.30" y1="214.40" x2="679.30" y2="214.40" stroke="#666" stroke-width="0.8" />
<line x1="679.30" y1="214.40" x2="679.30" y2="279.90" stroke="#777" stroke-width="0.7" />
<line x1="567.30" y1="214.40" x2="567.30" y2="279.90" stroke="#555" stroke-width="0.8" />
<line x1="567.30" y1="279.90" x2="679.30" y2="279.90" stroke="#5a4448" stroke-width="0.9" />
<line x1="571.57" y1="279.90" x2="571.57" y2="282.10" stroke="#666" stroke-width="0.6" />
<line x1="575.85" y1="279.90" x2="575.85" y2="282.10" stroke="#666" stroke-width="0.6" />
<line x1="580.12" y1="279.90" x2="580.12" y2="282.10" stroke="#666" stroke-width="0.6" />
<line x1="584.40" y1="279.90" x2="584.40" y2="282.10" stroke="#666" stroke-width="0.6" />
<line x1="588.67" y1="279.90" x2="588.67" y2="283.30" stroke="#666" stroke-width="0.6" />
<text class="s" x="588.67" y="288.50" font-size="4.6" fill="#555" text-anchor="middle">50</text>
<line x1="592.95" y1="279.90" x2="592.95" y2="282.10" stroke="#666" stroke-width="0.6" />
<line x1="597.22" y1="279.90" x2="597.22" y2="282.10" stroke="#666" stroke-width="0.6" />
<line x1="601.50" y1="279.90" x2="601.50" y2="282.10" stroke="#666" stroke-width="0.6" />
<line x1="605.77" y1="279.90" x2="605.77" y2="282.10" stroke="#666" stroke-width="0.6" />
<line x1="610.05" y1="279.90" x2="610.05" y2="283.30" stroke="#666" stroke-width="0.6" />
<text class="s" x="610.05" y="288.50" font-size="4.6" fill="#555" text-anchor="middle">100</text>
<line x1="614.32" y1="279.90" x2="614.32" y2="282.10" stroke="#666" stroke-width="0.6" />
<line x1="618.60" y1="279.90" x2="618.60" y2="282.10" stroke="#666" stroke-width="0.6" />
<line x1="622.87" y1="279.90" x2="622.87" y2="282.10" stroke="#666" stroke-width="0.6" />
<line x1="627.15" y1="279.90" x2="627.15" y2="282.10" stroke="#666" stroke-width="0.6" />
<line x1="631.42" y1="279.90" x2="631.42" y2="283.30" stroke="#666" stroke-width="0.6" />
<text class="s" x="631.42" y="288.50" font-size="4.6" fill="#555" text-anchor="middle">150</text>
<line x1="635.70" y1="279.90" x2="635.70" y2="282.10" stroke="#666" stroke-width="0.6" />
<line x1="639.97" y1="279.90" x2="639.97" y2="282.10" stroke="#666" stroke-width="0.6" />
<line x1="644.25" y1="279.90" x2="644.25" y2="282.10" stroke="#666" stroke-width="0.6" />
<line x1="648.52" y1="279.90" x2="648.52" y2="282.10" stroke="#666" stroke-width="0.6" />
<line x1="652.80" y1="279.90" x2="652.80" y2="283.30" stroke="#666" stroke-width="0.6" />
<text class="s" x="652.80" y="288.50" font-size="4.6" fill="#555" text-anchor="middle">200</text>
<line x1="657.07" y1="279.90" x2="657.07" y2="282.10" stroke="#666" stroke-width="0.6" />
<line x1="661.35" y1="279.90" x2="661.35" y2="282.10" stroke="#666" stroke-width="0.6" />
<line x1="665.62" y1="279.90" x2="665.62" y2="282.10" stroke="#666" stroke-width="0.6" />
<line x1="669.90" y1="279.90" x2="669.90" y2="282.10" stroke="#666" stroke-width="0.6" />
<line x1="674.17" y1="279.90" x2="674.17" y2="283.30" stroke="#666" stroke-width="0.6" />
<text class="s" x="674.17" y="288.50" font-size="4.6" fill="#555" text-anchor="middle">250</text>
<line x1="678.45" y1="279.90" x2="678.45" y2="282.10" stroke="#666" stroke-width="0.6" />
<text class="s" x="623.30" y="295.10" font-size="5.0" fill="#555" text-anchor="middle">PI-A</text>
<text class="s" x="679.80" y="293.50" font-size="4.4" fill="#555" text-anchor="end">(x 1,000)</text>
<line x1="564.70" y1="279.90" x2="567.30" y2="279.90" stroke="#666" stroke-width="0.5" />
<line x1="565.70" y1="277.00" x2="567.30" y2="277.00" stroke="#666" stroke-width="0.5" />
<line x1="565.70" y1="274.10" x2="567.30" y2="274.10" stroke="#666" stroke-width="0.5" />
<line x1="565.70" y1="271.20" x2="567.30" y2="271.20" stroke="#666" stroke-width="0.5" />
<line x1="565.70" y1="268.30" x2="567.30" y2="268.30" stroke="#666" stroke-width="0.5" />
<line x1="564.70" y1="265.40" x2="567.30" y2="265.40" stroke="#666" stroke-width="0.5" />
<line x1="565.70" y1="262.50" x2="567.30" y2="262.50" stroke="#666" stroke-width="0.5" />
<line x1="565.70" y1="259.60" x2="567.30" y2="259.60" stroke="#666" stroke-width="0.5" />
<line x1="565.70" y1="256.70" x2="567.30" y2="256.70" stroke="#666" stroke-width="0.5" />
<line x1="565.70" y1="253.80" x2="567.30" y2="253.80" stroke="#666" stroke-width="0.5" />
<line x1="564.70" y1="250.90" x2="567.30" y2="250.90" stroke="#666" stroke-width="0.5" />
<line x1="565.70" y1="248.00" x2="567.30" y2="248.00" stroke="#666" stroke-width="0.5" />
<line x1="565.70" y1="245.10" x2="567.30" y2="245.10" stroke="#666" stroke-width="0.5" />
<line x1="565.70" y1="242.20" x2="567.30" y2="242.20" stroke="#666" stroke-width="0.5" />
<line x1="565.70" y1="239.30" x2="567.30" y2="239.30" stroke="#666" stroke-width="0.5" />
<line x1="564.70" y1="236.40" x2="567.30" y2="236.40" stroke="#666" stroke-width="0.5" />
<line x1="565.70" y1="233.50" x2="567.30" y2="233.50" stroke="#666" stroke-width="0.5" />
<line x1="565.70" y1="230.60" x2="567.30" y2="230.60" stroke="#666" stroke-width="0.5" />
<line x1="565.70" y1="227.70" x2="567.30" y2="227.70" stroke="#666" stroke-width="0.5" />
<line x1="565.70" y1="224.80" x2="567.30" y2="224.80" stroke="#666" stroke-width="0.5" />
<line x1="564.70" y1="221.90" x2="567.30" y2="221.90" stroke="#666" stroke-width="0.5" />
<line x1="565.70" y1="219.00" x2="567.30" y2="219.00" stroke="#666" stroke-width="0.5" />
<line x1="565.70" y1="216.10" x2="567.30" y2="216.10" stroke="#666" stroke-width="0.5" />
<text class="s" x="564.70" y="279.90" font-size="4.1" fill="#555" text-anchor="middle" transform="rotate(-90 564.70 279.90)">0</text>
<text class="s" x="564.70" y="272.24" font-size="4.1" fill="#555" text-anchor="middle" transform="rotate(-90 564.70 272.24)">100</text>
<text class="s" x="564.70" y="265.29" font-size="4.1" fill="#555" text-anchor="middle" transform="rotate(-90 564.70 265.29)">200</text>
<text class="s" x="564.70" y="258.35" font-size="4.1" fill="#555" text-anchor="middle" transform="rotate(-90 564.70 258.35)">300</text>
<text class="s" x="564.70" y="251.41" font-size="4.1" fill="#555" text-anchor="middle" transform="rotate(-90 564.70 251.41)">400</text>
<text class="s" x="564.70" y="244.46" font-size="4.1" fill="#555" text-anchor="middle" transform="rotate(-90 564.70 244.46)">500</text>
<text class="s" x="564.70" y="237.52" font-size="4.1" fill="#555" text-anchor="middle" transform="rotate(-90 564.70 237.52)">600</text>
<text class="s" x="564.70" y="230.58" font-size="4.1" fill="#555" text-anchor="middle" transform="rotate(-90 564.70 230.58)">700</text>
<text class="s" x="564.70" y="223.64" font-size="4.1" fill="#555" text-anchor="middle" transform="rotate(-90 564.70 223.64)">800</text>
<text class="s" x="564.70" y="216.69" font-size="4.1" fill="#555" text-anchor="middle" transform="rotate(-90 564.70 216.69)">900</text>
<text class="s" x="560.10" y="247.15" font-size="5.2" fill="#777" text-anchor="middle" transform="rotate(-90 560.10 247.15)">Count</text>
<rect x="617.20" y="214.80" width="63.00" height="36.60" fill="#fff" stroke="#3c3c3c" stroke-width="1.05" />
<line x1="617.20" y1="227.10" x2="680.20" y2="227.10" stroke="#3c3c3c" stroke-width="1.0" />
<line x1="617.20" y1="239.40" x2="680.20" y2="239.40" stroke="#3c3c3c" stroke-width="1.0" />
<line x1="645.70" y1="214.80" x2="645.70" y2="251.40" stroke="#3c3c3c" stroke-width="1.0" />
<text class="t" x="631.65" y="224.55" font-size="10.0" fill="#111" text-anchor="middle" letter-spacing="0.4" stroke="#111" stroke-width="0.1">G1</text>
<text class="t" x="663.75" y="224.55" font-size="10.0" fill="#111" text-anchor="middle" letter-spacing="0.75" stroke="#111" stroke-width="0.1">88.9%</text>
<text class="t" x="631.65" y="236.85" font-size="10.0" fill="#111" text-anchor="middle" letter-spacing="0.4" stroke="#111" stroke-width="0.1">S</text>
<text class="t" x="663.75" y="236.85" font-size="10.0" fill="#111" text-anchor="middle" letter-spacing="0.75" stroke="#111" stroke-width="0.1">4.9%</text>
<text class="t" x="631.65" y="249.00" font-size="10.0" fill="#111" text-anchor="middle" letter-spacing="0.4" stroke="#111" stroke-width="0.1">G2</text>
<text class="t" x="663.75" y="249.00" font-size="10.0" fill="#111" text-anchor="middle" letter-spacing="0.75" stroke="#111" stroke-width="0.1">6.2%</text>
<text class="s" x="130.05" y="327.30" font-size="8.2" fill="#111" font-weight="bold" text-anchor="middle" letter-spacing="0.9" stroke="#111" stroke-width="0.14">24 h</text>
<rect x="67.82" y="447.87" width="2.90" height="0.63" fill="#000000" stroke="#111" stroke-width="0.35" />
<rect x="72.07" y="447.90" width="2.90" height="0.60" fill="#e01010" stroke="#111" stroke-width="0.35" />
<rect x="76.32" y="447.87" width="2.90" height="0.63" fill="#22dd22" stroke="#111" stroke-width="0.35" />
<line x1="82.02" y1="447.03" x2="82.02" y2="446.41" stroke="#555" stroke-width="0.6" />
<line x1="80.77" y1="446.41" x2="83.27" y2="446.41" stroke="#555" stroke-width="0.6" />
<rect x="80.57" y="447.03" width="2.90" height="1.47" fill="#f2f020" stroke="#111" stroke-width="0.35" />
<line x1="86.27" y1="444.31" x2="86.27" y2="443.68" stroke="#555" stroke-width="0.6" />
<line x1="85.02" y1="443.68" x2="87.52" y2="443.68" stroke="#555" stroke-width="0.6" />
<rect x="84.82" y="444.31" width="2.90" height="4.19" fill="#1010cc" stroke="#111" stroke-width="0.35" />
<line x1="77.52" y1="448.50" x2="77.52" y2="450.70" stroke="#111" stroke-width="0.8" />
<rect x="102.84" y="379.40" width="2.90" height="69.10" fill="#000000" stroke="#111" stroke-width="0.35" />
<line x1="108.54" y1="385.16" x2="108.54" y2="382.33" stroke="#555" stroke-width="0.6" />
<line x1="107.29" y1="382.33" x2="109.79" y2="382.33" stroke="#555" stroke-width="0.6" />
<rect x="107.09" y="385.16" width="2.90" height="63.34" fill="#e01010" stroke="#111" stroke-width="0.35" />
<line x1="112.79" y1="380.97" x2="112.79" y2="380.44" stroke="#555" stroke-width="0.6" />
<line x1="111.54" y1="380.44" x2="114.04" y2="380.44" stroke="#555" stroke-width="0.6" />
<rect x="111.34" y="380.97" width="2.90" height="67.53" fill="#22dd22" stroke="#111" stroke-width="0.35" />
<line x1="117.04" y1="365.26" x2="117.04" y2="364.74" stroke="#555" stroke-width="0.6" />
<line x1="115.79" y1="364.74" x2="118.29" y2="364.74" stroke="#555" stroke-width="0.6" />
<rect x="115.59" y="365.26" width="2.90" height="83.24" fill="#f2f020" stroke="#111" stroke-width="0.35" />
<line x1="121.29" y1="374.37" x2="121.29" y2="371.55" stroke="#555" stroke-width="0.6" />
<line x1="120.04" y1="371.55" x2="122.54" y2="371.55" stroke="#555" stroke-width="0.6" />
<rect x="119.84" y="374.37" width="2.90" height="74.13" fill="#1010cc" stroke="#111" stroke-width="0.35" />
<line x1="112.54" y1="448.50" x2="112.54" y2="450.70" stroke="#111" stroke-width="0.8" />
<line x1="139.31" y1="430.91" x2="139.31" y2="428.08" stroke="#555" stroke-width="0.6" />
<line x1="138.06" y1="428.08" x2="140.56" y2="428.08" stroke="#555" stroke-width="0.6" />
<rect x="137.86" y="430.91" width="2.90" height="17.59" fill="#000000" stroke="#111" stroke-width="0.35" />
<line x1="143.56" y1="427.14" x2="143.56" y2="423.27" stroke="#555" stroke-width="0.6" />
<line x1="142.31" y1="423.27" x2="144.81" y2="423.27" stroke="#555" stroke-width="0.6" />
<rect x="142.11" y="427.14" width="2.90" height="21.36" fill="#e01010" stroke="#111" stroke-width="0.35" />
<line x1="147.81" y1="429.86" x2="147.81" y2="425.99" stroke="#555" stroke-width="0.6" />
<line x1="146.56" y1="425.99" x2="149.06" y2="425.99" stroke="#555" stroke-width="0.6" />
<rect x="146.36" y="429.86" width="2.90" height="18.64" fill="#22dd22" stroke="#111" stroke-width="0.35" />
<line x1="152.06" y1="436.98" x2="152.06" y2="431.96" stroke="#555" stroke-width="0.6" />
<line x1="150.81" y1="431.96" x2="153.31" y2="431.96" stroke="#555" stroke-width="0.6" />
<rect x="150.61" y="436.98" width="2.90" height="11.52" fill="#f2f020" stroke="#111" stroke-width="0.35" />
<line x1="156.31" y1="433.95" x2="156.31" y2="429.13" stroke="#555" stroke-width="0.6" />
<line x1="155.06" y1="429.13" x2="157.56" y2="429.13" stroke="#555" stroke-width="0.6" />
<rect x="154.86" y="433.95" width="2.90" height="14.55" fill="#1010cc" stroke="#111" stroke-width="0.35" />
<line x1="147.56" y1="448.50" x2="147.56" y2="450.70" stroke="#111" stroke-width="0.8" />
<line x1="174.33" y1="432.90" x2="174.33" y2="430.28" stroke="#555" stroke-width="0.6" />
<line x1="173.08" y1="430.28" x2="175.58" y2="430.28" stroke="#555" stroke-width="0.6" />
<rect x="172.88" y="432.90" width="2.90" height="15.60" fill="#000000" stroke="#111" stroke-width="0.35" />
<line x1="178.58" y1="431.64" x2="178.58" y2="430.28" stroke="#555" stroke-width="0.6" />
<line x1="177.33" y1="430.28" x2="179.83" y2="430.28" stroke="#555" stroke-width="0.6" />
<rect x="177.13" y="431.64" width="2.90" height="16.86" fill="#e01010" stroke="#111" stroke-width="0.35" />
<line x1="182.83" y1="433.21" x2="182.83" y2="430.28" stroke="#555" stroke-width="0.6" />
<line x1="181.58" y1="430.28" x2="184.08" y2="430.28" stroke="#555" stroke-width="0.6" />
<rect x="181.38" y="433.21" width="2.90" height="15.29" fill="#22dd22" stroke="#111" stroke-width="0.35" />
<line x1="187.08" y1="441.80" x2="187.08" y2="436.35" stroke="#555" stroke-width="0.6" />
<line x1="185.83" y1="436.35" x2="188.33" y2="436.35" stroke="#555" stroke-width="0.6" />
<rect x="185.63" y="441.80" width="2.90" height="6.70" fill="#f2f020" stroke="#111" stroke-width="0.35" />
<line x1="191.33" y1="440.02" x2="191.33" y2="437.30" stroke="#555" stroke-width="0.6" />
<line x1="190.08" y1="437.30" x2="192.58" y2="437.30" stroke="#555" stroke-width="0.6" />
<rect x="189.88" y="440.02" width="2.90" height="8.48" fill="#1010cc" stroke="#111" stroke-width="0.35" />
<line x1="182.58" y1="448.50" x2="182.58" y2="450.70" stroke="#111" stroke-width="0.8" />
<path d="M68.50,447.00 L68.50,434.50 L85.90,434.50 L85.90,440.50" fill="none" stroke="#666" stroke-width="0.7" />
<text class="s" x="77.20" y="436.18" font-size="6.0" fill="#333" font-weight="bold" text-anchor="middle" letter-spacing="-0.3" stroke="#333" stroke-width="0.05">**</text>
<path d="M68.50,447.00 L68.50,442.20 L82.70,442.20 L82.70,444.80" fill="none" stroke="#666" stroke-width="0.7" />
<text class="s" x="75.60" y="443.88" font-size="6.0" fill="#333" font-weight="bold" text-anchor="middle" letter-spacing="-0.3" stroke="#333" stroke-width="0.05">***</text>
<path d="M103.60,356.20 L103.60,352.80 L121.80,352.80 L121.80,369.40" fill="none" stroke="#666" stroke-width="0.7" />
<text class="s" x="112.70" y="354.48" font-size="6.0" fill="#333" font-weight="bold" text-anchor="middle" letter-spacing="-0.3" stroke="#333" stroke-width="0.05">*</text>
<path d="M103.90,374.50 L103.90,360.50 L116.60,360.50 L116.60,362.80" fill="none" stroke="#666" stroke-width="0.7" />
<text class="s" x="110.25" y="362.18" font-size="6.0" fill="#333" font-weight="bold" text-anchor="middle" letter-spacing="-0.3" stroke="#333" stroke-width="0.05">***</text>
<rect x="42.50" y="343.80" width="175.10" height="104.70" fill="none" stroke="#111" stroke-width="1.4" />
<line x1="38.90" y1="448.50" x2="42.50" y2="448.50" stroke="#111" stroke-width="0.8" />
<text class="s" x="35.50" y="451.00" font-size="7.0" fill="#222" font-weight="bold" text-anchor="end" letter-spacing="0.4" stroke="#222" stroke-width="0.14">0</text>
<line x1="38.90" y1="427.56" x2="42.50" y2="427.56" stroke="#111" stroke-width="0.8" />
<text class="s" x="35.50" y="430.06" font-size="7.0" fill="#222" font-weight="bold" text-anchor="end" letter-spacing="0.4" stroke="#222" stroke-width="0.14">20</text>
<line x1="38.90" y1="406.62" x2="42.50" y2="406.62" stroke="#111" stroke-width="0.8" />
<text class="s" x="35.50" y="409.12" font-size="7.0" fill="#222" font-weight="bold" text-anchor="end" letter-spacing="0.4" stroke="#222" stroke-width="0.14">40</text>
<line x1="38.90" y1="385.68" x2="42.50" y2="385.68" stroke="#111" stroke-width="0.8" />
<text class="s" x="35.50" y="388.18" font-size="7.0" fill="#222" font-weight="bold" text-anchor="end" letter-spacing="0.4" stroke="#222" stroke-width="0.14">60</text>
<line x1="38.90" y1="364.74" x2="42.50" y2="364.74" stroke="#111" stroke-width="0.8" />
<text class="s" x="35.50" y="367.24" font-size="7.0" fill="#222" font-weight="bold" text-anchor="end" letter-spacing="0.4" stroke="#222" stroke-width="0.14">80</text>
<line x1="38.90" y1="343.80" x2="42.50" y2="343.80" stroke="#111" stroke-width="0.8" />
<text class="s" x="35.50" y="346.30" font-size="7.0" fill="#222" font-weight="bold" text-anchor="end" letter-spacing="0.4" stroke="#222" stroke-width="0.14">100</text>
<text class="s" x="14.00" y="396.65" font-size="8.0" fill="#222" font-weight="bold" text-anchor="middle" letter-spacing="0.2" stroke="#222" stroke-width="0.14" transform="rotate(-90 14.00 396.65)">Cell population (%)</text>
<text class="s" x="77.82" y="459.10" font-size="6.6" fill="#222" font-weight="bold" text-anchor="middle" letter-spacing="0.6" stroke="#222" stroke-width="0.02">Sub-G1</text>
<text class="s" x="112.84" y="459.10" font-size="6.6" fill="#222" font-weight="bold" text-anchor="middle" letter-spacing="0.6" stroke="#222" stroke-width="0.02">G1</text>
<text class="s" x="147.86" y="459.10" font-size="6.6" fill="#222" font-weight="bold" text-anchor="middle" letter-spacing="0.6" stroke="#222" stroke-width="0.02">S</text>
<text class="s" x="182.88" y="459.10" font-size="6.6" fill="#222" font-weight="bold" text-anchor="middle" letter-spacing="0.6" stroke="#222" stroke-width="0.02">G2</text>
<text class="s" x="130.05" y="469.80" font-size="8.6" fill="#222" font-weight="bold" text-anchor="middle" letter-spacing="0.85" stroke="#222" stroke-width="0.02">Cell cycle phase</text>
<line x1="164.50" y1="343.80" x2="164.50" y2="385.50" stroke="#111" stroke-width="0.8" />
<rect x="167.90" y="349.70" width="15.90" height="3.00" fill="#000000" stroke="#222" stroke-width="0.35" />
<text class="s" x="187.10" y="353.20" font-size="5.4" fill="#222" font-weight="bold" letter-spacing="0.6" stroke="#222" stroke-width="0.14">0  m M</text>
<rect x="167.90" y="356.90" width="15.90" height="3.00" fill="#e01010" stroke="#222" stroke-width="0.35" />
<text class="s" x="187.10" y="360.40" font-size="5.4" fill="#222" font-weight="bold" letter-spacing="0.6" stroke="#222" stroke-width="0.14">0.5  m M</text>
<rect x="167.90" y="364.10" width="15.90" height="3.00" fill="#22dd22" stroke="#222" stroke-width="0.35" />
<text class="s" x="187.10" y="367.60" font-size="5.4" fill="#222" font-weight="bold" letter-spacing="0.6" stroke="#222" stroke-width="0.14">1  m M</text>
<rect x="167.90" y="371.30" width="15.90" height="3.00" fill="#f2f020" stroke="#222" stroke-width="0.35" />
<text class="s" x="187.10" y="374.80" font-size="5.4" fill="#222" font-weight="bold" letter-spacing="0.6" stroke="#222" stroke-width="0.14">5  m M</text>
<rect x="167.90" y="378.50" width="15.90" height="3.00" fill="#1010cc" stroke="#222" stroke-width="0.35" />
<text class="s" x="187.10" y="382.00" font-size="5.4" fill="#222" font-weight="bold" letter-spacing="0.6" stroke="#222" stroke-width="0.14">10  m M</text>
<text class="s" x="358.80" y="327.30" font-size="8.2" fill="#111" font-weight="bold" text-anchor="middle" letter-spacing="0.9" stroke="#111" stroke-width="0.14">48 h</text>
<rect x="296.48" y="448.50" width="2.90" height="0.60" fill="#000000" stroke="#111" stroke-width="0.35" />
<rect x="300.73" y="448.50" width="2.90" height="0.60" fill="#e01010" stroke="#111" stroke-width="0.35" />
<rect x="304.98" y="448.50" width="2.90" height="0.60" fill="#22dd22" stroke="#111" stroke-width="0.35" />
<line x1="310.68" y1="443.87" x2="310.68" y2="443.03" stroke="#555" stroke-width="0.6" />
<line x1="309.43" y1="443.03" x2="311.93" y2="443.03" stroke="#555" stroke-width="0.6" />
<rect x="309.23" y="443.87" width="2.90" height="5.24" fill="#f2f020" stroke="#111" stroke-width="0.35" />
<line x1="314.93" y1="436.85" x2="314.93" y2="435.28" stroke="#555" stroke-width="0.6" />
<line x1="313.68" y1="435.28" x2="316.18" y2="435.28" stroke="#555" stroke-width="0.6" />
<rect x="313.48" y="436.85" width="2.90" height="12.25" fill="#1010cc" stroke="#111" stroke-width="0.35" />
<line x1="306.18" y1="449.10" x2="306.18" y2="451.30" stroke="#111" stroke-width="0.8" />
<line x1="333.01" y1="369.21" x2="333.01" y2="368.48" stroke="#555" stroke-width="0.6" />
<line x1="331.76" y1="368.48" x2="334.26" y2="368.48" stroke="#555" stroke-width="0.6" />
<rect x="331.56" y="369.21" width="2.90" height="79.89" fill="#000000" stroke="#111" stroke-width="0.35" />
<line x1="337.26" y1="371.41" x2="337.26" y2="370.57" stroke="#555" stroke-width="0.6" />
<line x1="336.01" y1="370.57" x2="338.51" y2="370.57" stroke="#555" stroke-width="0.6" />
<rect x="335.81" y="371.41" width="2.90" height="77.69" fill="#e01010" stroke="#111" stroke-width="0.35" />
<line x1="341.51" y1="368.90" x2="341.51" y2="368.17" stroke="#555" stroke-width="0.6" />
<line x1="340.26" y1="368.17" x2="342.76" y2="368.17" stroke="#555" stroke-width="0.6" />
<rect x="340.06" y="368.90" width="2.90" height="80.20" fill="#22dd22" stroke="#111" stroke-width="0.35" />
<line x1="345.76" y1="356.02" x2="345.76" y2="355.39" stroke="#555" stroke-width="0.6" />
<line x1="344.51" y1="355.39" x2="347.01" y2="355.39" stroke="#555" stroke-width="0.6" />
<rect x="344.31" y="356.02" width="2.90" height="93.08" fill="#f2f020" stroke="#111" stroke-width="0.35" />
<line x1="350.01" y1="373.30" x2="350.01" y2="372.67" stroke="#555" stroke-width="0.6" />
<line x1="348.76" y1="372.67" x2="351.26" y2="372.67" stroke="#555" stroke-width="0.6" />
<rect x="348.56" y="373.30" width="2.90" height="75.80" fill="#1010cc" stroke="#111" stroke-width="0.35" />
<line x1="341.26" y1="449.10" x2="341.26" y2="451.30" stroke="#111" stroke-width="0.8" />
<line x1="368.09" y1="437.16" x2="368.09" y2="434.02" stroke="#555" stroke-width="0.6" />
<line x1="366.84" y1="434.02" x2="369.34" y2="434.02" stroke="#555" stroke-width="0.6" />
<rect x="366.64" y="437.16" width="2.90" height="11.94" fill="#000000" stroke="#111" stroke-width="0.35" />
<line x1="372.34" y1="435.80" x2="372.34" y2="432.24" stroke="#555" stroke-width="0.6" />
<line x1="371.09" y1="432.24" x2="373.59" y2="432.24" stroke="#555" stroke-width="0.6" />
<rect x="370.89" y="435.80" width="2.90" height="13.30" fill="#e01010" stroke="#111" stroke-width="0.35" />
<line x1="376.59" y1="436.95" x2="376.59" y2="434.23" stroke="#555" stroke-width="0.6" />
<line x1="375.34" y1="434.23" x2="377.84" y2="434.23" stroke="#555" stroke-width="0.6" />
<rect x="375.14" y="436.95" width="2.90" height="12.15" fill="#22dd22" stroke="#111" stroke-width="0.35" />
<line x1="380.84" y1="445.96" x2="380.84" y2="444.91" stroke="#555" stroke-width="0.6" />
<line x1="379.59" y1="444.91" x2="382.09" y2="444.91" stroke="#555" stroke-width="0.6" />
<rect x="379.39" y="445.96" width="2.90" height="3.14" fill="#f2f020" stroke="#111" stroke-width="0.35" />
<line x1="385.09" y1="440.72" x2="385.09" y2="438.42" stroke="#555" stroke-width="0.6" />
<line x1="383.84" y1="438.42" x2="386.34" y2="438.42" stroke="#555" stroke-width="0.6" />
<rect x="383.64" y="440.72" width="2.90" height="8.38" fill="#1010cc" stroke="#111" stroke-width="0.35" />
<line x1="376.34" y1="449.10" x2="376.34" y2="451.30" stroke="#111" stroke-width="0.8" />
<line x1="403.17" y1="438.63" x2="403.17" y2="436.01" stroke="#555" stroke-width="0.6" />
<line x1="401.92" y1="436.01" x2="404.42" y2="436.01" stroke="#555" stroke-width="0.6" />
<rect x="401.72" y="438.63" width="2.90" height="10.47" fill="#000000" stroke="#111" stroke-width="0.35" />
<line x1="407.42" y1="437.69" x2="407.42" y2="435.07" stroke="#555" stroke-width="0.6" />
<line x1="406.17" y1="435.07" x2="408.67" y2="435.07" stroke="#555" stroke-width="0.6" />
<rect x="405.97" y="437.69" width="2.90" height="11.41" fill="#e01010" stroke="#111" stroke-width="0.35" />
<line x1="411.67" y1="438.94" x2="411.67" y2="435.80" stroke="#555" stroke-width="0.6" />
<line x1="410.42" y1="435.80" x2="412.92" y2="435.80" stroke="#555" stroke-width="0.6" />
<rect x="410.22" y="438.94" width="2.90" height="10.16" fill="#22dd22" stroke="#111" stroke-width="0.35" />
<line x1="415.92" y1="446.17" x2="415.92" y2="445.33" stroke="#555" stroke-width="0.6" />
<line x1="414.67" y1="445.33" x2="417.17" y2="445.33" stroke="#555" stroke-width="0.6" />
<rect x="414.47" y="446.17" width="2.90" height="2.93" fill="#f2f020" stroke="#111" stroke-width="0.35" />
<line x1="420.17" y1="443.03" x2="420.17" y2="440.72" stroke="#555" stroke-width="0.6" />
<line x1="418.92" y1="440.72" x2="421.42" y2="440.72" stroke="#555" stroke-width="0.6" />
<rect x="418.72" y="443.03" width="2.90" height="6.07" fill="#1010cc" stroke="#111" stroke-width="0.35" />
<line x1="411.42" y1="449.10" x2="411.42" y2="451.30" stroke="#111" stroke-width="0.8" />
<path d="M298.30,447.50 L298.30,429.30 L314.60,429.30 L314.60,434.00" fill="none" stroke="#666" stroke-width="0.7" />
<text class="s" x="306.45" y="430.98" font-size="6.0" fill="#333" font-weight="bold" text-anchor="middle" letter-spacing="-0.3" stroke="#333" stroke-width="0.05">***</text>
<path d="M298.30,447.50 L298.30,438.00 L310.20,438.00 L310.20,442.00" fill="none" stroke="#666" stroke-width="0.7" />
<text class="s" x="304.25" y="439.68" font-size="6.0" fill="#333" font-weight="bold" text-anchor="middle" letter-spacing="-0.3" stroke="#333" stroke-width="0.05">**</text>
<path d="M332.80,365.70 L332.80,348.40 L349.60,348.40 L349.60,370.00" fill="none" stroke="#666" stroke-width="0.7" />
<text class="s" x="341.20" y="349.08" font-size="6.0" fill="#333" font-weight="bold" text-anchor="middle" letter-spacing="-0.3" stroke="#333" stroke-width="0.05">*</text>
<path d="M332.80,365.70 L332.80,353.30 L346.30,353.30 L346.30,354.90" fill="none" stroke="#666" stroke-width="0.7" />
<text class="s" x="339.55" y="354.98" font-size="6.0" fill="#333" font-weight="bold" text-anchor="middle" letter-spacing="-0.3" stroke="#333" stroke-width="0.05">***</text>
<rect x="271.10" y="344.40" width="175.40" height="104.70" fill="none" stroke="#111" stroke-width="1.4" />
<line x1="267.50" y1="449.10" x2="271.10" y2="449.10" stroke="#111" stroke-width="0.8" />
<text class="s" x="264.10" y="451.60" font-size="7.0" fill="#222" font-weight="bold" text-anchor="end" letter-spacing="0.4" stroke="#222" stroke-width="0.14">0</text>
<line x1="267.50" y1="428.16" x2="271.10" y2="428.16" stroke="#111" stroke-width="0.8" />
<text class="s" x="264.10" y="430.66" font-size="7.0" fill="#222" font-weight="bold" text-anchor="end" letter-spacing="0.4" stroke="#222" stroke-width="0.14">20</text>
<line x1="267.50" y1="407.22" x2="271.10" y2="407.22" stroke="#111" stroke-width="0.8" />
<text class="s" x="264.10" y="409.72" font-size="7.0" fill="#222" font-weight="bold" text-anchor="end" letter-spacing="0.4" stroke="#222" stroke-width="0.14">40</text>
<line x1="267.50" y1="386.28" x2="271.10" y2="386.28" stroke="#111" stroke-width="0.8" />
<text class="s" x="264.10" y="388.78" font-size="7.0" fill="#222" font-weight="bold" text-anchor="end" letter-spacing="0.4" stroke="#222" stroke-width="0.14">60</text>
<line x1="267.50" y1="365.34" x2="271.10" y2="365.34" stroke="#111" stroke-width="0.8" />
<text class="s" x="264.10" y="367.84" font-size="7.0" fill="#222" font-weight="bold" text-anchor="end" letter-spacing="0.4" stroke="#222" stroke-width="0.14">80</text>
<line x1="267.50" y1="344.40" x2="271.10" y2="344.40" stroke="#111" stroke-width="0.8" />
<text class="s" x="264.10" y="346.90" font-size="7.0" fill="#222" font-weight="bold" text-anchor="end" letter-spacing="0.4" stroke="#222" stroke-width="0.14">100</text>
<text class="s" x="242.60" y="397.25" font-size="8.0" fill="#222" font-weight="bold" text-anchor="middle" letter-spacing="0.2" stroke="#222" stroke-width="0.14" transform="rotate(-90 242.60 397.25)">Cell population (%)</text>
<text class="s" x="306.48" y="459.70" font-size="6.6" fill="#222" font-weight="bold" text-anchor="middle" letter-spacing="0.6" stroke="#222" stroke-width="0.02">Sub-G1</text>
<text class="s" x="341.56" y="459.70" font-size="6.6" fill="#222" font-weight="bold" text-anchor="middle" letter-spacing="0.6" stroke="#222" stroke-width="0.02">G1</text>
<text class="s" x="376.64" y="459.70" font-size="6.6" fill="#222" font-weight="bold" text-anchor="middle" letter-spacing="0.6" stroke="#222" stroke-width="0.02">S</text>
<text class="s" x="411.72" y="459.70" font-size="6.6" fill="#222" font-weight="bold" text-anchor="middle" letter-spacing="0.6" stroke="#222" stroke-width="0.02">G2</text>
<text class="s" x="358.80" y="469.80" font-size="8.6" fill="#222" font-weight="bold" text-anchor="middle" letter-spacing="0.85" stroke="#222" stroke-width="0.02">Cell cycle phase</text>
<text class="s" x="591.00" y="327.30" font-size="8.2" fill="#111" font-weight="bold" text-anchor="middle" letter-spacing="0.9" stroke="#111" stroke-width="0.14">72 h</text>
<rect x="528.38" y="446.83" width="2.90" height="1.77" fill="#000000" stroke="#111" stroke-width="0.35" />
<line x1="534.08" y1="445.69" x2="534.08" y2="445.27" stroke="#555" stroke-width="0.6" />
<line x1="532.83" y1="445.27" x2="535.33" y2="445.27" stroke="#555" stroke-width="0.6" />
<rect x="532.63" y="445.69" width="2.90" height="2.91" fill="#e01010" stroke="#111" stroke-width="0.35" />
<line x1="538.33" y1="444.13" x2="538.33" y2="442.36" stroke="#555" stroke-width="0.6" />
<line x1="537.08" y1="442.36" x2="539.58" y2="442.36" stroke="#555" stroke-width="0.6" />
<rect x="536.88" y="444.13" width="2.90" height="4.47" fill="#22dd22" stroke="#111" stroke-width="0.35" />
<line x1="542.58" y1="436.12" x2="542.58" y2="434.56" stroke="#555" stroke-width="0.6" />
<line x1="541.33" y1="434.56" x2="543.83" y2="434.56" stroke="#555" stroke-width="0.6" />
<rect x="541.13" y="436.12" width="2.90" height="12.48" fill="#f2f020" stroke="#111" stroke-width="0.35" />
<line x1="546.83" y1="403.67" x2="546.83" y2="400.76" stroke="#555" stroke-width="0.6" />
<line x1="545.58" y1="400.76" x2="548.08" y2="400.76" stroke="#555" stroke-width="0.6" />
<rect x="545.38" y="403.67" width="2.90" height="44.93" fill="#1010cc" stroke="#111" stroke-width="0.35" />
<line x1="538.08" y1="448.60" x2="538.08" y2="450.80" stroke="#111" stroke-width="0.8" />
<rect x="563.66" y="366.23" width="2.90" height="82.37" fill="#000000" stroke="#111" stroke-width="0.35" />
<line x1="569.36" y1="365.50" x2="569.36" y2="364.36" stroke="#555" stroke-width="0.6" />
<line x1="568.11" y1="364.36" x2="570.61" y2="364.36" stroke="#555" stroke-width="0.6" />
<rect x="567.91" y="365.50" width="2.90" height="83.10" fill="#e01010" stroke="#111" stroke-width="0.35" />
<line x1="573.61" y1="367.06" x2="573.61" y2="365.40" stroke="#555" stroke-width="0.6" />
<line x1="572.36" y1="365.40" x2="574.86" y2="365.40" stroke="#555" stroke-width="0.6" />
<rect x="572.16" y="367.06" width="2.90" height="81.54" fill="#22dd22" stroke="#111" stroke-width="0.35" />
<line x1="577.86" y1="364.36" x2="577.86" y2="362.80" stroke="#555" stroke-width="0.6" />
<line x1="576.61" y1="362.80" x2="579.11" y2="362.80" stroke="#555" stroke-width="0.6" />
<rect x="576.41" y="364.36" width="2.90" height="84.24" fill="#f2f020" stroke="#111" stroke-width="0.35" />
<line x1="582.11" y1="398.37" x2="582.11" y2="396.08" stroke="#555" stroke-width="0.6" />
<line x1="580.86" y1="396.08" x2="583.36" y2="396.08" stroke="#555" stroke-width="0.6" />
<rect x="580.66" y="398.37" width="2.90" height="50.23" fill="#1010cc" stroke="#111" stroke-width="0.35" />
<line x1="573.36" y1="448.60" x2="573.36" y2="450.80" stroke="#111" stroke-width="0.8" />
<line x1="600.39" y1="439.86" x2="600.39" y2="439.24" stroke="#555" stroke-width="0.6" />
<line x1="599.14" y1="439.24" x2="601.64" y2="439.24" stroke="#555" stroke-width="0.6" />
<rect x="598.94" y="439.86" width="2.90" height="8.74" fill="#000000" stroke="#111" stroke-width="0.35" />
<line x1="604.64" y1="440.90" x2="604.64" y2="440.28" stroke="#555" stroke-width="0.6" />
<line x1="603.39" y1="440.28" x2="605.89" y2="440.28" stroke="#555" stroke-width="0.6" />
<rect x="603.19" y="440.90" width="2.90" height="7.70" fill="#e01010" stroke="#111" stroke-width="0.35" />
<line x1="608.89" y1="441.32" x2="608.89" y2="440.49" stroke="#555" stroke-width="0.6" />
<line x1="607.64" y1="440.49" x2="610.14" y2="440.49" stroke="#555" stroke-width="0.6" />
<rect x="607.44" y="441.32" width="2.90" height="7.28" fill="#22dd22" stroke="#111" stroke-width="0.35" />
<line x1="613.14" y1="445.90" x2="613.14" y2="444.96" stroke="#555" stroke-width="0.6" />
<line x1="611.89" y1="444.96" x2="614.39" y2="444.96" stroke="#555" stroke-width="0.6" />
<rect x="611.69" y="445.90" width="2.90" height="2.70" fill="#f2f020" stroke="#111" stroke-width="0.35" />
<line x1="617.39" y1="446.00" x2="617.39" y2="445.17" stroke="#555" stroke-width="0.6" />
<line x1="616.14" y1="445.17" x2="618.64" y2="445.17" stroke="#555" stroke-width="0.6" />
<rect x="615.94" y="446.00" width="2.90" height="2.60" fill="#1010cc" stroke="#111" stroke-width="0.35" />
<line x1="608.64" y1="448.60" x2="608.64" y2="450.80" stroke="#111" stroke-width="0.8" />
<line x1="635.67" y1="439.24" x2="635.67" y2="438.72" stroke="#555" stroke-width="0.6" />
<line x1="634.42" y1="438.72" x2="636.92" y2="438.72" stroke="#555" stroke-width="0.6" />
<rect x="634.22" y="439.24" width="2.90" height="9.36" fill="#000000" stroke="#111" stroke-width="0.35" />
<line x1="639.92" y1="440.59" x2="639.92" y2="439.97" stroke="#555" stroke-width="0.6" />
<line x1="638.67" y1="439.97" x2="641.17" y2="439.97" stroke="#555" stroke-width="0.6" />
<rect x="638.47" y="440.59" width="2.90" height="8.01" fill="#e01010" stroke="#111" stroke-width="0.35" />
<line x1="644.17" y1="440.90" x2="644.17" y2="440.28" stroke="#555" stroke-width="0.6" />
<line x1="642.92" y1="440.28" x2="645.42" y2="440.28" stroke="#555" stroke-width="0.6" />
<rect x="642.72" y="440.90" width="2.90" height="7.70" fill="#22dd22" stroke="#111" stroke-width="0.35" />
<line x1="648.42" y1="445.48" x2="648.42" y2="444.44" stroke="#555" stroke-width="0.6" />
<line x1="647.17" y1="444.44" x2="649.67" y2="444.44" stroke="#555" stroke-width="0.6" />
<rect x="646.97" y="445.48" width="2.90" height="3.12" fill="#f2f020" stroke="#111" stroke-width="0.35" />
<line x1="652.67" y1="445.27" x2="652.67" y2="444.23" stroke="#555" stroke-width="0.6" />
<line x1="651.42" y1="444.23" x2="653.92" y2="444.23" stroke="#555" stroke-width="0.6" />
<rect x="651.22" y="445.27" width="2.90" height="3.33" fill="#1010cc" stroke="#111" stroke-width="0.35" />
<line x1="643.92" y1="448.60" x2="643.92" y2="450.80" stroke="#111" stroke-width="0.8" />
<path d="M529.30,445.00 L529.30,395.20 L547.50,395.20 L547.50,400.80" fill="none" stroke="#666" stroke-width="0.7" />
<text class="s" x="538.40" y="396.88" font-size="6.0" fill="#333" font-weight="bold" text-anchor="middle" letter-spacing="-0.3" stroke="#333" stroke-width="0.05">***</text>
<path d="M529.30,445.00 L529.30,430.00 L543.50,430.00 L543.50,435.30" fill="none" stroke="#666" stroke-width="0.7" />
<text class="s" x="536.40" y="431.68" font-size="6.0" fill="#333" font-weight="bold" text-anchor="middle" letter-spacing="-0.3" stroke="#333" stroke-width="0.05">**</text>
<path d="M564.20,366.00 L564.20,357.20 L583.40,357.20 L583.40,396.80" fill="none" stroke="#666" stroke-width="0.7" />
<text class="s" x="573.80" y="358.88" font-size="6.0" fill="#333" font-weight="bold" text-anchor="middle" letter-spacing="-0.3" stroke="#333" stroke-width="0.05">***</text>
<path d="M599.70,439.50 L599.70,427.20 L617.40,427.20 L617.40,444.50" fill="none" stroke="#666" stroke-width="0.7" />
<text class="s" x="608.55" y="428.88" font-size="6.0" fill="#333" font-weight="bold" text-anchor="middle" letter-spacing="-0.3" stroke="#333" stroke-width="0.05">*</text>
<path d="M599.70,439.50 L599.70,434.50 L612.60,434.50 L612.60,444.50" fill="none" stroke="#666" stroke-width="0.7" />
<text class="s" x="606.15" y="436.18" font-size="6.0" fill="#333" font-weight="bold" text-anchor="middle" letter-spacing="-0.3" stroke="#333" stroke-width="0.05">*</text>
<path d="M634.50,438.80 L634.50,427.20 L652.70,427.20 L652.70,444.00" fill="none" stroke="#666" stroke-width="0.7" />
<text class="s" x="643.60" y="428.88" font-size="6.0" fill="#333" font-weight="bold" text-anchor="middle" letter-spacing="-0.3" stroke="#333" stroke-width="0.05">*</text>
<path d="M634.50,438.80 L634.50,430.00 L648.30,430.00 L648.30,444.00" fill="none" stroke="#666" stroke-width="0.7" />
<text class="s" x="641.40" y="431.68" font-size="6.0" fill="#333" font-weight="bold" text-anchor="middle" letter-spacing="-0.3" stroke="#333" stroke-width="0.05">***</text>
<path d="M634.50,438.80 L634.50,435.30 L644.40,435.30 L644.40,443.50" fill="none" stroke="#666" stroke-width="0.7" />
<text class="s" x="639.45" y="436.98" font-size="6.0" fill="#333" font-weight="bold" text-anchor="middle" letter-spacing="-0.3" stroke="#333" stroke-width="0.05">**</text>
<rect x="502.80" y="344.60" width="176.40" height="104.00" fill="none" stroke="#111" stroke-width="1.4" />
<line x1="499.20" y1="448.60" x2="502.80" y2="448.60" stroke="#111" stroke-width="0.8" />
<text class="s" x="495.80" y="451.10" font-size="7.0" fill="#222" font-weight="bold" text-anchor="end" letter-spacing="0.4" stroke="#222" stroke-width="0.14">0</text>
<line x1="499.20" y1="427.80" x2="502.80" y2="427.80" stroke="#111" stroke-width="0.8" />
<text class="s" x="495.80" y="430.30" font-size="7.0" fill="#222" font-weight="bold" text-anchor="end" letter-spacing="0.4" stroke="#222" stroke-width="0.14">20</text>
<line x1="499.20" y1="407.00" x2="502.80" y2="407.00" stroke="#111" stroke-width="0.8" />
<text class="s" x="495.80" y="409.50" font-size="7.0" fill="#222" font-weight="bold" text-anchor="end" letter-spacing="0.4" stroke="#222" stroke-width="0.14">40</text>
<line x1="499.20" y1="386.20" x2="502.80" y2="386.20" stroke="#111" stroke-width="0.8" />
<text class="s" x="495.80" y="388.70" font-size="7.0" fill="#222" font-weight="bold" text-anchor="end" letter-spacing="0.4" stroke="#222" stroke-width="0.14">60</text>
<line x1="499.20" y1="365.40" x2="502.80" y2="365.40" stroke="#111" stroke-width="0.8" />
<text class="s" x="495.80" y="367.90" font-size="7.0" fill="#222" font-weight="bold" text-anchor="end" letter-spacing="0.4" stroke="#222" stroke-width="0.14">80</text>
<line x1="499.20" y1="344.60" x2="502.80" y2="344.60" stroke="#111" stroke-width="0.8" />
<text class="s" x="495.80" y="347.10" font-size="7.0" fill="#222" font-weight="bold" text-anchor="end" letter-spacing="0.4" stroke="#222" stroke-width="0.14">100</text>
<text class="s" x="474.30" y="397.10" font-size="8.0" fill="#222" font-weight="bold" text-anchor="middle" letter-spacing="0.2" stroke="#222" stroke-width="0.14" transform="rotate(-90 474.30 397.10)">Cell population (%)</text>
<text class="s" x="538.38" y="459.20" font-size="6.6" fill="#222" font-weight="bold" text-anchor="middle" letter-spacing="0.6" stroke="#222" stroke-width="0.02">Sub-G1</text>
<text class="s" x="573.66" y="459.20" font-size="6.6" fill="#222" font-weight="bold" text-anchor="middle" letter-spacing="0.6" stroke="#222" stroke-width="0.02">G1</text>
<text class="s" x="608.94" y="459.20" font-size="6.6" fill="#222" font-weight="bold" text-anchor="middle" letter-spacing="0.6" stroke="#222" stroke-width="0.02">S</text>
<text class="s" x="644.22" y="459.20" font-size="6.6" fill="#222" font-weight="bold" text-anchor="middle" letter-spacing="0.6" stroke="#222" stroke-width="0.02">G2</text>
<text class="s" x="591.00" y="469.80" font-size="8.6" fill="#222" font-weight="bold" text-anchor="middle" letter-spacing="0.85" stroke="#222" stroke-width="0.02">Cell cycle phase</text>
<defs><filter id="bl" x="-20%" y="-100%" width="140%" height="300%"><feGaussianBlur stdDeviation="0.9 0.75"/></filter><filter id="bl2" x="-5%" y="-20%" width="110%" height="140%"><feGaussianBlur stdDeviation="0.6"/></filter><filter id="bl3" x="-30%" y="-60%" width="160%" height="220%"><feGaussianBlur stdDeviation="2.2 1.8"/></filter></defs>
<text class="t" x="123.50" y="502.90" font-size="11.0" fill="#111" text-anchor="middle">mM</text>
<line x1="50.00" y1="506.10" x2="196.80" y2="506.10" stroke="#222" stroke-width="1.3" />
<text class="t" x="63.60" y="515.80" font-size="9.6" fill="#222" text-anchor="middle">0</text>
<text class="t" x="96.60" y="515.80" font-size="9.6" fill="#222" text-anchor="middle">0.5</text>
<text class="t" x="129.30" y="515.80" font-size="9.6" fill="#222" text-anchor="middle">1</text>
<text class="t" x="158.40" y="515.80" font-size="9.6" fill="#222" text-anchor="middle">5</text>
<text class="t" x="188.90" y="515.80" font-size="9.6" fill="#222" text-anchor="middle">10</text>
<text class="t" x="47.60" y="537.40" font-size="10.8" fill="#222" text-anchor="end">p21</text>
<text class="t" x="47.60" y="563.50" font-size="10.8" fill="#222" text-anchor="end">CDK4</text>
<text class="t" x="47.60" y="589.90" font-size="10.8" fill="#222" text-anchor="end">Cyclin E</text>
<text class="t" x="47.60" y="616.40" font-size="10.8" fill="#222" text-anchor="end">GADPH</text>
<rect x="47.50" y="517.60" width="152.40" height="22.40" fill="#e7e7e7" filter="url(#bl2)"/>
<rect x="50.20" y="542.50" width="149.70" height="27.20" fill="#e5e5e5" filter="url(#bl2)"/>
<rect x="50.80" y="574.00" width="151.50" height="19.00" fill="#f3f3f3" filter="url(#bl2)"/>
<rect x="51.10" y="602.20" width="149.90" height="20.70" fill="#e0e0e0" filter="url(#bl2)"/>
<rect x="85.0" y="545.5" width="28.0" height="7" fill="#d6d6d6" opacity="0.4" filter="url(#bl3)"/>
<rect x="115.5" y="545.5" width="26.5" height="7" fill="#d6d6d6" opacity="0.4" filter="url(#bl3)"/>
<rect x="144.0" y="545.5" width="27.0" height="7" fill="#d6d6d6" opacity="0.4" filter="url(#bl3)"/>
<rect x="172.5" y="545.5" width="26.5" height="7" fill="#d6d6d6" opacity="0.4" filter="url(#bl3)"/>
<rect x="54.30" y="529.10" width="25.20" height="1.80" rx="4.00" ry="0.90" fill="#d6d6d6" opacity="1.0" filter="url(#bl)"/>
<rect x="85.90" y="528.80" width="21.60" height="2.00" rx="3.46" ry="1.00" fill="#a2a2a2" opacity="1.0" filter="url(#bl)"/>
<rect x="115.00" y="528.35" width="23.00" height="2.10" rx="3.68" ry="1.05" fill="#959595" opacity="1.0" filter="url(#bl)"/>
<rect x="142.30" y="526.75" width="28.70" height="4.70" rx="4.00" ry="2.35" fill="#050505" opacity="1.0" filter="url(#bl)"/>
<rect x="171.50" y="526.65" width="28.30" height="4.90" rx="4.00" ry="2.45" fill="#050505" opacity="1.0" filter="url(#bl)"/>
<rect x="54.30" y="553.45" width="28.10" height="2.70" rx="4.00" ry="1.35" fill="#141414" opacity="1.0" filter="url(#bl)"/>
<rect x="85.90" y="554.75" width="26.80" height="2.70" rx="4.00" ry="1.35" fill="#141414" opacity="1.0" filter="url(#bl)"/>
<rect x="116.20" y="555.95" width="25.20" height="2.50" rx="4.00" ry="1.25" fill="#181818" opacity="1.0" filter="url(#bl)"/>
<rect x="144.90" y="556.55" width="24.50" height="2.50" rx="3.92" ry="1.25" fill="#181818" opacity="1.0" filter="url(#bl)"/>
<rect x="173.50" y="556.30" width="25.10" height="2.40" rx="4.00" ry="1.20" fill="#1c1c1c" opacity="1.0" filter="url(#bl)"/>
<rect x="53.20" y="588.40" width="25.70" height="1.60" rx="4.00" ry="0.80" fill="#dcdcdc" opacity="1.0" filter="url(#bl)"/>
<rect x="84.10" y="588.40" width="24.60" height="1.60" rx="3.94" ry="0.80" fill="#dcdcdc" opacity="1.0" filter="url(#bl)"/>
<rect x="114.50" y="588.40" width="23.30" height="1.60" rx="3.73" ry="0.80" fill="#dcdcdc" opacity="1.0" filter="url(#bl)"/>
<rect x="144.30" y="588.40" width="23.30" height="1.60" rx="3.73" ry="0.80" fill="#dcdcdc" opacity="1.0" filter="url(#bl)"/>
<rect x="174.00" y="588.40" width="22.80" height="1.60" rx="3.65" ry="0.80" fill="#dcdcdc" opacity="1.0" filter="url(#bl)"/>
<rect x="53.20" y="584.70" width="25.70" height="2.60" rx="4.00" ry="1.30" fill="#1e1e1e" opacity="1.0" filter="url(#bl)"/>
<rect x="84.10" y="584.80" width="24.60" height="2.40" rx="3.94" ry="1.20" fill="#4a4a4a" opacity="1.0" filter="url(#bl)"/>
<rect x="114.50" y="584.85" width="23.30" height="2.30" rx="3.73" ry="1.15" fill="#707070" opacity="1.0" filter="url(#bl)"/>
<rect x="144.30" y="585.00" width="23.30" height="2.00" rx="3.73" ry="1.00" fill="#999999" opacity="1.0" filter="url(#bl)"/>
<rect x="174.00" y="584.50" width="22.80" height="2.20" rx="3.65" ry="1.10" fill="#808080" opacity="1.0" filter="url(#bl)"/>
<rect x="53.80" y="611.50" width="31.20" height="4.60" rx="4.00" ry="2.30" fill="#050505" opacity="1.0" filter="url(#bl)"/>
<rect x="85.60" y="611.70" width="29.40" height="4.40" rx="4.00" ry="2.20" fill="#050505" opacity="1.0" filter="url(#bl)"/>
<rect x="115.80" y="612.00" width="28.00" height="4.20" rx="4.00" ry="2.10" fill="#080808" opacity="1.0" filter="url(#bl)"/>
<rect x="144.20" y="612.00" width="27.40" height="4.40" rx="4.00" ry="2.20" fill="#050505" opacity="1.0" filter="url(#bl)"/>
<rect x="172.00" y="611.70" width="28.60" height="4.60" rx="4.00" ry="2.30" fill="#050505" opacity="1.0" filter="url(#bl)"/>
<rect x="59.70" y="774.87" width="20.20" height="9.13" fill="#c0c0c0" stroke="#5a5a5a" stroke-width="0.6" />
<line x1="69.80" y1="784.00" x2="69.80" y2="786.40" stroke="#111" stroke-width="0.8" />
<line x1="101.75" y1="765.29" x2="101.75" y2="756.34" stroke="#666" stroke-width="0.7" />
<line x1="99.55" y1="756.34" x2="103.95" y2="756.34" stroke="#666" stroke-width="0.7" />
<rect x="91.80" y="765.29" width="19.90" height="18.71" fill="#c0c0c0" stroke="#5a5a5a" stroke-width="0.6" />
<line x1="101.75" y1="784.00" x2="101.75" y2="786.40" stroke="#111" stroke-width="0.8" />
<line x1="133.70" y1="755.70" x2="133.70" y2="746.57" stroke="#666" stroke-width="0.7" />
<line x1="131.50" y1="746.57" x2="135.90" y2="746.57" stroke="#666" stroke-width="0.7" />
<rect x="123.60" y="755.70" width="20.20" height="28.30" fill="#c0c0c0" stroke="#5a5a5a" stroke-width="0.6" />
<line x1="133.70" y1="784.00" x2="133.70" y2="786.40" stroke="#111" stroke-width="0.8" />
<line x1="165.85" y1="688.15" x2="165.85" y2="680.39" stroke="#666" stroke-width="0.7" />
<line x1="163.65" y1="680.39" x2="168.05" y2="680.39" stroke="#666" stroke-width="0.7" />
<rect x="155.90" y="688.15" width="19.90" height="95.85" fill="#c0c0c0" stroke="#5a5a5a" stroke-width="0.6" />
<line x1="165.85" y1="784.00" x2="165.85" y2="786.40" stroke="#111" stroke-width="0.8" />
<line x1="197.75" y1="679.93" x2="197.75" y2="664.69" stroke="#666" stroke-width="0.7" />
<line x1="195.55" y1="664.69" x2="199.95" y2="664.69" stroke="#666" stroke-width="0.7" />
<rect x="187.90" y="679.93" width="19.70" height="104.07" fill="#c0c0c0" stroke="#5a5a5a" stroke-width="0.6" />
<line x1="197.75" y1="784.00" x2="197.75" y2="786.40" stroke="#111" stroke-width="0.8" />
<text class="s" x="103.00" y="754.60" font-size="8.0" fill="#222" font-weight="bold" text-anchor="middle" letter-spacing="-0.2" stroke="#222" stroke-width="0.14">*</text>
<text class="s" x="133.80" y="744.80" font-size="8.0" fill="#222" font-weight="bold" text-anchor="middle" letter-spacing="-0.2" stroke="#222" stroke-width="0.14">**</text>
<text class="s" x="165.60" y="680.80" font-size="8.0" fill="#222" font-weight="bold" text-anchor="middle" letter-spacing="-0.2" stroke="#222" stroke-width="0.14">***</text>
<text class="s" x="197.60" y="664.20" font-size="8.0" fill="#222" font-weight="bold" text-anchor="middle" letter-spacing="-0.2" stroke="#222" stroke-width="0.14">***</text>
<rect x="45.80" y="656.20" width="176.40" height="127.80" fill="none" stroke="#000" stroke-width="1.4" />
<line x1="41.80" y1="784.00" x2="45.80" y2="784.00" stroke="#111" stroke-width="0.8" />
<text class="s" x="37.60" y="786.90" font-size="8.0" fill="#222" font-weight="bold" text-anchor="end" stroke="#222" stroke-width="0.14">0</text>
<line x1="41.80" y1="765.74" x2="45.80" y2="765.74" stroke="#111" stroke-width="0.8" />
<text class="s" x="37.60" y="768.64" font-size="8.0" fill="#222" font-weight="bold" text-anchor="end" stroke="#222" stroke-width="0.14">2</text>
<line x1="41.80" y1="747.49" x2="45.80" y2="747.49" stroke="#111" stroke-width="0.8" />
<text class="s" x="37.60" y="750.39" font-size="8.0" fill="#222" font-weight="bold" text-anchor="end" stroke="#222" stroke-width="0.14">4</text>
<line x1="41.80" y1="729.23" x2="45.80" y2="729.23" stroke="#111" stroke-width="0.8" />
<text class="s" x="37.60" y="732.13" font-size="8.0" fill="#222" font-weight="bold" text-anchor="end" stroke="#222" stroke-width="0.14">6</text>
<line x1="41.80" y1="710.97" x2="45.80" y2="710.97" stroke="#111" stroke-width="0.8" />
<text class="s" x="37.60" y="713.87" font-size="8.0" fill="#222" font-weight="bold" text-anchor="end" stroke="#222" stroke-width="0.14">8</text>
<line x1="41.80" y1="692.71" x2="45.80" y2="692.71" stroke="#111" stroke-width="0.8" />
<text class="s" x="37.60" y="695.61" font-size="8.0" fill="#222" font-weight="bold" text-anchor="end" stroke="#222" stroke-width="0.14">10</text>
<line x1="41.80" y1="674.46" x2="45.80" y2="674.46" stroke="#111" stroke-width="0.8" />
<text class="s" x="37.60" y="677.36" font-size="8.0" fill="#222" font-weight="bold" text-anchor="end" stroke="#222" stroke-width="0.14">12</text>
<line x1="41.80" y1="656.20" x2="45.80" y2="656.20" stroke="#111" stroke-width="0.8" />
<text class="s" x="37.60" y="659.10" font-size="8.0" fill="#222" font-weight="bold" text-anchor="end" stroke="#222" stroke-width="0.14">14</text>
<text class="s" x="68.90" y="797.50" font-size="7.7" fill="#222" font-weight="bold" text-anchor="middle" stroke="#222" stroke-width="0.14">control</text>
<text class="s" x="103.00" y="797.50" font-size="7.7" fill="#222" font-weight="bold" text-anchor="middle" stroke="#222" stroke-width="0.14">0.5</text>
<text class="s" x="133.80" y="797.50" font-size="7.7" fill="#222" font-weight="bold" text-anchor="middle" stroke="#222" stroke-width="0.14">1</text>
<text class="s" x="165.60" y="797.50" font-size="7.7" fill="#222" font-weight="bold" text-anchor="middle" stroke="#222" stroke-width="0.14">5</text>
<text class="s" x="199.50" y="797.50" font-size="7.7" fill="#222" font-weight="bold" text-anchor="middle" stroke="#222" stroke-width="0.14">10</text>
<text class="s" x="134.00" y="815.90" font-size="10.3" fill="#222" font-weight="bold" text-anchor="middle" stroke="#222" stroke-width="0.14">Biobutyrate (mM)</text>
<text class="s" x="10.90" y="720.40" font-size="10.0" fill="#222" font-weight="bold" text-anchor="middle" stroke="#222" stroke-width="0.14" transform="rotate(-90 10.90 720.40)">p21 levels</text>
<text class="s" x="23.00" y="722.30" font-size="10.0" fill="#222" font-weight="bold" text-anchor="middle" stroke="#222" stroke-width="0.14" transform="rotate(-90 23.00 722.30)">(Relative to control)</text>
<rect x="285.00" y="677.58" width="20.80" height="106.42" fill="#c0c0c0" stroke="#5a5a5a" stroke-width="0.6" />
<line x1="295.40" y1="784.00" x2="295.40" y2="786.40" stroke="#111" stroke-width="0.8" />
<line x1="328.00" y1="678.65" x2="328.00" y2="668.01" stroke="#666" stroke-width="0.7" />
<line x1="325.80" y1="668.01" x2="330.20" y2="668.01" stroke="#666" stroke-width="0.7" />
<rect x="318.30" y="678.65" width="19.40" height="105.35" fill="#c0c0c0" stroke="#5a5a5a" stroke-width="0.6" />
<line x1="328.00" y1="784.00" x2="328.00" y2="786.40" stroke="#111" stroke-width="0.8" />
<line x1="359.90" y1="694.93" x2="359.90" y2="680.99" stroke="#666" stroke-width="0.7" />
<line x1="357.70" y1="680.99" x2="362.10" y2="680.99" stroke="#666" stroke-width="0.7" />
<rect x="350.20" y="694.93" width="19.40" height="89.07" fill="#c0c0c0" stroke="#5a5a5a" stroke-width="0.6" />
<line x1="359.90" y1="784.00" x2="359.90" y2="786.40" stroke="#111" stroke-width="0.8" />
<line x1="391.75" y1="713.87" x2="391.75" y2="690.78" stroke="#666" stroke-width="0.7" />
<line x1="389.55" y1="690.78" x2="393.95" y2="690.78" stroke="#666" stroke-width="0.7" />
<rect x="382.00" y="713.87" width="19.50" height="70.13" fill="#c0c0c0" stroke="#5a5a5a" stroke-width="0.6" />
<line x1="391.75" y1="784.00" x2="391.75" y2="786.40" stroke="#111" stroke-width="0.8" />
<line x1="423.95" y1="693.87" x2="423.95" y2="687.16" stroke="#666" stroke-width="0.7" />
<line x1="421.75" y1="687.16" x2="426.15" y2="687.16" stroke="#666" stroke-width="0.7" />
<rect x="414.20" y="693.87" width="19.50" height="90.13" fill="#c0c0c0" stroke="#5a5a5a" stroke-width="0.6" />
<line x1="423.95" y1="784.00" x2="423.95" y2="786.40" stroke="#111" stroke-width="0.8" />
<text class="s" x="424.50" y="684.00" font-size="8.0" fill="#222" font-weight="bold" text-anchor="middle" letter-spacing="-0.2" stroke="#222" stroke-width="0.14">*</text>
<rect x="271.30" y="656.30" width="177.30" height="127.70" fill="none" stroke="#000" stroke-width="1.4" />
<line x1="267.30" y1="784.00" x2="271.30" y2="784.00" stroke="#111" stroke-width="0.8" />
<text class="s" x="263.10" y="786.90" font-size="8.0" fill="#222" font-weight="bold" text-anchor="end" stroke="#222" stroke-width="0.14">0.0</text>
<line x1="267.30" y1="762.72" x2="271.30" y2="762.72" stroke="#111" stroke-width="0.8" />
<text class="s" x="263.10" y="765.62" font-size="8.0" fill="#222" font-weight="bold" text-anchor="end" stroke="#222" stroke-width="0.14">0.2</text>
<line x1="267.30" y1="741.43" x2="271.30" y2="741.43" stroke="#111" stroke-width="0.8" />
<text class="s" x="263.10" y="744.33" font-size="8.0" fill="#222" font-weight="bold" text-anchor="end" stroke="#222" stroke-width="0.14">0.4</text>
<line x1="267.30" y1="720.15" x2="271.30" y2="720.15" stroke="#111" stroke-width="0.8" />
<text class="s" x="263.10" y="723.05" font-size="8.0" fill="#222" font-weight="bold" text-anchor="end" stroke="#222" stroke-width="0.14">0.6</text>
<line x1="267.30" y1="698.87" x2="271.30" y2="698.87" stroke="#111" stroke-width="0.8" />
<text class="s" x="263.10" y="701.77" font-size="8.0" fill="#222" font-weight="bold" text-anchor="end" stroke="#222" stroke-width="0.14">0.8</text>
<line x1="267.30" y1="677.58" x2="271.30" y2="677.58" stroke="#111" stroke-width="0.8" />
<text class="s" x="263.10" y="680.48" font-size="8.0" fill="#222" font-weight="bold" text-anchor="end" stroke="#222" stroke-width="0.14">1.0</text>
<line x1="267.30" y1="656.30" x2="271.30" y2="656.30" stroke="#111" stroke-width="0.8" />
<text class="s" x="263.10" y="659.20" font-size="8.0" fill="#222" font-weight="bold" text-anchor="end" stroke="#222" stroke-width="0.14">1.2</text>
<text class="s" x="295.50" y="797.50" font-size="7.7" fill="#222" font-weight="bold" text-anchor="middle" stroke="#222" stroke-width="0.14">control</text>
<text class="s" x="328.20" y="797.50" font-size="7.7" fill="#222" font-weight="bold" text-anchor="middle" stroke="#222" stroke-width="0.14">0.5</text>
<text class="s" x="359.90" y="797.50" font-size="7.7" fill="#222" font-weight="bold" text-anchor="middle" stroke="#222" stroke-width="0.14">1</text>
<text class="s" x="392.00" y="797.50" font-size="7.7" fill="#222" font-weight="bold" text-anchor="middle" stroke="#222" stroke-width="0.14">5</text>
<text class="s" x="424.50" y="797.50" font-size="7.7" fill="#222" font-weight="bold" text-anchor="middle" stroke="#222" stroke-width="0.14">10</text>
<text class="s" x="360.00" y="815.90" font-size="10.3" fill="#222" font-weight="bold" text-anchor="middle" stroke="#222" stroke-width="0.14">Biobutyrate (mM)</text>
<text class="s" x="246.20" y="721.80" font-size="10.0" fill="#222" font-weight="bold" text-anchor="middle" stroke="#222" stroke-width="0.14" transform="rotate(-90 246.20 721.80)">(Relative to control)</text>
<rect x="518.00" y="677.58" width="19.40" height="106.42" fill="#c0c0c0" stroke="#5a5a5a" stroke-width="0.6" />
<line x1="527.70" y1="784.00" x2="527.70" y2="786.40" stroke="#111" stroke-width="0.8" />
<line x1="559.90" y1="689.93" x2="559.90" y2="680.99" stroke="#666" stroke-width="0.7" />
<line x1="557.70" y1="680.99" x2="562.10" y2="680.99" stroke="#666" stroke-width="0.7" />
<rect x="549.90" y="689.93" width="20.00" height="94.07" fill="#c0c0c0" stroke="#5a5a5a" stroke-width="0.6" />
<line x1="559.90" y1="784.00" x2="559.90" y2="786.40" stroke="#111" stroke-width="0.8" />
<line x1="592.10" y1="698.87" x2="592.10" y2="685.03" stroke="#666" stroke-width="0.7" />
<line x1="589.90" y1="685.03" x2="594.30" y2="685.03" stroke="#666" stroke-width="0.7" />
<rect x="582.40" y="698.87" width="19.40" height="85.13" fill="#c0c0c0" stroke="#5a5a5a" stroke-width="0.6" />
<line x1="592.10" y1="784.00" x2="592.10" y2="786.40" stroke="#111" stroke-width="0.8" />
<line x1="624.00" y1="726.96" x2="624.00" y2="721.96" stroke="#666" stroke-width="0.7" />
<line x1="621.80" y1="721.96" x2="626.20" y2="721.96" stroke="#666" stroke-width="0.7" />
<rect x="614.30" y="726.96" width="19.40" height="57.04" fill="#c0c0c0" stroke="#5a5a5a" stroke-width="0.6" />
<line x1="624.00" y1="784.00" x2="624.00" y2="786.40" stroke="#111" stroke-width="0.8" />
<line x1="656.20" y1="721.21" x2="656.20" y2="718.02" stroke="#666" stroke-width="0.7" />
<line x1="654.00" y1="718.02" x2="658.40" y2="718.02" stroke="#666" stroke-width="0.7" />
<rect x="646.20" y="721.21" width="20.00" height="62.79" fill="#c0c0c0" stroke="#5a5a5a" stroke-width="0.6" />
<line x1="656.20" y1="784.00" x2="656.20" y2="786.40" stroke="#111" stroke-width="0.8" />
<text class="s" x="623.20" y="718.00" font-size="8.0" fill="#222" font-weight="bold" text-anchor="middle" letter-spacing="-0.2" stroke="#222" stroke-width="0.14">**</text>
<rect x="503.50" y="656.30" width="176.50" height="127.70" fill="none" stroke="#000" stroke-width="1.4" />
<line x1="499.50" y1="784.00" x2="503.50" y2="784.00" stroke="#111" stroke-width="0.8" />
<text class="s" x="495.30" y="786.90" font-size="8.0" fill="#222" font-weight="bold" text-anchor="end" stroke="#222" stroke-width="0.14">0.0</text>
<line x1="499.50" y1="762.72" x2="503.50" y2="762.72" stroke="#111" stroke-width="0.8" />
<text class="s" x="495.30" y="765.62" font-size="8.0" fill="#222" font-weight="bold" text-anchor="end" stroke="#222" stroke-width="0.14">0.2</text>
<line x1="499.50" y1="741.43" x2="503.50" y2="741.43" stroke="#111" stroke-width="0.8" />
<text class="s" x="495.30" y="744.33" font-size="8.0" fill="#222" font-weight="bold" text-anchor="end" stroke="#222" stroke-width="0.14">0.4</text>
<line x1="499.50" y1="720.15" x2="503.50" y2="720.15" stroke="#111" stroke-width="0.8" />
<text class="s" x="495.30" y="723.05" font-size="8.0" fill="#222" font-weight="bold" text-anchor="end" stroke="#222" stroke-width="0.14">0.6</text>
<line x1="499.50" y1="698.87" x2="503.50" y2="698.87" stroke="#111" stroke-width="0.8" />
<text class="s" x="495.30" y="701.77" font-size="8.0" fill="#222" font-weight="bold" text-anchor="end" stroke="#222" stroke-width="0.14">0.8</text>
<line x1="499.50" y1="677.58" x2="503.50" y2="677.58" stroke="#111" stroke-width="0.8" />
<text class="s" x="495.30" y="680.48" font-size="8.0" fill="#222" font-weight="bold" text-anchor="end" stroke="#222" stroke-width="0.14">1.0</text>
<line x1="499.50" y1="656.30" x2="503.50" y2="656.30" stroke="#111" stroke-width="0.8" />
<text class="s" x="495.30" y="659.20" font-size="8.0" fill="#222" font-weight="bold" text-anchor="end" stroke="#222" stroke-width="0.14">1.2</text>
<text class="s" x="531.90" y="797.50" font-size="7.7" fill="#222" font-weight="bold" text-anchor="middle" stroke="#222" stroke-width="0.14">Control</text>
<text class="s" x="573.50" y="797.50" font-size="7.7" fill="#222" font-weight="bold" text-anchor="middle" stroke="#222" stroke-width="0.14">0.5</text>
<text class="s" x="604.00" y="797.50" font-size="7.7" fill="#222" font-weight="bold" text-anchor="middle" stroke="#222" stroke-width="0.14">1</text>
<text class="s" x="635.90" y="797.50" font-size="7.7" fill="#222" font-weight="bold" text-anchor="middle" stroke="#222" stroke-width="0.14">5</text>
<text class="s" x="669.80" y="797.50" font-size="7.7" fill="#222" font-weight="bold" text-anchor="middle" stroke="#222" stroke-width="0.14">10</text>
<text class="s" x="591.80" y="815.90" font-size="10.3" fill="#222" font-weight="bold" text-anchor="middle" stroke="#222" stroke-width="0.14">Biobutyrate (mM)</text>
<text class="s" x="467.20" y="720.50" font-size="10.0" fill="#222" font-weight="bold" text-anchor="middle" stroke="#222" stroke-width="0.14" transform="rotate(-90 467.20 720.50)">Cyclin E levels</text>
<text class="s" x="478.90" y="721.30" font-size="10.0" fill="#222" font-weight="bold" text-anchor="middle" stroke="#222" stroke-width="0.14" transform="rotate(-90 478.90 721.30)">(Relative to control)</text>
</svg>
</body></html>
